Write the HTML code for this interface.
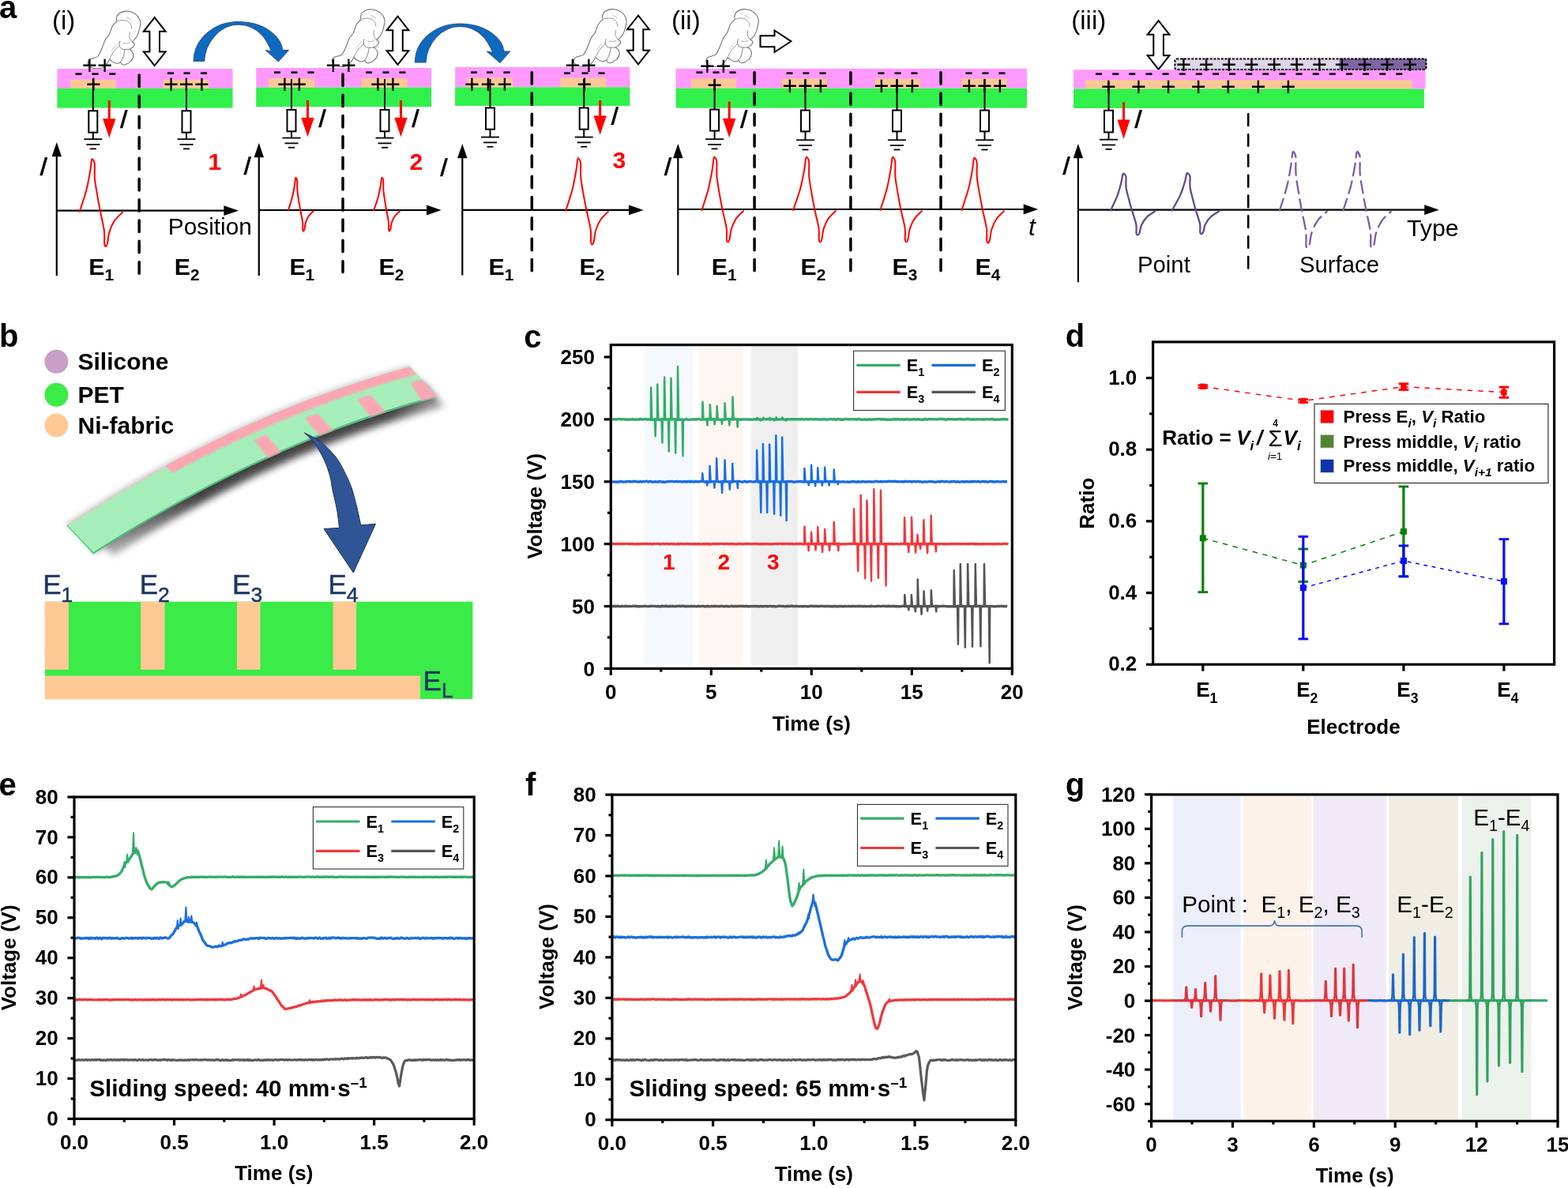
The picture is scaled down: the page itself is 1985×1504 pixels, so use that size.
<!DOCTYPE html>
<html lang="en"><head><meta charset="utf-8"><title>Figure</title>
<style>
html,body{margin:0;padding:0;background:#fff;}
body{width:1985px;height:1504px;overflow:hidden;}
svg{display:block;font-family:"Liberation Sans",sans-serif;}
</style></head><body>
<svg width="1985" height="1504" viewBox="0 0 1985 1504">
<rect width="1985" height="1504" fill="#fff"/>
<g id="pa">
<text x="-1" y="22.6" font-size="40" font-weight="bold" font-style="normal" fill="#000" text-anchor="start" >a</text>
<text x="66" y="36.8" font-size="33" font-weight="normal" font-style="normal" fill="#000" text-anchor="start" >(i)</text>
<g transform="translate(100 5) scale(1)" fill="#fefefe" stroke="#6e6e6e" stroke-width="1.05" stroke-linejoin="round" stroke-linecap="round">
<path d="M47.9,22.1 C46.5,17.5 48,14.2 51,12 C54,9.6 58,8.8 62,9.3 C68,10 73.5,13.5 76.3,18.5 C78.3,22.5 78.2,27 76.6,31 C76,35 74.8,38.5 73,41.5 C71.3,44.3 69.3,46.3 67.2,47.9 C70,48.8 71.2,50.5 69.8,52.8 C68.5,55 66.5,56.5 64,57.5 C66.8,59 68.6,61.5 68.9,64.6 C69,68 67.6,70.5 65.5,72.5 C63,75 60,76.8 57,77.3 C55,77.3 53.5,75.6 52.7,73.6 C51,75 49.3,75.5 47.5,75.3 C44,74.6 41,72.6 38.9,70 L35.9,74.8 C34,77.5 32,79.5 29.9,80.8 C25,82.3 19.5,82 15,80.2 C12.5,78.8 11.3,76.8 11.3,74.8 C11.2,73.5 11.5,72.6 12,71.8 C12.8,70.5 13.8,69.8 15,69.4 C18,68.5 21.5,68.2 23.9,66.4 C26.5,62.5 28.2,58 29.9,53.9 C31,50.8 32,47.8 33.5,44.9 C35,42.8 36.8,41 38.3,38.9 C39.6,35.5 40.4,32 41.9,28.7 C43.5,26 45.5,23.8 47.9,22.1 Z"/>
<path d="M47.9,22.1 C51.5,20.2 56.5,20 60,21.2 C64.5,23 66.8,26.5 66.5,31" fill="none" stroke="#8f8f8f" stroke-width="0.9"/>
<path d="M60.5,17 C63,17.8 65,19.3 66.3,21" fill="none" stroke="#a5a5a5" stroke-width="0.8"/>
<path d="M64.5,36 C63,39.5 63.5,43.5 67.2,47.9" fill="none" stroke="#8a8a8a" stroke-width="0.9"/>
<path d="M52,47 C50.5,50 50.5,53 52.5,55.5 C54,57 56,57.6 57.5,57.5 C60,57.8 62.3,57.8 64,57.5" fill="none" stroke="#7a7a7a" stroke-width="0.95"/>
<path d="M56,49.5 C58.5,50.5 62,50.2 64.5,49" fill="none" stroke="#9a9a9a" stroke-width="0.8"/>
<path d="M38.9,70 C40.5,64.5 44.5,58.5 50.5,53.5" fill="none" stroke="#8a8a8a" stroke-width="0.9"/>
<path d="M52.7,73.6 C55.5,69.5 57.5,64 57.8,58" fill="none" stroke="#7f7f7f" stroke-width="0.95"/>
<path d="M41,60 C43,56.5 45.5,53.5 48,51" fill="none" stroke="#c2c2c2" stroke-width="0.8"/>
</g>
<polygon points="195.7,22.2 209.6,39.8 202,39.8 202,65.6 209.6,65.6 195.7,83.2 181.8,65.6 189.4,65.6 189.4,39.8 181.8,39.8" fill="#fff" stroke="#000" stroke-width="2" stroke-linejoin="miter"/>
<path d="M245.1,77.4 C245.1,49.4 271.52,27.7 301.55,27.7 C336.38,27.7 356.2,47.7 357.7,63.6 L365.2,63.6 L352.6,77.7 L336.5,63.6 L343.7,65.2 C339.2,53.7 329.17,31.3 301.55,31.1 C278.73,31.1 259.6,53.4 258.6,77.4 Z" fill="#0C6BBE" stroke="#2F5597" stroke-width="1.2" stroke-linejoin="round"/>
<rect x="72.4" y="87" width="222.2" height="25" fill="#FF99FF" />
<rect x="72.4" y="112" width="222.2" height="24.6" fill="#31F04B" />
<rect x="89" y="100.8" width="57.6" height="11.2" fill="#FDC896" />
<rect x="206.4" y="100.8" width="57.9" height="11.2" fill="#FDC896" />
<line x1="176.2" y1="94.95" x2="176.2" y2="346.5" stroke="#000" stroke-width="3.5" stroke-dasharray="14.5 11.8" stroke-linecap="round"/>
<line x1="117.8" y1="100" x2="117.8" y2="140.3" stroke="#000" stroke-width="2" />
<rect x="112.3" y="140.3" width="11" height="27.4" fill="#fff" stroke="#000" stroke-width="2" />
<line x1="117.8" y1="167.7" x2="117.8" y2="176.2" stroke="#000" stroke-width="2" />
<line x1="106.3" y1="176.2" x2="129.3" y2="176.2" stroke="#000" stroke-width="1.8" />
<line x1="109.3" y1="183" x2="126.3" y2="183" stroke="#000" stroke-width="1.8" />
<line x1="113.8" y1="188.4" x2="121.8" y2="188.4" stroke="#000" stroke-width="1.8" />
<line x1="138.3" y1="127" x2="138.3" y2="152.3" stroke="#FF0000" stroke-width="3" />
<polygon points="130.1,150.3 146.5,150.3 138.3,174.5" fill="#FF0000" stroke="none" stroke-width="0" />
<text transform="translate(150.8 162.1) skewX(-5)" font-size="33" font-style="italic" stroke="#000" stroke-width="0.35">I</text>
<line x1="236" y1="100" x2="236" y2="140.3" stroke="#000" stroke-width="2" />
<rect x="230.5" y="140.3" width="11" height="27.4" fill="#fff" stroke="#000" stroke-width="2" />
<line x1="236" y1="167.7" x2="236" y2="176.2" stroke="#000" stroke-width="2" />
<line x1="224.5" y1="176.2" x2="247.5" y2="176.2" stroke="#000" stroke-width="1.8" />
<line x1="227.5" y1="183" x2="244.5" y2="183" stroke="#000" stroke-width="1.8" />
<line x1="232" y1="188.4" x2="240" y2="188.4" stroke="#000" stroke-width="1.8" />
<text x="113.4" y="93.76" font-size="33" font-weight="normal" font-style="normal" fill="#000" text-anchor="middle" >+</text>
<text x="132.7" y="93.76" font-size="33" font-weight="normal" font-style="normal" fill="#000" text-anchor="middle" >+</text>
<text x="99.5" y="103.2" font-size="33" font-weight="normal" font-style="normal" fill="#000" text-anchor="middle" >-</text>
<text x="120.5" y="103.2" font-size="33" font-weight="normal" font-style="normal" fill="#000" text-anchor="middle" >-</text>
<text x="142.2" y="103.2" font-size="33" font-weight="normal" font-style="normal" fill="#000" text-anchor="middle" >-</text>
<text x="118.4" y="118.26" font-size="33" font-weight="normal" font-style="normal" fill="#000" text-anchor="middle" >+</text>
<text x="215.9" y="102.1" font-size="33" font-weight="normal" font-style="normal" fill="#000" text-anchor="middle" >-</text>
<text x="236.5" y="102.1" font-size="33" font-weight="normal" font-style="normal" fill="#000" text-anchor="middle" >-</text>
<text x="258" y="102.1" font-size="33" font-weight="normal" font-style="normal" fill="#000" text-anchor="middle" >-</text>
<text x="216.7" y="118.26" font-size="33" font-weight="normal" font-style="normal" fill="#000" text-anchor="middle" >+</text>
<text x="236" y="118.26" font-size="33" font-weight="normal" font-style="normal" fill="#000" text-anchor="middle" >+</text>
<text x="255.4" y="118.26" font-size="33" font-weight="normal" font-style="normal" fill="#000" text-anchor="middle" >+</text>
<line x1="71.8" y1="192" x2="71.8" y2="349" stroke="#000" stroke-width="2.2" />
<polygon points="71.8,180 65.6,198.3 78,198.3" fill="#000" stroke="none" stroke-width="0" />
<line x1="71.8" y1="266.7" x2="290" y2="266.7" stroke="#000" stroke-width="2.2" />
<polygon points="302,266.7 283.4,260.3 283.4,273.1" fill="#000" stroke="none" stroke-width="0" />
<text transform="translate(49.3 222.2) skewX(-5)" font-size="33" font-style="italic" stroke="#000" stroke-width="0.35">I</text>
<path d="M100.8,267.7C102.16,263.41 107.14,249.08 109.28,240.91C111.41,232.75 113.12,222.57 114.17,216.65C115.21,210.73 115.33,206.36 115.8,203.92C116.27,201.48 116.46,200.89 117.1,201.4C117.74,201.91 119.34,203.1 119.8,207.1C120.26,211.1 119.33,219.44 119.97,226.4C120.61,233.35 122.67,243.99 123.79,250.59C124.92,257.2 125.71,261 127,267.7C128.3,274.4 131.07,285.95 131.9,292.5C132.73,299.04 131.86,305.48 132.19,308.58C132.53,311.69 133.36,312.15 134,311.9C134.64,311.65 135.52,309.84 136.2,306.99C136.89,304.14 136.93,298.46 138.31,294.09C139.68,289.71 142.18,283.64 144.82,279.63C147.46,275.62 153.2,270.72 154.8,269.03" fill="none" stroke="#FF0000" stroke-width="2" stroke-linecap="round" stroke-linejoin="round"/>
<text x="263.5" y="215.1" font-size="30" font-weight="bold" font-style="normal" fill="#FF0000" text-anchor="start" >1</text>
<text x="212.8" y="297.4" font-size="29.8" font-weight="normal" font-style="normal" fill="#000" text-anchor="start" >Position</text>
<text x="112.2" y="348.1" font-size="30.3" font-weight="bold" font-style="normal" fill="#000" text-anchor="start" >E<tspan font-size="20.91" dy="6.5">1</tspan></text>
<text x="220.7" y="348.1" font-size="30.3" font-weight="bold" font-style="normal" fill="#000" text-anchor="start" >E<tspan font-size="20.91" dy="6.5">2</tspan></text>
<g transform="translate(409.2 2.6) scale(1)" fill="#fefefe" stroke="#6e6e6e" stroke-width="1.05" stroke-linejoin="round" stroke-linecap="round">
<path d="M47.9,22.1 C46.5,17.5 48,14.2 51,12 C54,9.6 58,8.8 62,9.3 C68,10 73.5,13.5 76.3,18.5 C78.3,22.5 78.2,27 76.6,31 C76,35 74.8,38.5 73,41.5 C71.3,44.3 69.3,46.3 67.2,47.9 C70,48.8 71.2,50.5 69.8,52.8 C68.5,55 66.5,56.5 64,57.5 C66.8,59 68.6,61.5 68.9,64.6 C69,68 67.6,70.5 65.5,72.5 C63,75 60,76.8 57,77.3 C55,77.3 53.5,75.6 52.7,73.6 C51,75 49.3,75.5 47.5,75.3 C44,74.6 41,72.6 38.9,70 L35.9,74.8 C34,77.5 32,79.5 29.9,80.8 C25,82.3 19.5,82 15,80.2 C12.5,78.8 11.3,76.8 11.3,74.8 C11.2,73.5 11.5,72.6 12,71.8 C12.8,70.5 13.8,69.8 15,69.4 C18,68.5 21.5,68.2 23.9,66.4 C26.5,62.5 28.2,58 29.9,53.9 C31,50.8 32,47.8 33.5,44.9 C35,42.8 36.8,41 38.3,38.9 C39.6,35.5 40.4,32 41.9,28.7 C43.5,26 45.5,23.8 47.9,22.1 Z"/>
<path d="M47.9,22.1 C51.5,20.2 56.5,20 60,21.2 C64.5,23 66.8,26.5 66.5,31" fill="none" stroke="#8f8f8f" stroke-width="0.9"/>
<path d="M60.5,17 C63,17.8 65,19.3 66.3,21" fill="none" stroke="#a5a5a5" stroke-width="0.8"/>
<path d="M64.5,36 C63,39.5 63.5,43.5 67.2,47.9" fill="none" stroke="#8a8a8a" stroke-width="0.9"/>
<path d="M52,47 C50.5,50 50.5,53 52.5,55.5 C54,57 56,57.6 57.5,57.5 C60,57.8 62.3,57.8 64,57.5" fill="none" stroke="#7a7a7a" stroke-width="0.95"/>
<path d="M56,49.5 C58.5,50.5 62,50.2 64.5,49" fill="none" stroke="#9a9a9a" stroke-width="0.8"/>
<path d="M38.9,70 C40.5,64.5 44.5,58.5 50.5,53.5" fill="none" stroke="#8a8a8a" stroke-width="0.9"/>
<path d="M52.7,73.6 C55.5,69.5 57.5,64 57.8,58" fill="none" stroke="#7f7f7f" stroke-width="0.95"/>
<path d="M41,60 C43,56.5 45.5,53.5 48,51" fill="none" stroke="#c2c2c2" stroke-width="0.8"/>
</g>
<polygon points="503.5,20.7 517.4,38.3 509.8,38.3 509.8,64.2 517.4,64.2 503.5,81.8 489.6,64.2 497.2,64.2 497.2,38.3 489.6,38.3" fill="#fff" stroke="#000" stroke-width="2" stroke-linejoin="miter"/>
<path d="M525.5,79 C525.5,51 551.9,30 581.9,30 C616.7,30 636.5,50 638,65.2 L645.5,65.2 L632.9,79.3 L616.8,65.2 L624,66.8 C619.5,56 609.5,33.6 581.9,33.4 C559.1,33.4 540,55 539,79 Z" fill="#0C6BBE" stroke="#2F5597" stroke-width="1.2" stroke-linejoin="round"/>
<rect x="324.2" y="86" width="221.8" height="24.7" fill="#FF99FF" />
<rect x="324.2" y="110.7" width="221.8" height="24.6" fill="#31F04B" />
<rect x="339.8" y="99.2" width="58.2" height="11.5" fill="#FDC896" />
<rect x="457.8" y="99.2" width="57.6" height="11.5" fill="#FDC896" />
<line x1="434" y1="93.95" x2="434" y2="344.5" stroke="#000" stroke-width="3.5" stroke-dasharray="14.5 11.8" stroke-linecap="round"/>
<line x1="369" y1="100" x2="369" y2="139" stroke="#000" stroke-width="2" />
<rect x="363.5" y="139" width="11" height="27.3" fill="#fff" stroke="#000" stroke-width="2" />
<line x1="369" y1="166.3" x2="369" y2="174.6" stroke="#000" stroke-width="2" />
<line x1="357.5" y1="174.6" x2="380.5" y2="174.6" stroke="#000" stroke-width="1.8" />
<line x1="360.5" y1="181.4" x2="377.5" y2="181.4" stroke="#000" stroke-width="1.8" />
<line x1="365" y1="186.8" x2="373" y2="186.8" stroke="#000" stroke-width="1.8" />
<line x1="389.5" y1="127" x2="389.5" y2="151" stroke="#FF0000" stroke-width="3" />
<polygon points="381.3,149 397.7,149 389.5,173.2" fill="#FF0000" stroke="none" stroke-width="0" />
<text transform="translate(402 160.8) skewX(-5)" font-size="33" font-style="italic" stroke="#000" stroke-width="0.35">I</text>
<line x1="487" y1="100" x2="487" y2="139" stroke="#000" stroke-width="2" />
<rect x="481.5" y="139" width="11" height="27.3" fill="#fff" stroke="#000" stroke-width="2" />
<line x1="487" y1="166.3" x2="487" y2="174.6" stroke="#000" stroke-width="2" />
<line x1="475.5" y1="174.6" x2="498.5" y2="174.6" stroke="#000" stroke-width="1.8" />
<line x1="478.5" y1="181.4" x2="495.5" y2="181.4" stroke="#000" stroke-width="1.8" />
<line x1="483" y1="186.8" x2="491" y2="186.8" stroke="#000" stroke-width="1.8" />
<line x1="507.5" y1="127" x2="507.5" y2="151" stroke="#FF0000" stroke-width="3" />
<polygon points="499.3,149 515.7,149 507.5,173.2" fill="#FF0000" stroke="none" stroke-width="0" />
<text transform="translate(520 160.8) skewX(-5)" font-size="33" font-style="italic" stroke="#000" stroke-width="0.35">I</text>
<text x="422" y="94.26" font-size="33" font-weight="normal" font-style="normal" fill="#000" text-anchor="middle" >+</text>
<text x="441.5" y="94.26" font-size="33" font-weight="normal" font-style="normal" fill="#000" text-anchor="middle" >+</text>
<text x="351" y="101.2" font-size="33" font-weight="normal" font-style="normal" fill="#000" text-anchor="middle" >-</text>
<text x="372.5" y="101.2" font-size="33" font-weight="normal" font-style="normal" fill="#000" text-anchor="middle" >-</text>
<text x="393.5" y="101.2" font-size="33" font-weight="normal" font-style="normal" fill="#000" text-anchor="middle" >-</text>
<text x="360.5" y="117.56" font-size="33" font-weight="normal" font-style="normal" fill="#000" text-anchor="middle" >+</text>
<text x="379" y="117.56" font-size="33" font-weight="normal" font-style="normal" fill="#000" text-anchor="middle" >+</text>
<text x="467" y="101.2" font-size="33" font-weight="normal" font-style="normal" fill="#000" text-anchor="middle" >-</text>
<text x="488.5" y="101.2" font-size="33" font-weight="normal" font-style="normal" fill="#000" text-anchor="middle" >-</text>
<text x="509.5" y="101.2" font-size="33" font-weight="normal" font-style="normal" fill="#000" text-anchor="middle" >-</text>
<text x="478.5" y="117.56" font-size="33" font-weight="normal" font-style="normal" fill="#000" text-anchor="middle" >+</text>
<text x="497.5" y="117.56" font-size="33" font-weight="normal" font-style="normal" fill="#000" text-anchor="middle" >+</text>
<line x1="327.8" y1="193" x2="327.8" y2="349" stroke="#000" stroke-width="2.2" />
<polygon points="327.8,181 321.6,199.3 334,199.3" fill="#000" stroke="none" stroke-width="0" />
<line x1="327.8" y1="266" x2="546.6" y2="266" stroke="#000" stroke-width="2.2" />
<polygon points="558.6,266 540,259.6 540,272.4" fill="#000" stroke="none" stroke-width="0" />
<text transform="translate(307.2 221) skewX(-5)" font-size="33" font-style="italic" stroke="#000" stroke-width="0.35">I</text>
<path d="M364.8,266.5C365.62,263.82 368.65,254.87 369.95,249.77C371.25,244.67 372.28,238.32 372.92,234.62C373.55,230.93 373.62,228.2 373.91,226.67C374.19,225.15 374.33,224.78 374.7,225.1C375.07,225.42 375.97,226.16 376.24,228.66C376.5,231.16 375.97,236.36 376.33,240.71C376.69,245.05 377.86,251.69 378.5,255.82C379.14,259.95 379.59,262.45 380.33,266.5C381.06,270.55 382.64,277.28 383.11,281.14C383.58,285 383.08,288.81 383.27,290.64C383.46,292.48 383.93,292.75 384.3,292.6C384.67,292.45 385.2,291.39 385.61,289.7C386.03,288.02 386.05,284.67 386.87,282.08C387.69,279.5 389.17,275.91 390.75,273.55C392.32,271.18 395.75,268.29 396.7,267.28" fill="none" stroke="#FF0000" stroke-width="2" stroke-linecap="round" stroke-linejoin="round"/>
<path d="M473.1,266.5C473.99,263.82 477.26,254.87 478.66,249.77C480.07,244.67 481.19,238.32 481.87,234.62C482.56,230.93 482.64,228.2 482.94,226.67C483.25,225.15 483.42,224.78 483.8,225.1C484.18,225.42 485.04,226.16 485.29,228.66C485.54,231.16 485.03,236.36 485.38,240.71C485.73,245.05 486.86,251.69 487.48,255.82C488.1,259.95 488.54,262.45 489.25,266.5C489.96,270.55 491.49,277.28 491.95,281.14C492.4,285 491.92,288.81 492.1,290.64C492.29,292.48 492.72,292.75 493.1,292.6C493.48,292.45 494.05,291.39 494.48,289.7C494.91,288.02 494.93,284.67 495.79,282.08C496.65,279.5 498.21,275.91 499.86,273.55C501.51,271.18 505.1,268.29 506.1,267.28" fill="none" stroke="#FF0000" stroke-width="2" stroke-linecap="round" stroke-linejoin="round"/>
<text x="518.5" y="215" font-size="30" font-weight="bold" font-style="normal" fill="#FF0000" text-anchor="start" >2</text>
<text x="366.4" y="348.1" font-size="30.3" font-weight="bold" font-style="normal" fill="#000" text-anchor="start" >E<tspan font-size="20.91" dy="6.5">1</tspan></text>
<text x="479.5" y="348.1" font-size="30.3" font-weight="bold" font-style="normal" fill="#000" text-anchor="start" >E<tspan font-size="20.91" dy="6.5">2</tspan></text>
<g transform="translate(715.2 2.5) scale(1)" fill="#fefefe" stroke="#6e6e6e" stroke-width="1.05" stroke-linejoin="round" stroke-linecap="round">
<path d="M47.9,22.1 C46.5,17.5 48,14.2 51,12 C54,9.6 58,8.8 62,9.3 C68,10 73.5,13.5 76.3,18.5 C78.3,22.5 78.2,27 76.6,31 C76,35 74.8,38.5 73,41.5 C71.3,44.3 69.3,46.3 67.2,47.9 C70,48.8 71.2,50.5 69.8,52.8 C68.5,55 66.5,56.5 64,57.5 C66.8,59 68.6,61.5 68.9,64.6 C69,68 67.6,70.5 65.5,72.5 C63,75 60,76.8 57,77.3 C55,77.3 53.5,75.6 52.7,73.6 C51,75 49.3,75.5 47.5,75.3 C44,74.6 41,72.6 38.9,70 L35.9,74.8 C34,77.5 32,79.5 29.9,80.8 C25,82.3 19.5,82 15,80.2 C12.5,78.8 11.3,76.8 11.3,74.8 C11.2,73.5 11.5,72.6 12,71.8 C12.8,70.5 13.8,69.8 15,69.4 C18,68.5 21.5,68.2 23.9,66.4 C26.5,62.5 28.2,58 29.9,53.9 C31,50.8 32,47.8 33.5,44.9 C35,42.8 36.8,41 38.3,38.9 C39.6,35.5 40.4,32 41.9,28.7 C43.5,26 45.5,23.8 47.9,22.1 Z"/>
<path d="M47.9,22.1 C51.5,20.2 56.5,20 60,21.2 C64.5,23 66.8,26.5 66.5,31" fill="none" stroke="#8f8f8f" stroke-width="0.9"/>
<path d="M60.5,17 C63,17.8 65,19.3 66.3,21" fill="none" stroke="#a5a5a5" stroke-width="0.8"/>
<path d="M64.5,36 C63,39.5 63.5,43.5 67.2,47.9" fill="none" stroke="#8a8a8a" stroke-width="0.9"/>
<path d="M52,47 C50.5,50 50.5,53 52.5,55.5 C54,57 56,57.6 57.5,57.5 C60,57.8 62.3,57.8 64,57.5" fill="none" stroke="#7a7a7a" stroke-width="0.95"/>
<path d="M56,49.5 C58.5,50.5 62,50.2 64.5,49" fill="none" stroke="#9a9a9a" stroke-width="0.8"/>
<path d="M38.9,70 C40.5,64.5 44.5,58.5 50.5,53.5" fill="none" stroke="#8a8a8a" stroke-width="0.9"/>
<path d="M52.7,73.6 C55.5,69.5 57.5,64 57.8,58" fill="none" stroke="#7f7f7f" stroke-width="0.95"/>
<path d="M41,60 C43,56.5 45.5,53.5 48,51" fill="none" stroke="#c2c2c2" stroke-width="0.8"/>
</g>
<polygon points="808,19.6 821.9,37.2 814.3,37.2 814.3,63.7 821.9,63.7 808,81.3 794.1,63.7 801.7,63.7 801.7,37.2 794.1,37.2" fill="#fff" stroke="#000" stroke-width="2" stroke-linejoin="miter"/>
<rect x="576.1" y="85" width="221.3" height="25.3" fill="#FF99FF" />
<rect x="576.1" y="110.3" width="221.3" height="23.7" fill="#31F04B" />
<rect x="591.4" y="98.4" width="57.8" height="11.9" fill="#FDC896" />
<rect x="709.3" y="98.4" width="57.8" height="11.9" fill="#FDC896" />
<line x1="673.3" y1="91.75" x2="673.3" y2="342.7" stroke="#000" stroke-width="3.5" stroke-dasharray="14.5 11.8" stroke-linecap="round"/>
<line x1="620.5" y1="100" x2="620.5" y2="136.5" stroke="#000" stroke-width="2" />
<rect x="615" y="136.5" width="11" height="27.2" fill="#fff" stroke="#000" stroke-width="2" />
<line x1="620.5" y1="163.7" x2="620.5" y2="173.6" stroke="#000" stroke-width="2" />
<line x1="609" y1="173.6" x2="632" y2="173.6" stroke="#000" stroke-width="1.8" />
<line x1="612" y1="180.4" x2="629" y2="180.4" stroke="#000" stroke-width="1.8" />
<line x1="616.5" y1="185.8" x2="624.5" y2="185.8" stroke="#000" stroke-width="1.8" />
<line x1="739.2" y1="100" x2="739.2" y2="136.5" stroke="#000" stroke-width="2" />
<rect x="733.7" y="136.5" width="11" height="27.2" fill="#fff" stroke="#000" stroke-width="2" />
<line x1="739.2" y1="163.7" x2="739.2" y2="173.6" stroke="#000" stroke-width="2" />
<line x1="727.7" y1="173.6" x2="750.7" y2="173.6" stroke="#000" stroke-width="1.8" />
<line x1="730.7" y1="180.4" x2="747.7" y2="180.4" stroke="#000" stroke-width="1.8" />
<line x1="735.2" y1="185.8" x2="743.2" y2="185.8" stroke="#000" stroke-width="1.8" />
<line x1="759.7" y1="127" x2="759.7" y2="148.5" stroke="#FF0000" stroke-width="3" />
<polygon points="751.5,146.5 767.9,146.5 759.7,170.7" fill="#FF0000" stroke="none" stroke-width="0" />
<text transform="translate(772.2 158.3) skewX(-5)" font-size="33" font-style="italic" stroke="#000" stroke-width="0.35">I</text>
<text x="600" y="100.6" font-size="33" font-weight="normal" font-style="normal" fill="#000" text-anchor="middle" >-</text>
<text x="620" y="100.6" font-size="33" font-weight="normal" font-style="normal" fill="#000" text-anchor="middle" >-</text>
<text x="641.5" y="100.6" font-size="33" font-weight="normal" font-style="normal" fill="#000" text-anchor="middle" >-</text>
<text x="597.5" y="117.56" font-size="33" font-weight="normal" font-style="normal" fill="#000" text-anchor="middle" >+</text>
<text x="618" y="117.56" font-size="33" font-weight="normal" font-style="normal" fill="#000" text-anchor="middle" >+</text>
<text x="639" y="117.56" font-size="33" font-weight="normal" font-style="normal" fill="#000" text-anchor="middle" >+</text>
<text x="725" y="94.06" font-size="33" font-weight="normal" font-style="normal" fill="#000" text-anchor="middle" >+</text>
<text x="745.5" y="94.06" font-size="33" font-weight="normal" font-style="normal" fill="#000" text-anchor="middle" >+</text>
<text x="718" y="101.8" font-size="33" font-weight="normal" font-style="normal" fill="#000" text-anchor="middle" >-</text>
<text x="740.5" y="101.8" font-size="33" font-weight="normal" font-style="normal" fill="#000" text-anchor="middle" >-</text>
<text x="761.5" y="101.8" font-size="33" font-weight="normal" font-style="normal" fill="#000" text-anchor="middle" >-</text>
<text x="739.8" y="118.06" font-size="33" font-weight="normal" font-style="normal" fill="#000" text-anchor="middle" >+</text>
<line x1="585.3" y1="194" x2="585.3" y2="348.4" stroke="#000" stroke-width="2.2" />
<polygon points="585.3,182 579.1,200.3 591.5,200.3" fill="#000" stroke="none" stroke-width="0" />
<line x1="585.3" y1="265.9" x2="802.6" y2="265.9" stroke="#000" stroke-width="2.2" />
<polygon points="814.6,265.9 796,259.5 796,272.3" fill="#000" stroke="none" stroke-width="0" />
<text transform="translate(556 223) skewX(-5)" font-size="33" font-style="italic" stroke="#000" stroke-width="0.35">I</text>
<path d="M716.2,266.8C717.54,262.51 722.46,248.15 724.57,239.97C726.68,231.79 728.37,221.6 729.4,215.67C730.43,209.74 730.55,205.37 731.01,202.92C731.48,200.48 731.64,199.89 732.3,200.4C732.96,200.91 734.64,202.11 735.12,206.11C735.59,210.12 734.63,218.46 735.29,225.43C735.96,232.4 738.1,243.05 739.27,249.67C740.44,256.29 741.26,260.24 742.61,266.8C743.97,273.36 746.85,284.39 747.72,290.7C748.58,297 747.67,303.21 748.02,306.2C748.37,309.2 749.26,309.65 749.9,309.4C750.54,309.15 751.35,307.42 752.01,304.67C752.67,301.92 752.7,296.45 754.02,292.23C755.34,288.01 757.72,282.17 760.25,278.3C762.77,274.44 768.27,269.71 769.8,268.08" fill="none" stroke="#FF0000" stroke-width="2" stroke-linecap="round" stroke-linejoin="round"/>
<text x="775.5" y="212.8" font-size="30" font-weight="bold" font-style="normal" fill="#FF0000" text-anchor="start" >3</text>
<text x="618.5" y="348.1" font-size="30.3" font-weight="bold" font-style="normal" fill="#000" text-anchor="start" >E<tspan font-size="20.91" dy="6.5">1</tspan></text>
<text x="733.5" y="348.1" font-size="30.3" font-weight="bold" font-style="normal" fill="#000" text-anchor="start" >E<tspan font-size="20.91" dy="6.5">2</tspan></text>
<text x="850" y="37.2" font-size="33" font-weight="normal" font-style="normal" fill="#000" text-anchor="start" >(ii)</text>
<g transform="translate(882.5 2.5) scale(1)" fill="#fefefe" stroke="#6e6e6e" stroke-width="1.05" stroke-linejoin="round" stroke-linecap="round">
<path d="M47.9,22.1 C46.5,17.5 48,14.2 51,12 C54,9.6 58,8.8 62,9.3 C68,10 73.5,13.5 76.3,18.5 C78.3,22.5 78.2,27 76.6,31 C76,35 74.8,38.5 73,41.5 C71.3,44.3 69.3,46.3 67.2,47.9 C70,48.8 71.2,50.5 69.8,52.8 C68.5,55 66.5,56.5 64,57.5 C66.8,59 68.6,61.5 68.9,64.6 C69,68 67.6,70.5 65.5,72.5 C63,75 60,76.8 57,77.3 C55,77.3 53.5,75.6 52.7,73.6 C51,75 49.3,75.5 47.5,75.3 C44,74.6 41,72.6 38.9,70 L35.9,74.8 C34,77.5 32,79.5 29.9,80.8 C25,82.3 19.5,82 15,80.2 C12.5,78.8 11.3,76.8 11.3,74.8 C11.2,73.5 11.5,72.6 12,71.8 C12.8,70.5 13.8,69.8 15,69.4 C18,68.5 21.5,68.2 23.9,66.4 C26.5,62.5 28.2,58 29.9,53.9 C31,50.8 32,47.8 33.5,44.9 C35,42.8 36.8,41 38.3,38.9 C39.6,35.5 40.4,32 41.9,28.7 C43.5,26 45.5,23.8 47.9,22.1 Z"/>
<path d="M47.9,22.1 C51.5,20.2 56.5,20 60,21.2 C64.5,23 66.8,26.5 66.5,31" fill="none" stroke="#8f8f8f" stroke-width="0.9"/>
<path d="M60.5,17 C63,17.8 65,19.3 66.3,21" fill="none" stroke="#a5a5a5" stroke-width="0.8"/>
<path d="M64.5,36 C63,39.5 63.5,43.5 67.2,47.9" fill="none" stroke="#8a8a8a" stroke-width="0.9"/>
<path d="M52,47 C50.5,50 50.5,53 52.5,55.5 C54,57 56,57.6 57.5,57.5 C60,57.8 62.3,57.8 64,57.5" fill="none" stroke="#7a7a7a" stroke-width="0.95"/>
<path d="M56,49.5 C58.5,50.5 62,50.2 64.5,49" fill="none" stroke="#9a9a9a" stroke-width="0.8"/>
<path d="M38.9,70 C40.5,64.5 44.5,58.5 50.5,53.5" fill="none" stroke="#8a8a8a" stroke-width="0.9"/>
<path d="M52.7,73.6 C55.5,69.5 57.5,64 57.8,58" fill="none" stroke="#7f7f7f" stroke-width="0.95"/>
<path d="M41,60 C43,56.5 45.5,53.5 48,51" fill="none" stroke="#c2c2c2" stroke-width="0.8"/>
</g>
<polygon points="962.5,45.2 980.5,45.2 980.5,38.5 1001.5,52.3 980.5,66 980.5,59.3 962.5,59.3" fill="#fff" stroke="#000" stroke-width="2" />
<rect x="855.6" y="86.9" width="444.5" height="24.9" fill="#FF99FF" />
<rect x="855.6" y="111.8" width="444.5" height="24.9" fill="#31F04B" />
<rect x="874.7" y="99.5" width="57.5" height="12.3" fill="#FDC896" />
<rect x="989.6" y="99.5" width="57.4" height="12.3" fill="#FDC896" />
<rect x="1107.5" y="99.5" width="57.5" height="12.3" fill="#FDC896" />
<rect x="1217.4" y="99.5" width="57.4" height="12.3" fill="#FDC896" />
<line x1="955.1" y1="91.75" x2="955.1" y2="342.7" stroke="#000" stroke-width="3.5" stroke-dasharray="14.5 11.8" stroke-linecap="round"/>
<line x1="1076.9" y1="91.75" x2="1076.9" y2="342.7" stroke="#000" stroke-width="3.5" stroke-dasharray="14.5 11.8" stroke-linecap="round"/>
<line x1="1191" y1="91.75" x2="1191" y2="342.7" stroke="#000" stroke-width="3.5" stroke-dasharray="14.5 11.8" stroke-linecap="round"/>
<line x1="904.6" y1="100" x2="904.6" y2="138.6" stroke="#000" stroke-width="2" />
<rect x="899.1" y="138.6" width="11" height="27" fill="#fff" stroke="#000" stroke-width="2" />
<line x1="904.6" y1="165.6" x2="904.6" y2="176.2" stroke="#000" stroke-width="2" />
<line x1="893.1" y1="176.2" x2="916.1" y2="176.2" stroke="#000" stroke-width="1.8" />
<line x1="896.1" y1="183" x2="913.1" y2="183" stroke="#000" stroke-width="1.8" />
<line x1="900.6" y1="188.4" x2="908.6" y2="188.4" stroke="#000" stroke-width="1.8" />
<line x1="923.2" y1="128.5" x2="923.2" y2="152.1" stroke="#FF0000" stroke-width="3" />
<polygon points="915,150.1 931.4,150.1 923.2,174.3" fill="#FF0000" stroke="none" stroke-width="0" />
<text transform="translate(935.7 161.9) skewX(-5)" font-size="33" font-style="italic" stroke="#000" stroke-width="0.35">I</text>
<line x1="1019.5" y1="100" x2="1019.5" y2="139.6" stroke="#000" stroke-width="2" />
<rect x="1014" y="139.6" width="11" height="26.8" fill="#fff" stroke="#000" stroke-width="2" />
<line x1="1019.5" y1="166.4" x2="1019.5" y2="177.3" stroke="#000" stroke-width="2" />
<line x1="1008" y1="177.3" x2="1031" y2="177.3" stroke="#000" stroke-width="1.8" />
<line x1="1011" y1="184.1" x2="1028" y2="184.1" stroke="#000" stroke-width="1.8" />
<line x1="1015.5" y1="189.5" x2="1023.5" y2="189.5" stroke="#000" stroke-width="1.8" />
<line x1="1135.5" y1="100" x2="1135.5" y2="139.6" stroke="#000" stroke-width="2" />
<rect x="1130" y="139.6" width="11" height="26.8" fill="#fff" stroke="#000" stroke-width="2" />
<line x1="1135.5" y1="166.4" x2="1135.5" y2="177.3" stroke="#000" stroke-width="2" />
<line x1="1124" y1="177.3" x2="1147" y2="177.3" stroke="#000" stroke-width="1.8" />
<line x1="1127" y1="184.1" x2="1144" y2="184.1" stroke="#000" stroke-width="1.8" />
<line x1="1131.5" y1="189.5" x2="1139.5" y2="189.5" stroke="#000" stroke-width="1.8" />
<line x1="1246.5" y1="100" x2="1246.5" y2="139.6" stroke="#000" stroke-width="2" />
<rect x="1241" y="139.6" width="11" height="26.8" fill="#fff" stroke="#000" stroke-width="2" />
<line x1="1246.5" y1="166.4" x2="1246.5" y2="177.3" stroke="#000" stroke-width="2" />
<line x1="1235" y1="177.3" x2="1258" y2="177.3" stroke="#000" stroke-width="1.8" />
<line x1="1238" y1="184.1" x2="1255" y2="184.1" stroke="#000" stroke-width="1.8" />
<line x1="1242.5" y1="189.5" x2="1250.5" y2="189.5" stroke="#000" stroke-width="1.8" />
<text x="895.5" y="94.56" font-size="33" font-weight="normal" font-style="normal" fill="#000" text-anchor="middle" >+</text>
<text x="916" y="94.56" font-size="33" font-weight="normal" font-style="normal" fill="#000" text-anchor="middle" >+</text>
<text x="885.5" y="101.1" font-size="33" font-weight="normal" font-style="normal" fill="#000" text-anchor="middle" >-</text>
<text x="906.5" y="101.1" font-size="33" font-weight="normal" font-style="normal" fill="#000" text-anchor="middle" >-</text>
<text x="927.5" y="101.1" font-size="33" font-weight="normal" font-style="normal" fill="#000" text-anchor="middle" >-</text>
<text x="904.6" y="118.56" font-size="33" font-weight="normal" font-style="normal" fill="#000" text-anchor="middle" >+</text>
<text x="999.5" y="101.9" font-size="33" font-weight="normal" font-style="normal" fill="#000" text-anchor="middle" >-</text>
<text x="1020.5" y="101.9" font-size="33" font-weight="normal" font-style="normal" fill="#000" text-anchor="middle" >-</text>
<text x="1041.5" y="101.9" font-size="33" font-weight="normal" font-style="normal" fill="#000" text-anchor="middle" >-</text>
<text x="1000" y="119.66" font-size="33" font-weight="normal" font-style="normal" fill="#000" text-anchor="middle" >+</text>
<text x="1019.5" y="119.66" font-size="33" font-weight="normal" font-style="normal" fill="#000" text-anchor="middle" >+</text>
<text x="1039" y="119.66" font-size="33" font-weight="normal" font-style="normal" fill="#000" text-anchor="middle" >+</text>
<text x="1115.5" y="101.9" font-size="33" font-weight="normal" font-style="normal" fill="#000" text-anchor="middle" >-</text>
<text x="1136.5" y="101.9" font-size="33" font-weight="normal" font-style="normal" fill="#000" text-anchor="middle" >-</text>
<text x="1157.5" y="101.9" font-size="33" font-weight="normal" font-style="normal" fill="#000" text-anchor="middle" >-</text>
<text x="1116" y="119.66" font-size="33" font-weight="normal" font-style="normal" fill="#000" text-anchor="middle" >+</text>
<text x="1135.5" y="119.66" font-size="33" font-weight="normal" font-style="normal" fill="#000" text-anchor="middle" >+</text>
<text x="1155" y="119.66" font-size="33" font-weight="normal" font-style="normal" fill="#000" text-anchor="middle" >+</text>
<text x="1226.5" y="101.9" font-size="33" font-weight="normal" font-style="normal" fill="#000" text-anchor="middle" >-</text>
<text x="1247.5" y="101.9" font-size="33" font-weight="normal" font-style="normal" fill="#000" text-anchor="middle" >-</text>
<text x="1268.5" y="101.9" font-size="33" font-weight="normal" font-style="normal" fill="#000" text-anchor="middle" >-</text>
<text x="1227" y="119.66" font-size="33" font-weight="normal" font-style="normal" fill="#000" text-anchor="middle" >+</text>
<text x="1246.5" y="119.66" font-size="33" font-weight="normal" font-style="normal" fill="#000" text-anchor="middle" >+</text>
<text x="1266" y="119.66" font-size="33" font-weight="normal" font-style="normal" fill="#000" text-anchor="middle" >+</text>
<line x1="858.3" y1="194" x2="858.3" y2="348.4" stroke="#000" stroke-width="2.2" />
<polygon points="858.3,182 852.1,200.3 864.5,200.3" fill="#000" stroke="none" stroke-width="0" />
<line x1="858.3" y1="265" x2="1302.3" y2="265" stroke="#000" stroke-width="2.2" />
<polygon points="1314.3,265 1295.7,258.6 1295.7,271.4" fill="#000" stroke="none" stroke-width="0" />
<text transform="translate(839.4 222) skewX(-5)" font-size="33" font-style="italic" stroke="#000" stroke-width="0.35">I</text>
<path d="M888.5,266C889.84,261.67 894.76,247.19 896.87,238.93C898.98,230.68 900.67,220.39 901.7,214.41C902.73,208.43 902.85,204.01 903.31,201.55C903.78,199.08 903.95,198.49 904.6,199C905.25,199.51 906.88,200.72 907.35,204.76C907.82,208.8 906.87,217.23 907.52,224.26C908.17,231.29 910.27,242.04 911.41,248.71C912.56,255.39 913.36,259.62 914.68,266C916,272.38 918.82,282.64 919.67,288.61C920.51,294.57 919.62,300.45 919.96,303.28C920.3,306.11 921.18,306.53 921.8,306.3C922.42,306.07 923.2,304.43 923.84,301.83C924.47,299.23 924.5,294.05 925.77,290.06C927.05,286.07 929.35,280.54 931.78,276.88C934.22,273.22 939.53,268.76 941,267.21" fill="none" stroke="#FF0000" stroke-width="2" stroke-linecap="round" stroke-linejoin="round"/>
<path d="M1004.1,266C1005.54,261.67 1010.83,247.19 1013.1,238.93C1015.37,230.68 1017.18,220.39 1018.29,214.41C1019.39,208.43 1019.52,204.01 1020.02,201.55C1020.51,199.08 1020.74,198.49 1021.4,199C1022.06,199.51 1023.68,200.72 1024.15,204.76C1024.62,208.8 1023.67,217.23 1024.32,224.26C1024.97,231.29 1027.07,242.04 1028.21,248.71C1029.36,255.39 1030.16,259.62 1031.48,266C1032.8,272.38 1035.62,282.64 1036.47,288.61C1037.31,294.57 1036.42,300.45 1036.76,303.28C1037.1,306.11 1037.98,306.53 1038.6,306.3C1039.22,306.07 1039.99,304.43 1040.62,301.83C1041.26,299.23 1041.29,294.05 1042.55,290.06C1043.82,286.07 1046.11,280.54 1048.53,276.88C1050.96,273.22 1056.23,268.76 1057.7,267.21" fill="none" stroke="#FF0000" stroke-width="2" stroke-linecap="round" stroke-linejoin="round"/>
<path d="M1114.4,266C1115.74,261.67 1120.66,247.19 1122.77,238.93C1124.88,230.68 1126.57,220.39 1127.6,214.41C1128.63,208.43 1128.75,204.01 1129.21,201.55C1129.68,199.08 1129.85,198.49 1130.5,199C1131.15,199.51 1132.78,200.72 1133.25,204.76C1133.72,208.8 1132.77,217.23 1133.42,224.26C1134.07,231.29 1136.17,242.04 1137.31,248.71C1138.46,255.39 1139.26,259.62 1140.58,266C1141.9,272.38 1144.72,282.64 1145.57,288.61C1146.41,294.57 1145.52,300.45 1145.86,303.28C1146.2,306.11 1147.08,306.53 1147.7,306.3C1148.32,306.07 1149.1,304.43 1149.74,301.83C1150.37,299.23 1150.4,294.05 1151.67,290.06C1152.95,286.07 1155.25,280.54 1157.68,276.88C1160.12,273.22 1165.43,268.76 1166.9,267.21" fill="none" stroke="#FF0000" stroke-width="2" stroke-linecap="round" stroke-linejoin="round"/>
<path d="M1217.4,266C1218.77,261.73 1223.82,247.47 1225.98,239.34C1228.14,231.2 1229.87,221.07 1230.93,215.18C1231.99,209.29 1232.1,204.94 1232.58,202.51C1233.06,200.08 1233.25,199.49 1233.9,200C1234.55,200.51 1236.18,201.69 1236.65,205.68C1237.12,209.66 1236.17,217.95 1236.82,224.88C1237.47,231.81 1239.57,242.39 1240.71,248.97C1241.86,255.55 1242.66,259.55 1243.98,266C1245.3,272.45 1248.12,283.14 1248.97,289.28C1249.81,295.42 1248.92,301.47 1249.26,304.39C1249.6,307.3 1250.47,307.74 1251.1,307.5C1251.73,307.26 1252.55,305.57 1253.21,302.89C1253.87,300.22 1253.9,294.89 1255.22,290.78C1256.54,286.67 1258.92,280.97 1261.45,277.2C1263.97,273.44 1269.47,268.84 1271,267.25" fill="none" stroke="#FF0000" stroke-width="2" stroke-linecap="round" stroke-linejoin="round"/>
<text x="1302" y="297.9" font-size="32" font-weight="normal" font-style="italic" fill="#000" text-anchor="start" >t</text>
<text x="900.7" y="348.1" font-size="30.3" font-weight="bold" font-style="normal" fill="#000" text-anchor="start" >E<tspan font-size="20.91" dy="6.5">1</tspan></text>
<text x="1013.5" y="348.1" font-size="30.3" font-weight="bold" font-style="normal" fill="#000" text-anchor="start" >E<tspan font-size="20.91" dy="6.5">2</tspan></text>
<text x="1129.5" y="348.1" font-size="30.3" font-weight="bold" font-style="normal" fill="#000" text-anchor="start" >E<tspan font-size="20.91" dy="6.5">3</tspan></text>
<text x="1234.5" y="348.1" font-size="30.3" font-weight="bold" font-style="normal" fill="#000" text-anchor="start" >E<tspan font-size="20.91" dy="6.5">4</tspan></text>
<text x="1356.3" y="36.8" font-size="33" font-weight="normal" font-style="normal" fill="#000" text-anchor="start" >(iii)</text>
<polygon points="1466.6,26.2 1480.5,43.8 1472.9,43.8 1472.9,70.2 1480.5,70.2 1466.6,87.8 1452.7,70.2 1460.3,70.2 1460.3,43.8 1452.7,43.8" fill="#fff" stroke="#000" stroke-width="2" stroke-linejoin="miter"/>
<rect x="1359" y="88.2" width="445.6" height="24.3" fill="#FF99FF" />
<rect x="1374.2" y="101.2" width="413.4" height="11.3" fill="#FDC896" />
<rect x="1359" y="112.5" width="443.9" height="24.5" fill="#31F04B" />
<rect x="1487.4" y="74.4" width="318" height="13.6" fill="#DDD6E6" />
<rect x="1695.4" y="74.4" width="110" height="13.6" fill="#7F65A3" />
<rect x="1487.4" y="74.4" width="318" height="13.6" fill="none" stroke="#000" stroke-width="2" stroke-dasharray="3 1.7" rx="2"/>
<text x="1498.5" y="93.26" font-size="33" font-weight="normal" font-style="normal" fill="#000" text-anchor="middle" >+</text>
<text x="1527.14" y="93.26" font-size="33" font-weight="normal" font-style="normal" fill="#000" text-anchor="middle" >+</text>
<text x="1555.78" y="93.26" font-size="33" font-weight="normal" font-style="normal" fill="#000" text-anchor="middle" >+</text>
<text x="1584.42" y="93.26" font-size="33" font-weight="normal" font-style="normal" fill="#000" text-anchor="middle" >+</text>
<text x="1613.06" y="93.26" font-size="33" font-weight="normal" font-style="normal" fill="#000" text-anchor="middle" >+</text>
<text x="1641.7" y="93.26" font-size="33" font-weight="normal" font-style="normal" fill="#000" text-anchor="middle" >+</text>
<text x="1670.34" y="93.26" font-size="33" font-weight="normal" font-style="normal" fill="#000" text-anchor="middle" >+</text>
<text x="1698.98" y="93.26" font-size="33" font-weight="normal" font-style="normal" fill="#000" text-anchor="middle" >+</text>
<text x="1727.62" y="93.26" font-size="33" font-weight="normal" font-style="normal" fill="#000" text-anchor="middle" >+</text>
<text x="1756.26" y="93.26" font-size="33" font-weight="normal" font-style="normal" fill="#000" text-anchor="middle" >+</text>
<text x="1784.9" y="93.26" font-size="33" font-weight="normal" font-style="normal" fill="#000" text-anchor="middle" >+</text>
<text x="1391.1" y="103.2" font-size="33" font-weight="normal" font-style="normal" fill="#000" text-anchor="middle" >-</text>
<text x="1412.22" y="103.2" font-size="33" font-weight="normal" font-style="normal" fill="#000" text-anchor="middle" >-</text>
<text x="1433.34" y="103.2" font-size="33" font-weight="normal" font-style="normal" fill="#000" text-anchor="middle" >-</text>
<text x="1454.46" y="103.2" font-size="33" font-weight="normal" font-style="normal" fill="#000" text-anchor="middle" >-</text>
<text x="1475.58" y="103.2" font-size="33" font-weight="normal" font-style="normal" fill="#000" text-anchor="middle" >-</text>
<text x="1496.7" y="103.2" font-size="33" font-weight="normal" font-style="normal" fill="#000" text-anchor="middle" >-</text>
<text x="1517.82" y="103.2" font-size="33" font-weight="normal" font-style="normal" fill="#000" text-anchor="middle" >-</text>
<text x="1538.94" y="103.2" font-size="33" font-weight="normal" font-style="normal" fill="#000" text-anchor="middle" >-</text>
<text x="1560.06" y="103.2" font-size="33" font-weight="normal" font-style="normal" fill="#000" text-anchor="middle" >-</text>
<text x="1581.18" y="103.2" font-size="33" font-weight="normal" font-style="normal" fill="#000" text-anchor="middle" >-</text>
<text x="1602.3" y="103.2" font-size="33" font-weight="normal" font-style="normal" fill="#000" text-anchor="middle" >-</text>
<text x="1623.42" y="103.2" font-size="33" font-weight="normal" font-style="normal" fill="#000" text-anchor="middle" >-</text>
<text x="1644.54" y="103.2" font-size="33" font-weight="normal" font-style="normal" fill="#000" text-anchor="middle" >-</text>
<text x="1665.66" y="103.2" font-size="33" font-weight="normal" font-style="normal" fill="#000" text-anchor="middle" >-</text>
<text x="1686.78" y="103.2" font-size="33" font-weight="normal" font-style="normal" fill="#000" text-anchor="middle" >-</text>
<text x="1707.9" y="103.2" font-size="33" font-weight="normal" font-style="normal" fill="#000" text-anchor="middle" >-</text>
<text x="1729.02" y="103.2" font-size="33" font-weight="normal" font-style="normal" fill="#000" text-anchor="middle" >-</text>
<text x="1750.14" y="103.2" font-size="33" font-weight="normal" font-style="normal" fill="#000" text-anchor="middle" >-</text>
<text x="1771.26" y="103.2" font-size="33" font-weight="normal" font-style="normal" fill="#000" text-anchor="middle" >-</text>
<text x="1403.4" y="121.06" font-size="33" font-weight="normal" font-style="normal" fill="#000" text-anchor="middle" >+</text>
<text x="1441.3" y="121.06" font-size="33" font-weight="normal" font-style="normal" fill="#000" text-anchor="middle" >+</text>
<text x="1479.2" y="121.06" font-size="33" font-weight="normal" font-style="normal" fill="#000" text-anchor="middle" >+</text>
<text x="1517.1" y="121.06" font-size="33" font-weight="normal" font-style="normal" fill="#000" text-anchor="middle" >+</text>
<text x="1555" y="121.06" font-size="33" font-weight="normal" font-style="normal" fill="#000" text-anchor="middle" >+</text>
<text x="1592.9" y="121.06" font-size="33" font-weight="normal" font-style="normal" fill="#000" text-anchor="middle" >+</text>
<text x="1630.8" y="121.06" font-size="33" font-weight="normal" font-style="normal" fill="#000" text-anchor="middle" >+</text>
<line x1="1403.5" y1="104" x2="1403.5" y2="139.8" stroke="#000" stroke-width="2" />
<rect x="1398" y="139.8" width="11" height="27.6" fill="#fff" stroke="#000" stroke-width="2" />
<line x1="1403.5" y1="167.4" x2="1403.5" y2="176.7" stroke="#000" stroke-width="2" />
<line x1="1392" y1="176.7" x2="1415" y2="176.7" stroke="#000" stroke-width="1.8" />
<line x1="1395" y1="183.5" x2="1412" y2="183.5" stroke="#000" stroke-width="1.8" />
<line x1="1399.5" y1="188.9" x2="1407.5" y2="188.9" stroke="#000" stroke-width="1.8" />
<line x1="1422.5" y1="129.4" x2="1422.5" y2="154" stroke="#FF0000" stroke-width="3" />
<polygon points="1414.5,151.5 1430.5,151.5 1422.5,176" fill="#FF0000" stroke="none" stroke-width="0" />
<text transform="translate(1435 161.7) skewX(-5)" font-size="33" font-style="italic" stroke="#000" stroke-width="0.35">I</text>
<line x1="1364.9" y1="193.9" x2="1364.9" y2="357.2" stroke="#000" stroke-width="2.2" />
<polygon points="1364.9,181.9 1358.7,200.2 1371.1,200.2" fill="#000" stroke="none" stroke-width="0" />
<line x1="1364.9" y1="265.7" x2="1809.8" y2="265.7" stroke="#000" stroke-width="2.2" />
<polygon points="1821.8,265.7 1803.2,259.3 1803.2,272.1" fill="#000" stroke="none" stroke-width="0" />
<text transform="translate(1343.9 221) skewX(-5)" font-size="33" font-style="italic" stroke="#000" stroke-width="0.35">I</text>
<line x1="1580.2" y1="144.4" x2="1580.2" y2="342.7" stroke="#000" stroke-width="2.6" stroke-dasharray="14.6 11.2" stroke-linecap="round"/>
<path d="M1405.9,266.5C1407.28,263.48 1412.35,253.39 1414.53,247.63C1416.71,241.88 1418.45,234.71 1419.51,230.54C1420.57,226.37 1420.69,223.29 1421.17,221.57C1421.65,219.86 1421.83,219.44 1422.5,219.8C1423.17,220.16 1424.89,221 1425.38,223.82C1425.87,226.63 1424.88,232.5 1425.56,237.41C1426.24,242.31 1428.43,249.8 1429.63,254.45C1430.83,259.11 1431.67,261.79 1433.05,266.5C1434.43,271.21 1437.38,279.3 1438.27,283.89C1439.15,288.48 1438.22,293 1438.57,295.18C1438.93,297.35 1439.82,297.68 1440.5,297.5C1441.18,297.32 1442.08,296.06 1442.8,294.06C1443.52,292.06 1443.55,288.08 1444.99,285.01C1446.43,281.94 1449.03,277.68 1451.78,274.87C1454.54,272.06 1460.53,268.62 1462.2,267.43" fill="none" stroke="#5F4B8B" stroke-width="2.3" stroke-linecap="round" stroke-linejoin="round"/>
<path d="M1483.6,266.5C1485.26,263.44 1491.38,253.22 1494,247.39C1496.62,241.56 1498.72,234.3 1500,230.08C1501.28,225.86 1501.42,222.74 1502,221C1502.58,219.26 1502.89,218.84 1503.6,219.2C1504.31,219.56 1505.94,220.41 1506.42,223.27C1506.89,226.12 1505.93,232.07 1506.59,237.03C1507.26,242 1509.4,249.58 1510.57,254.3C1511.74,259.01 1512.56,261.88 1513.91,266.5C1515.27,271.12 1518.15,278.77 1519.02,283.16C1519.88,287.56 1518.97,291.89 1519.32,293.97C1519.67,296.06 1520.52,296.37 1521.2,296.2C1521.88,296.03 1522.81,294.82 1523.54,292.9C1524.27,290.99 1524.31,287.17 1525.77,284.23C1527.24,281.29 1529.89,277.21 1532.69,274.52C1535.5,271.82 1541.6,268.53 1543.3,267.39" fill="none" stroke="#5F4B8B" stroke-width="2.3" stroke-linecap="round" stroke-linejoin="round"/>
<path d="M1619.9,266.5C1621.36,261.7 1626.74,245.64 1629.05,236.48C1631.36,227.33 1633.21,215.92 1634.33,209.29C1635.46,202.66 1635.59,197.76 1636.09,195.02C1636.6,192.29 1636.82,191.63 1637.5,192.2C1638.18,192.77 1639.88,194.11 1640.36,198.59C1640.85,203.07 1639.87,212.41 1640.54,220.21C1641.22,228.01 1643.4,239.92 1644.59,247.33C1645.78,254.74 1646.61,259.17 1647.99,266.5C1649.36,273.83 1652.3,286.12 1653.18,293.15C1654.06,300.18 1653.13,307.1 1653.48,310.44C1653.84,313.77 1654.68,314.27 1655.4,314C1656.12,313.73 1657.16,311.79 1657.97,308.73C1658.77,305.66 1658.81,299.56 1660.41,294.86C1662.01,290.15 1664.91,283.63 1667.98,279.32C1671.05,275.02 1677.74,269.75 1679.6,267.93" fill="none" stroke="#7B5EA7" stroke-width="2.3" stroke-linecap="round" stroke-linejoin="round" stroke-dasharray="15.5 7.5"/>
<path d="M1700.3,266.5C1701.82,261.7 1707.42,245.64 1709.82,236.48C1712.22,227.33 1714.13,215.92 1715.31,209.29C1716.48,202.66 1716.61,197.76 1717.14,195.02C1717.66,192.29 1717.89,191.63 1718.6,192.2C1719.31,192.77 1721.07,194.11 1721.58,198.59C1722.08,203.07 1721.06,212.41 1721.76,220.21C1722.46,228.01 1724.73,239.92 1725.97,247.33C1727.2,254.74 1728.07,259.17 1729.5,266.5C1730.93,273.83 1733.98,286.12 1734.89,293.15C1735.81,300.18 1734.84,307.1 1735.21,310.44C1735.58,313.77 1736.48,314.27 1737.2,314C1737.92,313.73 1738.91,311.79 1739.69,308.73C1740.47,305.66 1740.51,299.56 1742.06,294.86C1743.62,290.15 1746.44,283.63 1749.42,279.32C1752.4,275.02 1758.9,269.75 1760.7,267.93" fill="none" stroke="#7B5EA7" stroke-width="2.3" stroke-linecap="round" stroke-linejoin="round" stroke-dasharray="15.5 7.5"/>
<text x="1781" y="298.5" font-size="30.3" font-weight="normal" font-style="normal" fill="#000" text-anchor="start" >Type</text>
<text x="1440" y="345" font-size="29.3" font-weight="normal" font-style="normal" fill="#000" text-anchor="start" >Point</text>
<text x="1645" y="345" font-size="29.3" font-weight="normal" font-style="normal" fill="#000" text-anchor="start" >Surface</text>
</g>
<g id="pb">
<text x="-1" y="439" font-size="40" font-weight="bold" font-style="normal" fill="#000" text-anchor="start" >b</text>
<circle cx="71.4" cy="457.8" r="15" fill="#C79FC7" />
<circle cx="71.4" cy="499.8" r="15" fill="#3BEB47" />
<circle cx="71.4" cy="538.5" r="15" fill="#FFC996" />
<text x="98.5" y="467.8" font-size="30" font-weight="bold" font-style="normal" fill="#000" text-anchor="start" >Silicone</text>
<text x="98.5" y="509.8" font-size="30" font-weight="bold" font-style="normal" fill="#000" text-anchor="start" >PET</text>
<text x="98.5" y="548.5" font-size="30" font-weight="bold" font-style="normal" fill="#000" text-anchor="start" >Ni-fabric</text>
<defs><filter id="blur1" x="-20%" y="-60%" width="140%" height="220%"><feGaussianBlur stdDeviation="4.6"/></filter><filter id="blur3" x="-20%" y="-60%" width="140%" height="220%"><feGaussianBlur stdDeviation="3.2"/></filter><filter id="blur2" x="-10%" y="-20%" width="120%" height="140%"><feGaussianBlur stdDeviation="0.9"/></filter><filter id="blur4" x="-10%" y="-20%" width="120%" height="140%"><feGaussianBlur stdDeviation="0.5"/></filter><linearGradient id="shg" x1="0" y1="0" x2="1" y2="0"><stop offset="0" stop-color="#000" stop-opacity="0.25"/><stop offset="0.3" stop-color="#000" stop-opacity="0.72"/><stop offset="0.85" stop-color="#000" stop-opacity="0.7"/><stop offset="1" stop-color="#000" stop-opacity="0.35"/></linearGradient><clipPath id="stripclip"><path d="M84.9,664.3 L102.67,652.78 L120.47,641.53 L138.3,630.56 L156.16,619.87 L174.04,609.45 L191.95,599.31 L209.89,589.45 L227.86,579.87 L245.85,570.56 L263.87,561.53 L281.92,552.78 L300,544.3 L318.11,536.1 L336.24,528.18 L354.4,520.53 L372.59,513.17 L390.81,506.08 L409.05,499.26 L427.32,492.73 L445.62,486.47 L463.95,480.48 L482.31,474.78 L500.69,469.35 L519.1,464.2 L553.55,503.42 L536,508.16 L518.41,513.2 L500.78,518.54 L483.1,524.19 L465.38,530.14 L447.61,536.4 L429.8,542.96 L411.94,549.83 L394.04,557 L376.09,564.48 L358.1,572.26 L340.07,580.34 L321.99,588.73 L303.87,597.42 L285.7,606.42 L267.49,615.72 L249.23,625.32 L230.93,635.23 L212.59,645.45 L194.2,655.97 L175.76,666.79 L157.29,677.92 L138.76,689.35 L120.2,701.08Z"/></clipPath></defs>
<path d="M83.23,662.56 L100.97,651.05 L118.74,639.81 L136.53,628.85 L154.36,618.16 L172.22,607.75 L190.11,597.62 L208.03,587.76 L225.99,578.18 L243.97,568.87 L261.99,559.84 L280.03,551.08 L298.11,542.6 L316.22,534.4 L334.36,526.47 L352.53,518.81 L370.73,511.44 L388.97,504.34 L407.23,497.51 L425.53,490.96 L443.85,484.69 L462.21,478.69 L480.6,472.97 L499.02,467.52 L517.48,462.35 L554.85,504.9 L537.34,509.62 L519.78,514.65 L502.17,519.98 L484.51,525.61 L466.81,531.56 L449.06,537.8 L431.27,544.36 L413.42,551.21 L395.53,558.38 L377.6,565.85 L359.61,573.62 L341.58,581.7 L323.5,590.08 L305.38,598.77 L287.2,607.77 L268.98,617.07 L250.72,626.68 L232.4,636.59 L214.04,646.81 L195.63,657.33 L177.18,668.16 L158.68,679.29 L140.13,690.73 L121.53,702.47Z" fill="#8a8a90" stroke="none" stroke-width="0" filter="url(#blur3)" opacity="0.42"/>
<path d="M115.62,675.25 L133.21,664.17 L150.81,653.37 L168.39,642.84 L185.97,632.58 L203.55,622.6 L221.12,612.88 L238.68,603.44 L256.24,594.28 L273.79,585.38 L291.33,576.76 L308.87,568.41 L326.41,560.33 L343.93,552.53 L361.46,545 L378.97,537.74 L396.48,530.76 L413.99,524.05 L431.48,517.61 L448.98,511.44 L466.46,505.55 L483.94,499.93 L501.42,494.58 L518.89,489.5 L536.35,484.7 L562.35,514.3 L545.52,518.8 L528.63,523.59 L511.69,528.67 L494.69,534.05 L477.63,539.71 L460.52,545.67 L443.35,551.92 L426.12,558.47 L408.83,565.3 L391.49,572.43 L374.09,579.85 L356.63,587.56 L339.12,595.57 L321.55,603.86 L303.92,612.45 L286.23,621.33 L268.49,630.51 L250.69,639.97 L232.83,649.73 L214.92,659.78 L196.95,670.12 L178.92,680.75 L160.84,691.68 L142.69,702.89Z" fill="url(#shg)" stroke="none" stroke-width="0" filter="url(#blur1)"/>
<path d="M114.87,698.13 L133.32,686.43 L151.73,675.02 L170.11,663.92 L188.46,653.12 L206.77,642.61 L225.05,632.41 L243.29,622.51 L261.51,612.91 L279.68,603.6 L297.83,594.6 L315.94,585.9 L334.02,577.5 L352.06,569.4 L370.08,561.6 L388.05,554.1 L406,546.9 L423.91,540 L441.79,533.4 L459.63,527.1 L477.44,521.1 L495.22,515.4 L512.96,510 L530.67,504.9 L548.35,500.1 L551.6,503.8 L534,508.56 L516.37,513.62 L498.69,518.99 L480.98,524.66 L463.22,530.63 L445.43,536.9 L427.59,543.48 L409.71,550.36 L391.79,557.54 L373.84,565.02 L355.84,572.81 L337.8,580.9 L319.72,589.29 L301.6,597.99 L283.44,606.99 L265.24,616.29 L247,625.89 L228.72,635.8 L210.4,646.01 L192.04,656.52 L173.64,667.34 L155.2,678.46 L136.72,689.88 L118.2,701.6Z" fill="#57B881" stroke="none" stroke-width="0" filter="url(#blur4)"/>
<path d="M84.1,664.9 L118.2,701.6 L119.7,699 L85.9,664.3 Z" fill="#3DD67A" stroke="none" stroke-width="0" />
<path d="M84.9,664.3 L102.67,652.78 L120.47,641.53 L138.3,630.56 L156.16,619.87 L174.04,609.45 L191.95,599.31 L209.89,589.45 L227.86,579.87 L245.85,570.56 L263.87,561.53 L281.92,552.78 L300,544.3 L318.11,536.1 L336.24,528.18 L354.4,520.53 L372.59,513.17 L390.81,506.08 L409.05,499.26 L427.32,492.73 L445.62,486.47 L463.95,480.48 L482.31,474.78 L500.69,469.35 L519.1,464.2 L551.6,501.2 L534,505.96 L516.37,511.02 L498.69,516.39 L480.98,522.06 L463.22,528.03 L445.43,534.3 L427.59,540.88 L409.71,547.76 L391.79,554.94 L373.84,562.42 L355.84,570.21 L337.8,578.3 L319.72,586.69 L301.6,595.39 L283.44,604.39 L265.24,613.69 L247,623.29 L228.72,633.2 L210.4,643.41 L192.04,653.92 L173.64,664.74 L155.2,675.86 L136.72,687.28 L118.2,699Z" fill="#A5EEBA" stroke="none" stroke-width="0" filter="url(#blur4)"/>
<g clip-path="url(#stripclip)" filter="url(#blur2)">
<path d="M83.9,663.26 L89.22,659.77 L94.55,656.32 L99.87,652.88 L105.2,649.47 L110.54,646.09 L115.87,642.73 L121.21,639.39 L126.55,636.08 L131.89,632.79 L137.24,629.53 L142.59,626.3 L147.94,623.09 L153.29,619.9 L158.65,616.74 L164.01,613.6 L169.37,610.49 L174.74,607.41 L180.1,604.34 L185.47,601.31 L190.85,598.3 L196.22,595.31 L201.6,592.35 L206.98,589.41 L212.36,586.5 L214.78,588.7 L209.39,591.61 L204,594.55 L198.62,597.51 L193.24,600.5 L187.86,603.51 L182.48,606.55 L177.1,609.61 L171.73,612.7 L166.36,615.81 L160.99,618.95 L155.62,622.12 L150.26,625.3 L144.9,628.52 L139.54,631.76 L134.18,635.02 L128.82,638.31 L123.47,641.62 L118.12,644.96 L112.77,648.32 L107.43,651.71 L102.08,655.12 L96.74,658.56 L91.4,662.03 L86.07,665.51Z" fill="#EFC3CB" stroke="none" stroke-width="0" />
<path d="M208.06,588.82 L220.8,581.98 L233.57,575.28 L246.34,568.72 L259.13,562.3 L271.94,556.01 L284.76,549.87 L297.6,543.86 L310.45,538 L323.32,532.27 L336.2,526.69 L349.1,521.24 L362.01,515.93 L374.94,510.76 L387.88,505.73 L400.84,500.84 L413.81,496.09 L426.79,491.47 L439.8,487 L452.81,482.67 L465.85,478.47 L478.89,474.42 L491.96,470.5 L505.03,466.73 L518.12,463.09 L527.55,473.82 L514.63,477.38 L501.71,481.07 L488.8,484.92 L475.89,488.9 L462.99,493.03 L450.09,497.3 L437.2,501.71 L424.31,506.27 L411.43,510.97 L398.56,515.81 L385.68,520.8 L372.82,525.93 L359.96,531.2 L347.1,536.62 L334.25,542.18 L321.4,547.88 L308.56,553.72 L295.73,559.71 L282.9,565.84 L270.07,572.11 L257.25,578.53 L244.43,585.09 L231.62,591.79 L218.82,598.64Z" fill="#FAA7B3" stroke="none" stroke-width="0" />
<polygon points="321.84,556.88 336.59,550.28 355.38,571.93 338.93,579.32" fill="#FAA7B3" stroke="none" stroke-width="0" />
<polygon points="386.03,529.53 401.64,523.43 421.69,544.58 404.53,551.28" fill="#FAA7B3" stroke="none" stroke-width="0" />
<polygon points="451.93,505.23 468.4,499.75 488.27,521.1 468.7,527.58" fill="#FAA7B3" stroke="none" stroke-width="0" />
<polygon points="519.54,484.28 542.06,478.19 556.79,501.22 533.6,507.45" fill="#FAA7B3" stroke="none" stroke-width="0" />
</g>
<path d="M385.4,548C387.02,548.8 392.24,551.18 395.5,553C398.76,554.82 402.52,556.92 405.8,559.4C409.08,561.88 412.86,565.36 416,568.5C419.14,571.64 423,575.94 425.4,579C427.8,582.06 429.3,584.69 431,587.6C432.7,590.51 434.37,593.94 436,597.2C437.63,600.46 439.63,604.38 441.2,608C442.77,611.62 444.15,614.52 445.8,619.8C447.45,625.08 449.74,633.8 451.5,641C453.26,648.2 455.95,660.99 456.8,664.8 L475.5,663.3 L447.3,725 L410,669.4 L429.6,668.4 L429.6,668.4C429.1,664.66 427.89,652.78 426.5,645C425.11,637.22 422.28,626.49 420.9,619.8C419.52,613.11 419.6,609.23 417.9,603.2C416.2,597.17 413.45,588.87 410.3,582.1C407.15,575.33 402.18,566.36 398.2,560.9C394.22,555.44 387.45,550.06 385.4,548 Z" fill="#2F5597" stroke="#1F2F56" stroke-width="1" stroke-linejoin="round"/>
<rect x="56.9" y="761.7" width="541.5" height="123.3" fill="#3BEB47" />
<rect x="56.9" y="761.7" width="30" height="86.1" fill="#FFC996" />
<rect x="178.2" y="761.7" width="30.3" height="86.1" fill="#FFC996" />
<rect x="300" y="761.7" width="29.5" height="86.1" fill="#FFC996" />
<rect x="421.6" y="761.7" width="29.5" height="86.1" fill="#FFC996" />
<rect x="56.9" y="855.6" width="475.1" height="29.8" fill="#FFC996" />
<text x="54.2" y="752.4" font-size="35" fill="#1F3864" stroke="#1F3864" stroke-width="0.5">E<tspan font-size="26.5" dy="9.8">1</tspan></text>
<text x="176.7" y="752.4" font-size="35" fill="#1F3864" stroke="#1F3864" stroke-width="0.5">E<tspan font-size="26.5" dy="9.8">2</tspan></text>
<text x="294.1" y="752.4" font-size="35" fill="#1F3864" stroke="#1F3864" stroke-width="0.5">E<tspan font-size="26.5" dy="9.8">3</tspan></text>
<text x="415.5" y="752.4" font-size="35" fill="#1F3864" stroke="#1F3864" stroke-width="0.5">E<tspan font-size="26.5" dy="9.8">4</tspan></text>
<text x="535.6" y="873.6" font-size="35" fill="#1F3864" stroke="#1F3864" stroke-width="0.5">E<tspan font-size="26.5" dy="9.8">L</tspan></text>
</g>
<g id="pc">
<text x="663.2" y="439.7" font-size="40" font-weight="bold" font-style="normal" fill="#000" text-anchor="start" >c</text>
<rect x="815.9" y="438" width="60.9" height="403.8" fill="#F5F8FD" />
<rect x="884.4" y="438" width="56.4" height="403.8" fill="#FEF6F3" />
<rect x="951" y="438" width="59.2" height="403.8" fill="#EFEFEF" />
<polyline points="773.3,530.88 775,530.62 776.7,530.92 778.4,530.75 780.1,530.98 781.8,531.01 783.5,530.45 785.2,530.39 786.9,531.22 788.6,530.64 790.3,530.61 792,531.38 793.7,530.85 795.4,531.22 797.1,530.86 798.8,531.02 800.5,530.53 802.2,531.01 803.9,531.25 805.6,530.9 807.3,531.12 809,531.05 810.7,530.44 812.4,531.14 814.1,530.97 815.8,530.68 817.5,530.41 819.2,531.25 820.9,530.85 822.6,531.1 824.3,531.26 826,531.09 827.7,531.3 829.4,530.77 831.1,531.18 832.8,530.82 834.5,531.32 836.2,531.26 837.9,530.48 839.6,530.52 841.3,530.6 843,531.35 844.7,530.82 846.4,531.01 848.1,530.68 849.8,530.89 851.5,530.77 853.2,530.73 854.9,530.97 856.6,530.96 858.3,531.28 860,531.06 861.7,531.31 863.4,531.24 865.1,531.37 866.8,531.05 868.5,530.54 870.2,531.24 871.9,531.34 873.6,531.28 875.3,530.95 877,531.09 878.7,530.59 880.4,531.21 882.1,530.95 883.8,530.66 885.5,530.44 887.2,531.23 888.9,531.37 890.6,530.47 892.3,531.18 894,530.79 895.7,530.53 897.4,530.67 899.1,531.15 900.8,531.25 902.5,530.42 904.2,530.99 905.9,530.42 907.6,531.1 909.3,530.71 911,531.26 912.7,531.36 914.4,530.89 916.1,531.38 917.8,530.69 919.5,530.46 921.2,530.98 922.9,530.41 924.6,530.58 926.3,530.79 928,530.99 929.7,530.54 931.4,530.42 933.1,531.25 934.8,530.69 936.5,531.34 938.2,531.28 939.9,530.76 941.6,530.84 943.3,530.9 945,531.02 946.7,530.98 948.4,530.94 950.1,531 951.8,531.32 953.5,530.89 955.2,530.81 956.9,531.1 958.6,530.62 960.3,530.68 962,531.36 963.7,530.9 965.4,530.93 967.1,530.39 968.8,530.8 970.5,530.96 972.2,530.4 973.9,531 975.6,531.01 977.3,530.44 979,531.01 980.7,530.85 982.4,531.06 984.1,530.73 985.8,531.09 987.5,531.12 989.2,530.4 990.9,530.44 992.6,531.06 994.3,531.34 996,530.63 997.7,530.84 999.4,530.97 1001.1,530.7 1002.8,530.74 1004.5,530.69 1006.2,530.75 1007.9,530.98 1009.6,530.68 1011.3,530.76 1013,531.15 1014.7,530.41 1016.4,530.95 1018.1,531.12 1019.8,530.69 1021.5,530.6 1023.2,531.18 1024.9,530.62 1026.6,530.57 1028.3,530.82 1030,531.08 1031.7,530.48 1033.4,530.7 1035.1,530.71 1036.8,531.21 1038.5,530.82 1040.2,531.24 1041.9,530.55 1043.6,530.72 1045.3,531.03 1047,531.26 1048.7,530.83 1050.4,530.61 1052.1,530.5 1053.8,530.91 1055.5,530.57 1057.2,531.19 1058.9,531.22 1060.6,530.56 1062.3,530.66 1064,531.19 1065.7,531.02 1067.4,531.19 1069.1,530.73 1070.8,530.51 1072.5,530.67 1074.2,531.17 1075.9,530.65 1077.6,530.73 1079.3,530.8 1081,530.8 1082.7,530.79 1084.4,531.3 1086.1,530.54 1087.8,530.38 1089.5,531.32 1091.2,531.26 1092.9,531.37 1094.6,530.81 1096.3,531.33 1098,531.31 1099.7,530.6 1101.4,531.13 1103.1,531.22 1104.8,531.04 1106.5,530.9 1108.2,530.67 1109.9,530.72 1111.6,530.61 1113.3,530.45 1115,530.97 1116.7,530.67 1118.4,531.19 1120.1,530.43 1121.8,531.28 1123.5,531.07 1125.2,531.3 1126.9,531.28 1128.6,531.28 1130.3,530.96 1132,530.39 1133.7,531.13 1135.4,530.55 1137.1,530.68 1138.8,531.04 1140.5,530.9 1142.2,530.79 1143.9,531.32 1145.6,530.99 1147.3,530.72 1149,530.63 1150.7,531.24 1152.4,530.86 1154.1,531.16 1155.8,530.73 1157.5,530.58 1159.2,530.91 1160.9,531.2 1162.6,530.55 1164.3,531.17 1166,531.3 1167.7,531.19 1169.4,531.2 1171.1,530.39 1172.8,531.01 1174.5,531.24 1176.2,530.43 1177.9,530.65 1179.6,530.65 1181.3,530.91 1183,530.8 1184.7,530.85 1186.4,531.16 1188.1,530.38 1189.8,530.43 1191.5,530.51 1193.2,530.5 1194.9,530.45 1196.6,531.35 1198.3,531.23 1200,530.47 1201.7,530.88 1203.4,530.7 1205.1,530.69 1206.8,530.73 1208.5,531.03 1210.2,530.97 1211.9,530.74 1213.6,530.57 1215.3,530.71 1217,530.5 1218.7,530.94 1220.4,531.1 1222.1,530.76 1223.8,530.46 1225.5,530.56 1227.2,530.75 1228.9,530.98 1230.6,531.16 1232.3,530.76 1234,531.18 1235.7,531 1237.4,530.81 1239.1,530.75 1240.8,530.88 1242.5,531.08 1244.2,530.8 1245.9,531.07 1247.6,530.84 1249.3,530.63 1251,530.92 1252.7,531.08 1254.4,530.45 1256.1,530.8 1257.8,530.81 1259.5,531.26 1261.2,531.32 1262.9,530.75 1264.6,531.28 1266.3,531.17 1268,530.64 1269.7,530.84 1271.4,530.5 1273.1,531.19 1274.8,531.04 1276.5,530.88" fill="none" stroke="#32AD68" stroke-width="3.4" stroke-linejoin="round"/>
<path d="M823.85,530.88 L824.15,490.38 L825.25,530.88 M831.95,530.88 L832.25,486.38 L833.35,530.88 M840.85,530.88 L841.15,477.48 L842.25,530.88 M849.15,530.88 L849.45,478.78 L850.55,530.88 M857.75,530.88 L858.05,463.98 L859.15,530.88 M889.15,530.88 L889.45,508.68 L890.55,530.88 M898.55,530.88 L898.85,512.18 L899.95,530.88 M907.35,530.88 L907.65,513.98 L908.75,530.88 M917.35,530.88 L917.65,510.28 L918.75,530.88 M927.25,530.88 L927.55,502.48 L928.65,530.88 M828.85,530.88 L829.7,552.18 L830.15,530.88 M837.55,530.88 L838.4,560.58 L838.85,530.88 M845.95,530.88 L846.8,571.48 L847.25,530.88 M854.35,530.88 L855.2,573.48 L855.65,530.88 M863.65,530.88 L864.5,577.18 L864.95,530.88 M894.65,530.88 L895.5,538.48 L895.95,530.88 M903.85,530.88 L904.7,537.28 L905.15,530.88 M913.15,530.88 L914,536.88 L914.45,530.88 M922.55,530.88 L923.4,538.48 L923.85,530.88 M932.85,530.88 L933.7,540.58 L934.15,530.88 M957.7,530.88 L958.5,528.88 L959.3,530.88 M965.5,530.88 L966.3,528.68 L967.1,530.88 M973.7,530.88 L974.5,528.88 L975.3,530.88 M981.9,530.88 L982.7,528.28 L983.5,530.88 M989.7,530.88 L990.5,528.48 L991.3,530.88 M962.2,530.88 L963,532.38 L963.8,530.88 M979.2,530.88 L980,532.38 L980.8,530.88 M994.2,530.88 L995,532.68 L995.8,530.88 " fill="none" stroke="#32AD68" stroke-width="2.5" stroke-linejoin="round" stroke-linecap="round"/>
<polyline points="773.3,609.76 775,609.88 776.7,610 778.4,610.06 780.1,610.2 781.8,610 783.5,610.18 785.2,609.29 786.9,609.73 788.6,610.2 790.3,609.91 792,610.16 793.7,609.37 795.4,609.73 797.1,609.51 798.8,609.8 800.5,609.83 802.2,609.27 803.9,609.48 805.6,609.54 807.3,610.18 809,610.03 810.7,609.42 812.4,610.06 814.1,609.4 815.8,609.88 817.5,609.39 819.2,609.26 820.9,610.13 822.6,609.47 824.3,609.48 826,610.24 827.7,610.13 829.4,609.55 831.1,610.22 832.8,609.8 834.5,609.94 836.2,609.46 837.9,610.2 839.6,609.95 841.3,610.23 843,610.15 844.7,609.56 846.4,609.62 848.1,609.43 849.8,609.41 851.5,609.33 853.2,609.56 854.9,609.86 856.6,609.26 858.3,609.94 860,609.6 861.7,609.57 863.4,610.08 865.1,609.74 866.8,609.58 868.5,609.74 870.2,609.96 871.9,609.32 873.6,610.24 875.3,609.28 877,610.01 878.7,610.1 880.4,609.28 882.1,610.05 883.8,609.63 885.5,609.84 887.2,609.27 888.9,609.31 890.6,609.44 892.3,610.22 894,609.46 895.7,610.02 897.4,610.19 899.1,610.2 900.8,609.6 902.5,609.61 904.2,609.78 905.9,610.04 907.6,609.37 909.3,610.01 911,610.06 912.7,610.12 914.4,609.3 916.1,610.21 917.8,609.35 919.5,609.6 921.2,609.87 922.9,610.18 924.6,609.6 926.3,610.18 928,609.81 929.7,609.57 931.4,609.58 933.1,609.44 934.8,609.34 936.5,609.41 938.2,609.95 939.9,610.26 941.6,609.42 943.3,609.31 945,610.25 946.7,609.79 948.4,609.67 950.1,609.5 951.8,609.85 953.5,610.09 955.2,609.72 956.9,609.68 958.6,609.32 960.3,610.18 962,609.29 963.7,609.75 965.4,610.1 967.1,609.39 968.8,609.99 970.5,610.21 972.2,609.89 973.9,610.05 975.6,609.37 977.3,609.69 979,609.41 980.7,610.1 982.4,609.55 984.1,609.71 985.8,610.26 987.5,610.11 989.2,610.24 990.9,609.71 992.6,609.75 994.3,609.99 996,609.74 997.7,609.55 999.4,609.66 1001.1,609.41 1002.8,609.64 1004.5,610.25 1006.2,610.22 1007.9,609.89 1009.6,609.76 1011.3,609.6 1013,609.35 1014.7,609.53 1016.4,610.04 1018.1,610.13 1019.8,609.62 1021.5,610.05 1023.2,610.03 1024.9,609.95 1026.6,609.92 1028.3,610.02 1030,609.62 1031.7,609.96 1033.4,609.54 1035.1,609.75 1036.8,610.03 1038.5,609.95 1040.2,609.55 1041.9,610.21 1043.6,609.91 1045.3,609.84 1047,609.27 1048.7,609.81 1050.4,609.51 1052.1,609.93 1053.8,609.72 1055.5,610.08 1057.2,609.91 1058.9,610.06 1060.6,609.61 1062.3,609.9 1064,610 1065.7,610.09 1067.4,609.61 1069.1,610.1 1070.8,610.13 1072.5,609.95 1074.2,610.24 1075.9,610.22 1077.6,609.78 1079.3,609.79 1081,609.43 1082.7,610.1 1084.4,610.2 1086.1,609.74 1087.8,609.95 1089.5,609.98 1091.2,609.99 1092.9,609.43 1094.6,610.04 1096.3,609.84 1098,609.93 1099.7,609.68 1101.4,609.88 1103.1,610.03 1104.8,609.9 1106.5,609.98 1108.2,609.29 1109.9,609.42 1111.6,609.7 1113.3,609.91 1115,609.48 1116.7,609.95 1118.4,609.89 1120.1,609.3 1121.8,609.73 1123.5,609.49 1125.2,609.31 1126.9,609.39 1128.6,609.58 1130.3,609.44 1132,609.45 1133.7,609.3 1135.4,609.73 1137.1,609.64 1138.8,609.87 1140.5,609.85 1142.2,609.5 1143.9,610.16 1145.6,609.26 1147.3,609.67 1149,609.54 1150.7,609.67 1152.4,609.38 1154.1,610.09 1155.8,609.63 1157.5,609.3 1159.2,609.87 1160.9,609.35 1162.6,609.81 1164.3,609.6 1166,609.84 1167.7,610.22 1169.4,610.08 1171.1,609.68 1172.8,610.07 1174.5,609.9 1176.2,609.63 1177.9,609.4 1179.6,609.86 1181.3,609.82 1183,610.22 1184.7,610.23 1186.4,609.87 1188.1,609.61 1189.8,610.15 1191.5,609.26 1193.2,609.37 1194.9,609.83 1196.6,609.88 1198.3,609.4 1200,609.89 1201.7,610.15 1203.4,609.64 1205.1,609.69 1206.8,609.49 1208.5,609.55 1210.2,610.23 1211.9,609.64 1213.6,610.22 1215.3,610.17 1217,609.86 1218.7,609.52 1220.4,610.24 1222.1,609.76 1223.8,609.68 1225.5,609.58 1227.2,610.24 1228.9,609.75 1230.6,609.55 1232.3,609.74 1234,609.38 1235.7,609.88 1237.4,609.7 1239.1,609.55 1240.8,610.04 1242.5,610.09 1244.2,609.27 1245.9,609.79 1247.6,609.53 1249.3,610.2 1251,610.04 1252.7,609.51 1254.4,609.53 1256.1,609.41 1257.8,610.25 1259.5,609.55 1261.2,609.87 1262.9,609.73 1264.6,609.9 1266.3,609.86 1268,610 1269.7,609.38 1271.4,610.02 1273.1,609.56 1274.8,609.79 1275,609.76" fill="none" stroke="#1B6EE0" stroke-width="3.4" stroke-linejoin="round"/>
<path d="M888.95,609.76 L889.25,599.36 L890.35,609.76 M898.25,609.76 L898.55,590.06 L899.65,609.76 M906.85,609.76 L907.15,580.36 L908.25,609.76 M917.25,609.76 L917.55,582.56 L918.65,609.76 M926.95,609.76 L927.25,587.06 L928.35,609.76 M957.85,609.76 L958.15,569.96 L959.25,609.76 M965.65,609.76 L965.95,562.06 L967.05,609.76 M973.85,609.76 L974.15,562.46 L975.25,609.76 M982.05,609.76 L982.35,551.26 L983.45,609.76 M989.85,609.76 L990.15,553.56 L991.25,609.76 M1018.15,609.76 L1018.45,592.96 L1019.55,609.76 M1026.75,609.76 L1027.05,588.86 L1028.15,609.76 M1034.95,609.76 L1035.25,592.26 L1036.35,609.76 M1043.85,609.76 L1044.15,591.86 L1045.25,609.76 M1055.45,609.76 L1055.75,594.46 L1056.85,609.76 M894.35,609.76 L895.2,614.56 L895.65,609.76 M903.65,609.76 L904.5,617.56 L904.95,609.76 M913.35,609.76 L914.2,623.96 L914.65,609.76 M923.05,609.76 L923.9,619.76 L924.35,609.76 M933.05,609.76 L933.9,617.96 L934.35,609.76 M962.45,609.76 L963.3,648.86 L963.75,609.76 M970.35,609.76 L971.2,648.86 L971.65,609.76 M979.25,609.76 L980.1,650.76 L980.55,609.76 M987.45,609.76 L988.3,652.56 L988.75,609.76 M994.85,609.76 L995.7,658.96 L996.15,609.76 M1022.85,609.76 L1023.7,614.26 L1024.15,609.76 M1031.35,609.76 L1032.2,615.36 L1032.65,609.76 M1039.95,609.76 L1040.8,614.56 L1041.25,609.76 M1048.85,609.76 L1049.7,614.56 L1050.15,609.76 M1060,609.76 L1060.8,613.16 L1061.6,609.76 " fill="none" stroke="#1B6EE0" stroke-width="2.5" stroke-linejoin="round" stroke-linecap="round"/>
<polyline points="773.3,688.64 775,688.53 776.7,688.43 778.4,688.73 780.1,688.38 781.8,688.66 783.5,688.56 785.2,688.37 786.9,688.64 788.6,688.36 790.3,688.6 792,688.38 793.7,688.39 795.4,688.59 797.1,688.84 798.8,688.41 800.5,688.47 802.2,688.72 803.9,688.91 805.6,688.69 807.3,688.58 809,688.93 810.7,688.37 812.4,688.86 814.1,688.51 815.8,688.43 817.5,688.41 819.2,688.53 820.9,688.83 822.6,688.45 824.3,688.69 826,688.72 827.7,688.56 829.4,688.67 831.1,688.38 832.8,688.38 834.5,688.46 836.2,688.75 837.9,688.6 839.6,688.53 841.3,688.69 843,688.61 844.7,688.52 846.4,688.82 848.1,688.76 849.8,688.49 851.5,688.68 853.2,688.66 854.9,688.87 856.6,688.78 858.3,688.51 860,688.93 861.7,688.41 863.4,688.59 865.1,688.79 866.8,688.43 868.5,688.63 870.2,688.36 871.9,688.74 873.6,688.8 875.3,688.68 877,688.87 878.7,688.53 880.4,688.76 882.1,688.7 883.8,688.69 885.5,688.61 887.2,688.84 888.9,688.91 890.6,688.62 892.3,688.74 894,688.38 895.7,688.76 897.4,688.73 899.1,688.94 900.8,688.83 902.5,688.51 904.2,688.57 905.9,688.74 907.6,688.35 909.3,688.62 911,688.44 912.7,688.41 914.4,688.38 916.1,688.8 917.8,688.42 919.5,688.49 921.2,688.57 922.9,688.86 924.6,688.39 926.3,688.61 928,688.67 929.7,688.87 931.4,688.83 933.1,688.86 934.8,688.51 936.5,688.59 938.2,688.56 939.9,688.87 941.6,688.91 943.3,688.43 945,688.45 946.7,688.48 948.4,688.48 950.1,688.63 951.8,688.69 953.5,688.5 955.2,688.34 956.9,688.59 958.6,688.56 960.3,688.68 962,688.91 963.7,688.75 965.4,688.65 967.1,688.71 968.8,688.75 970.5,688.37 972.2,688.88 973.9,688.81 975.6,688.86 977.3,688.82 979,688.58 980.7,688.58 982.4,688.4 984.1,688.72 985.8,688.38 987.5,688.38 989.2,688.47 990.9,688.44 992.6,688.54 994.3,688.37 996,688.34 997.7,688.43 999.4,688.4 1001.1,688.56 1002.8,688.36 1004.5,688.86 1006.2,688.71 1007.9,688.43 1009.6,688.49 1011.3,688.55 1013,688.56 1014.7,688.41 1016.4,688.85 1018.1,688.94 1019.8,688.62 1021.5,688.63 1023.2,688.39 1024.9,688.4 1026.6,688.55 1028.3,688.5 1030,688.84 1031.7,688.44 1033.4,688.35 1035.1,688.91 1036.8,688.66 1038.5,688.43 1040.2,688.67 1041.9,688.36 1043.6,688.66 1045.3,688.93 1047,688.86 1048.7,688.76 1050.4,688.5 1052.1,688.56 1053.8,688.44 1055.5,688.8 1057.2,688.66 1058.9,688.81 1060.6,688.54 1062.3,688.47 1064,688.83 1065.7,688.93 1067.4,688.85 1069.1,688.82 1070.8,688.83 1072.5,688.78 1074.2,688.48 1075.9,688.65 1077.6,688.55 1079.3,688.36 1081,688.36 1082.7,688.51 1084.4,688.5 1086.1,688.76 1087.8,688.91 1089.5,688.61 1091.2,688.9 1092.9,688.93 1094.6,688.91 1096.3,688.56 1098,688.47 1099.7,688.48 1101.4,688.46 1103.1,688.46 1104.8,688.71 1106.5,688.88 1108.2,688.84 1109.9,688.63 1111.6,688.73 1113.3,688.82 1115,688.39 1116.7,688.74 1118.4,688.89 1120.1,688.81 1121.8,688.79 1123.5,688.63 1125.2,688.45 1126.9,688.81 1128.6,688.54 1130.3,688.82 1132,688.92 1133.7,688.58 1135.4,688.58 1137.1,688.91 1138.8,688.77 1140.5,688.44 1142.2,688.42 1143.9,688.43 1145.6,688.88 1147.3,688.82 1149,688.43 1150.7,688.84 1152.4,688.93 1154.1,688.73 1155.8,688.55 1157.5,688.67 1159.2,688.42 1160.9,688.35 1162.6,688.92 1164.3,688.73 1166,688.66 1167.7,688.9 1169.4,688.6 1171.1,688.86 1172.8,688.84 1174.5,688.47 1176.2,688.49 1177.9,688.52 1179.6,688.48 1181.3,688.69 1183,688.5 1184.7,688.59 1186.4,688.42 1188.1,688.89 1189.8,688.55 1191.5,688.61 1193.2,688.69 1194.9,688.88 1196.6,688.59 1198.3,688.89 1200,688.64 1201.7,688.66 1203.4,688.65 1205.1,688.35 1206.8,688.6 1208.5,688.45 1210.2,688.34 1211.9,688.82 1213.6,688.44 1215.3,688.62 1217,688.78 1218.7,688.67 1220.4,688.54 1222.1,688.65 1223.8,688.67 1225.5,688.81 1227.2,688.4 1228.9,688.68 1230.6,688.49 1232.3,688.51 1234,688.8 1235.7,688.64 1237.4,688.68 1239.1,688.8 1240.8,688.89 1242.5,688.61 1244.2,688.71 1245.9,688.64 1247.6,688.65 1249.3,688.76 1251,688.61 1252.7,688.66 1254.4,688.63 1256.1,688.9 1257.8,688.76 1259.5,688.87 1261.2,688.91 1262.9,688.5 1264.6,688.68 1266.3,688.91 1268,688.84 1269.7,688.42 1271.4,688.41 1273.1,688.61 1274.8,688.38 1276.5,688.64" fill="none" stroke="#F0383E" stroke-width="3.4" stroke-linejoin="round"/>
<path d="M1018.15,688.64 L1018.45,666.64 L1019.55,688.64 M1026.75,688.64 L1027.05,673.74 L1028.15,688.64 M1034.95,688.64 L1035.25,667.04 L1036.35,688.64 M1043.85,688.64 L1044.15,670.04 L1045.25,688.64 M1055.45,688.64 L1055.75,661.04 L1056.85,688.64 M1080.75,688.64 L1081.05,644.34 L1082.15,688.64 M1089.35,688.64 L1089.65,626.84 L1090.75,688.64 M1097.15,688.64 L1097.45,633.54 L1098.55,688.64 M1106.05,688.64 L1106.35,619.34 L1107.45,688.64 M1114.65,688.64 L1114.95,620.84 L1116.05,688.64 M1144.75,688.64 L1145.05,655.14 L1146.15,688.64 M1153.75,688.64 L1154.05,654.74 L1155.15,688.64 M1161.15,688.64 L1161.45,676.74 L1162.55,688.64 M1169.05,688.64 L1169.35,658.14 L1170.45,688.64 M1178.35,688.64 L1178.65,652.84 L1179.75,688.64 M1022.85,688.64 L1023.7,697.24 L1024.15,688.64 M1031.75,688.64 L1032.6,696.44 L1033.05,688.64 M1040.35,688.64 L1041.2,699.04 L1041.65,688.64 M1049.25,688.64 L1050.1,696.84 L1050.55,688.64 M1060.45,688.64 L1061.3,697.24 L1061.75,688.64 M1085.35,688.64 L1086.2,722.94 L1086.65,688.64 M1094.35,688.64 L1095.2,732.24 L1095.65,688.64 M1102.15,688.64 L1103,735.54 L1103.45,688.64 M1111.05,688.64 L1111.9,731.84 L1112.35,688.64 M1120.75,688.64 L1121.6,741.54 L1122.05,688.64 M1149.45,688.64 L1150.3,699.04 L1150.75,688.64 M1158.35,688.64 L1159.2,699.44 L1159.65,688.64 M1164.35,688.64 L1165.2,694.64 L1165.65,688.64 M1173.25,688.64 L1174.1,700.14 L1174.55,688.64 M1184.05,688.64 L1184.9,698.34 L1185.35,688.64 " fill="none" stroke="#F0383E" stroke-width="2.5" stroke-linejoin="round" stroke-linecap="round"/>
<polyline points="773.3,767.52 775,767.5 776.7,767.44 778.4,767.3 780.1,767.74 781.8,767.22 783.5,767.52 785.2,767.76 786.9,767.27 788.6,767.55 790.3,767.59 792,767.24 793.7,767.45 795.4,767.64 797.1,767.49 798.8,767.66 800.5,767.31 802.2,767.36 803.9,767.29 805.6,767.52 807.3,767.77 809,767.57 810.7,767.68 812.4,767.45 814.1,767.67 815.8,767.28 817.5,767.39 819.2,767.62 820.9,767.66 822.6,767.47 824.3,767.27 826,767.38 827.7,767.35 829.4,767.39 831.1,767.71 832.8,767.34 834.5,767.75 836.2,767.75 837.9,767.25 839.6,767.45 841.3,767.52 843,767.23 844.7,767.47 846.4,767.76 848.1,767.29 849.8,767.58 851.5,767.29 853.2,767.57 854.9,767.76 856.6,767.34 858.3,767.22 860,767.27 861.7,767.54 863.4,767.23 865.1,767.27 866.8,767.52 868.5,767.77 870.2,767.47 871.9,767.46 873.6,767.6 875.3,767.28 877,767.57 878.7,767.32 880.4,767.59 882.1,767.79 883.8,767.25 885.5,767.55 887.2,767.58 888.9,767.31 890.6,767.38 892.3,767.82 894,767.82 895.7,767.29 897.4,767.64 899.1,767.79 900.8,767.36 902.5,767.59 904.2,767.25 905.9,767.44 907.6,767.62 909.3,767.57 911,767.68 912.7,767.27 914.4,767.43 916.1,767.74 917.8,767.57 919.5,767.49 921.2,767.46 922.9,767.81 924.6,767.56 926.3,767.23 928,767.7 929.7,767.42 931.4,767.48 933.1,767.35 934.8,767.49 936.5,767.41 938.2,767.27 939.9,767.6 941.6,767.28 943.3,767.69 945,767.24 946.7,767.69 948.4,767.7 950.1,767.52 951.8,767.65 953.5,767.37 955.2,767.66 956.9,767.48 958.6,767.36 960.3,767.8 962,767.46 963.7,767.44 965.4,767.74 967.1,767.44 968.8,767.62 970.5,767.32 972.2,767.73 973.9,767.38 975.6,767.25 977.3,767.81 979,767.32 980.7,767.79 982.4,767.81 984.1,767.58 985.8,767.23 987.5,767.26 989.2,767.35 990.9,767.45 992.6,767.59 994.3,767.8 996,767.43 997.7,767.3 999.4,767.56 1001.1,767.3 1002.8,767.27 1004.5,767.55 1006.2,767.64 1007.9,767.26 1009.6,767.49 1011.3,767.64 1013,767.68 1014.7,767.45 1016.4,767.75 1018.1,767.32 1019.8,767.65 1021.5,767.68 1023.2,767.75 1024.9,767.52 1026.6,767.28 1028.3,767.25 1030,767.54 1031.7,767.32 1033.4,767.6 1035.1,767.27 1036.8,767.69 1038.5,767.35 1040.2,767.23 1041.9,767.33 1043.6,767.49 1045.3,767.56 1047,767.45 1048.7,767.32 1050.4,767.51 1052.1,767.79 1053.8,767.54 1055.5,767.78 1057.2,767.24 1058.9,767.82 1060.6,767.75 1062.3,767.55 1064,767.53 1065.7,767.54 1067.4,767.77 1069.1,767.26 1070.8,767.61 1072.5,767.55 1074.2,767.4 1075.9,767.65 1077.6,767.65 1079.3,767.28 1081,767.64 1082.7,767.49 1084.4,767.51 1086.1,767.6 1087.8,767.25 1089.5,767.58 1091.2,767.44 1092.9,767.75 1094.6,767.36 1096.3,767.71 1098,767.66 1099.7,767.59 1101.4,767.75 1103.1,767.24 1104.8,767.58 1106.5,767.59 1108.2,767.63 1109.9,767.46 1111.6,767.26 1113.3,767.33 1115,767.58 1116.7,767.33 1118.4,767.26 1120.1,767.43 1121.8,767.5 1123.5,767.54 1125.2,767.24 1126.9,767.69 1128.6,767.42 1130.3,767.69 1132,767.23 1133.7,767.79 1135.4,767.57 1137.1,767.81 1138.8,767.81 1140.5,767.72 1142.2,767.28 1143.9,767.43 1145.6,767.36 1147.3,767.69 1149,767.34 1150.7,767.35 1152.4,767.29 1154.1,767.29 1155.8,767.78 1157.5,767.81 1159.2,767.44 1160.9,767.66 1162.6,767.5 1164.3,767.53 1166,767.44 1167.7,767.6 1169.4,767.36 1171.1,767.37 1172.8,767.53 1174.5,767.34 1176.2,767.48 1177.9,767.79 1179.6,767.23 1181.3,767.28 1183,767.7 1184.7,767.25 1186.4,767.37 1188.1,767.73 1189.8,767.58 1191.5,767.35 1193.2,767.26 1194.9,767.39 1196.6,767.4 1198.3,767.7 1200,767.81 1201.7,767.69 1203.4,767.76 1205.1,767.78 1206.8,767.75 1208.5,767.77 1210.2,767.8 1211.9,767.28 1213.6,767.41 1215.3,767.37 1217,767.58 1218.7,767.52 1220.4,767.43 1222.1,767.72 1223.8,767.46 1225.5,767.35 1227.2,767.39 1228.9,767.5 1230.6,767.59 1232.3,767.56 1234,767.48 1235.7,767.33 1237.4,767.46 1239.1,767.42 1240.8,767.32 1242.5,767.55 1244.2,767.33 1245.9,767.65 1247.6,767.62 1249.3,767.3 1251,767.6 1252.7,767.42 1254.4,767.49 1256.1,767.58 1257.8,767.68 1259.5,767.75 1261.2,767.66 1262.9,767.35 1264.6,767.55 1266.3,767.42 1268,767.23 1269.7,767.55 1271.4,767.5 1273.1,767.74 1274.8,767.41 1275,767.52" fill="none" stroke="#555555" stroke-width="3.4" stroke-linejoin="round"/>
<path d="M1145.05,767.52 L1145.35,753.02 L1146.45,767.52 M1153.55,767.52 L1153.85,753.02 L1154.95,767.52 M1161.45,767.52 L1161.75,733.52 L1162.85,767.52 M1169.25,767.52 L1169.55,748.52 L1170.65,767.52 M1178.55,767.52 L1178.85,747.22 L1179.95,767.52 M1207.45,767.52 L1207.75,722.12 L1208.85,767.52 M1215.45,767.52 L1215.75,713.92 L1216.85,767.52 M1224.85,767.52 L1225.15,713.92 L1226.25,767.52 M1234.45,767.52 L1234.75,713.92 L1235.85,767.52 M1245.65,767.52 L1245.95,713.92 L1247.05,767.52 M1149.55,767.52 L1150.4,772.32 L1150.85,767.52 M1158.05,767.52 L1158.9,774.32 L1159.35,767.52 M1165.75,767.52 L1166.6,777.82 L1167.05,767.52 M1173.35,767.52 L1174.2,773.52 L1174.65,767.52 M1184.35,767.52 L1185.2,774.32 L1185.65,767.52 M1212.05,767.52 L1212.9,815.42 L1213.35,767.52 M1220.95,767.52 L1221.8,819.42 L1222.25,767.52 M1230.15,767.52 L1231,818.62 L1231.45,767.52 M1240.55,767.52 L1241.4,818.32 L1241.85,767.52 M1251.85,767.52 L1252.7,839.22 L1253.15,767.52 " fill="none" stroke="#555555" stroke-width="2.5" stroke-linejoin="round" stroke-linecap="round"/>
<text x="846.7" y="721" font-size="28" font-weight="bold" font-style="normal" fill="#FF0000" text-anchor="middle" >1</text>
<text x="916.3" y="721" font-size="28" font-weight="bold" font-style="normal" fill="#FF0000" text-anchor="middle" >2</text>
<text x="978.9" y="721" font-size="28" font-weight="bold" font-style="normal" fill="#FF0000" text-anchor="middle" >3</text>
<rect x="773.3" y="436.6" width="508" height="409.8" fill="none" stroke="#000" stroke-width="3.2" />
<line x1="764.7" y1="452" x2="773.3" y2="452" stroke="#000" stroke-width="3.2" />
<line x1="764.7" y1="530.88" x2="773.3" y2="530.88" stroke="#000" stroke-width="3.2" />
<line x1="764.7" y1="609.76" x2="773.3" y2="609.76" stroke="#000" stroke-width="3.2" />
<line x1="764.7" y1="688.64" x2="773.3" y2="688.64" stroke="#000" stroke-width="3.2" />
<line x1="764.7" y1="767.52" x2="773.3" y2="767.52" stroke="#000" stroke-width="3.2" />
<line x1="764.7" y1="846.4" x2="773.3" y2="846.4" stroke="#000" stroke-width="3.2" />
<line x1="768.9" y1="491.44" x2="773.3" y2="491.44" stroke="#000" stroke-width="3.2" />
<line x1="768.9" y1="570.32" x2="773.3" y2="570.32" stroke="#000" stroke-width="3.2" />
<line x1="768.9" y1="649.2" x2="773.3" y2="649.2" stroke="#000" stroke-width="3.2" />
<line x1="768.9" y1="728.08" x2="773.3" y2="728.08" stroke="#000" stroke-width="3.2" />
<line x1="768.9" y1="806.96" x2="773.3" y2="806.96" stroke="#000" stroke-width="3.2" />
<text x="753" y="461.1" font-size="26" font-weight="bold" font-style="normal" fill="#000" text-anchor="end" >250</text>
<text x="753" y="539.98" font-size="26" font-weight="bold" font-style="normal" fill="#000" text-anchor="end" >200</text>
<text x="753" y="618.86" font-size="26" font-weight="bold" font-style="normal" fill="#000" text-anchor="end" >150</text>
<text x="753" y="697.74" font-size="26" font-weight="bold" font-style="normal" fill="#000" text-anchor="end" >100</text>
<text x="753" y="776.62" font-size="26" font-weight="bold" font-style="normal" fill="#000" text-anchor="end" >50</text>
<text x="753" y="855.5" font-size="26" font-weight="bold" font-style="normal" fill="#000" text-anchor="end" >0</text>
<line x1="773.3" y1="846.4" x2="773.3" y2="854.8" stroke="#000" stroke-width="3.2" />
<line x1="900.3" y1="846.4" x2="900.3" y2="854.8" stroke="#000" stroke-width="3.2" />
<line x1="1027.3" y1="846.4" x2="1027.3" y2="854.8" stroke="#000" stroke-width="3.2" />
<line x1="1154.3" y1="846.4" x2="1154.3" y2="854.8" stroke="#000" stroke-width="3.2" />
<line x1="1281.3" y1="846.4" x2="1281.3" y2="854.8" stroke="#000" stroke-width="3.2" />
<line x1="836.8" y1="846.4" x2="836.8" y2="850.6" stroke="#000" stroke-width="3.2" />
<line x1="963.8" y1="846.4" x2="963.8" y2="850.6" stroke="#000" stroke-width="3.2" />
<line x1="1090.8" y1="846.4" x2="1090.8" y2="850.6" stroke="#000" stroke-width="3.2" />
<line x1="1217.8" y1="846.4" x2="1217.8" y2="850.6" stroke="#000" stroke-width="3.2" />
<text x="773.3" y="884.6" font-size="26" font-weight="bold" font-style="normal" fill="#000" text-anchor="middle" >0</text>
<text x="900.3" y="884.6" font-size="26" font-weight="bold" font-style="normal" fill="#000" text-anchor="middle" >5</text>
<text x="1027.3" y="884.6" font-size="26" font-weight="bold" font-style="normal" fill="#000" text-anchor="middle" >10</text>
<text x="1154.3" y="884.6" font-size="26" font-weight="bold" font-style="normal" fill="#000" text-anchor="middle" >15</text>
<text x="1281.3" y="884.6" font-size="26" font-weight="bold" font-style="normal" fill="#000" text-anchor="middle" >20</text>
<rect x="1080.6" y="444.2" width="191.8" height="75.3" fill="#fff" stroke="#333" stroke-width="1.1" />
<line x1="1084.3" y1="462.4" x2="1139.7" y2="462.4" stroke="#32AD68" stroke-width="3.2" />
<text x="1147.7" y="470.1" font-size="21.8" font-weight="bold" font-style="normal" fill="#000" text-anchor="start" >E<tspan font-size="14.39" dy="6.21">1</tspan></text>
<line x1="1179.5" y1="462.4" x2="1234.9" y2="462.4" stroke="#1B6EE0" stroke-width="3.2" />
<text x="1242.9" y="470.1" font-size="21.8" font-weight="bold" font-style="normal" fill="#000" text-anchor="start" >E<tspan font-size="14.39" dy="6.21">2</tspan></text>
<line x1="1084.3" y1="496.4" x2="1139.7" y2="496.4" stroke="#F0383E" stroke-width="3.2" />
<text x="1147.7" y="504.1" font-size="21.8" font-weight="bold" font-style="normal" fill="#000" text-anchor="start" >E<tspan font-size="14.39" dy="6.21">3</tspan></text>
<line x1="1179.5" y1="496.4" x2="1234.9" y2="496.4" stroke="#555555" stroke-width="3.2" />
<text x="1242.9" y="504.1" font-size="21.8" font-weight="bold" font-style="normal" fill="#000" text-anchor="start" >E<tspan font-size="14.39" dy="6.21">4</tspan></text>
<text transform="translate(686.3 640.9) rotate(-90)" font-size="26" font-weight="bold" fill="#000" text-anchor="middle">Voltage (V)</text>
<text x="1027.3" y="925.1" font-size="26" font-weight="bold" font-style="normal" fill="#000" text-anchor="middle" >Time (s)</text>
</g>
<g id="pd">
<text x="1348.8" y="439.3" font-size="40" font-weight="bold" font-style="normal" fill="#000" text-anchor="start" >d</text>
<polyline points="1522.8,681.3 1649.8,715.6 1776.9,672.9" fill="none" stroke="#058205" stroke-width="1.5" stroke-dasharray="6.5 6.5"/>
<line x1="1522.8" y1="612" x2="1522.8" y2="749.6" stroke="#058205" stroke-width="3.2" />
<line x1="1516.5" y1="612" x2="1529.1" y2="612" stroke="#058205" stroke-width="2.9" />
<line x1="1516.5" y1="749.6" x2="1529.1" y2="749.6" stroke="#058205" stroke-width="2.9" />
<rect x="1518.8" y="677.3" width="8" height="8" fill="#058205" />
<line x1="1649.8" y1="695" x2="1649.8" y2="736.4" stroke="#058205" stroke-width="3.2" />
<line x1="1643.5" y1="695" x2="1656.1" y2="695" stroke="#058205" stroke-width="2.9" />
<line x1="1643.5" y1="736.4" x2="1656.1" y2="736.4" stroke="#058205" stroke-width="2.9" />
<rect x="1645.8" y="711.6" width="8" height="8" fill="#058205" />
<line x1="1776.9" y1="616" x2="1776.9" y2="729.8" stroke="#058205" stroke-width="3.2" />
<line x1="1770.6" y1="616" x2="1783.2" y2="616" stroke="#058205" stroke-width="2.9" />
<line x1="1770.6" y1="729.8" x2="1783.2" y2="729.8" stroke="#058205" stroke-width="2.9" />
<rect x="1772.9" y="668.9" width="8" height="8" fill="#058205" />
<polyline points="1649.8,744.1 1776.9,710 1903.9,736.1" fill="none" stroke="#0A0AFF" stroke-width="1.5" stroke-dasharray="5 5.5"/>
<line x1="1649.8" y1="679.3" x2="1649.8" y2="808.9" stroke="#0A0AFF" stroke-width="3.2" />
<line x1="1643.5" y1="679.3" x2="1656.1" y2="679.3" stroke="#0A0AFF" stroke-width="2.9" />
<line x1="1643.5" y1="808.9" x2="1656.1" y2="808.9" stroke="#0A0AFF" stroke-width="2.9" />
<rect x="1645.8" y="740.1" width="8" height="8" fill="#0A0AFF" />
<line x1="1776.9" y1="690.9" x2="1776.9" y2="729.8" stroke="#0A0AFF" stroke-width="3.2" />
<line x1="1770.6" y1="690.9" x2="1783.2" y2="690.9" stroke="#0A0AFF" stroke-width="2.9" />
<line x1="1770.6" y1="729.8" x2="1783.2" y2="729.8" stroke="#0A0AFF" stroke-width="2.9" />
<rect x="1772.9" y="706" width="8" height="8" fill="#0A0AFF" />
<line x1="1903.9" y1="682.6" x2="1903.9" y2="789.8" stroke="#0A0AFF" stroke-width="3.2" />
<line x1="1897.6" y1="682.6" x2="1910.2" y2="682.6" stroke="#0A0AFF" stroke-width="2.9" />
<line x1="1897.6" y1="789.8" x2="1910.2" y2="789.8" stroke="#0A0AFF" stroke-width="2.9" />
<rect x="1899.9" y="732.1" width="8" height="8" fill="#0A0AFF" />
<polyline points="1522.8,489.3 1649.8,507.5 1776.9,489.6 1903.9,496.6" fill="none" stroke="#FF0000" stroke-width="1.5" stroke-dasharray="6.5 7"/>
<line x1="1522.8" y1="487.6" x2="1522.8" y2="491" stroke="#FF0000" stroke-width="3.2" />
<line x1="1516.5" y1="487.6" x2="1529.1" y2="487.6" stroke="#FF0000" stroke-width="2.6" />
<line x1="1516.5" y1="491" x2="1529.1" y2="491" stroke="#FF0000" stroke-width="2.6" />
<rect x="1519.1" y="485.6" width="7.4" height="7.4" fill="#FF0000" />
<line x1="1649.8" y1="505.6" x2="1649.8" y2="509.4" stroke="#FF0000" stroke-width="3.2" />
<line x1="1643.5" y1="505.6" x2="1656.1" y2="505.6" stroke="#FF0000" stroke-width="2.6" />
<line x1="1643.5" y1="509.4" x2="1656.1" y2="509.4" stroke="#FF0000" stroke-width="2.6" />
<rect x="1646.1" y="503.8" width="7.4" height="7.4" fill="#FF0000" />
<line x1="1776.9" y1="485.8" x2="1776.9" y2="493.4" stroke="#FF0000" stroke-width="3.2" />
<line x1="1770.6" y1="485.8" x2="1783.2" y2="485.8" stroke="#FF0000" stroke-width="2.9" />
<line x1="1770.6" y1="493.4" x2="1783.2" y2="493.4" stroke="#FF0000" stroke-width="2.9" />
<rect x="1773.2" y="485.9" width="7.4" height="7.4" fill="#FF0000" />
<line x1="1903.9" y1="490.1" x2="1903.9" y2="503.3" stroke="#FF0000" stroke-width="3.2" />
<line x1="1897.6" y1="490.1" x2="1910.2" y2="490.1" stroke="#FF0000" stroke-width="2.9" />
<line x1="1897.6" y1="503.3" x2="1910.2" y2="503.3" stroke="#FF0000" stroke-width="2.9" />
<rect x="1900.2" y="492.9" width="7.4" height="7.4" fill="#FF0000" />
<rect x="1664" y="511.4" width="295.9" height="100.1" fill="#fff" stroke="#222" stroke-width="1.1" />
<rect x="1671.6" y="519.1" width="17.1" height="16.8" fill="#FF0000" stroke="#d8d8d8" stroke-width="0.8" />
<rect x="1671.6" y="550.3" width="17.1" height="16.8" fill="#548235" stroke="#d8d8d8" stroke-width="0.8" />
<rect x="1671.6" y="581.5" width="17.1" height="16.8" fill="#0E33A8" stroke="#d8d8d8" stroke-width="0.8" />
<text x="1700.6" y="535.3" font-size="22.3" font-weight="bold" font-style="normal" fill="#000" text-anchor="start" >Press E<tspan font-style="italic" font-size="15.5" dy="5.2">i</tspan><tspan dy="-5.2">, </tspan><tspan font-style="italic">V</tspan><tspan font-style="italic" font-size="15.5" dy="5.2">i</tspan><tspan dy="-5.2"> Ratio</tspan></text>
<text x="1700.6" y="566.7" font-size="22.3" font-weight="bold" font-style="normal" fill="#000" text-anchor="start" >Press middle, <tspan font-style="italic">V</tspan><tspan font-style="italic" font-size="15.5" dy="5.2">i</tspan><tspan dy="-5.2"> ratio</tspan></text>
<text x="1700.6" y="597.3" font-size="22.3" font-weight="bold" font-style="normal" fill="#000" text-anchor="start" >Press middle, <tspan font-style="italic">V</tspan><tspan font-style="italic" font-size="15.5" dy="5.2">i+1</tspan><tspan dy="-5.2"> ratio</tspan></text>
<text x="1471.2" y="562.7" font-size="26" font-weight="bold" font-style="normal" fill="#000" text-anchor="start" >Ratio =</text>
<text x="1565.2" y="562.7" font-size="26" font-weight="bold" font-style="italic" fill="#000" text-anchor="start" >V<tspan font-size="17" dy="7.6">i</tspan></text>
<text x="1591" y="562.7" font-size="26" font-weight="bold" font-style="italic" fill="#000" text-anchor="start" >/</text>
<text x="1614.4" y="565.1" font-size="29" font-weight="normal" font-style="normal" fill="#000" text-anchor="middle" >&#931;</text>
<text x="1614.5" y="540.1" font-size="12" font-weight="bold" font-style="normal" fill="#000" text-anchor="middle" >4</text>
<text x="1614.2" y="582" font-size="13.5" font-weight="normal" font-style="normal" fill="#000" text-anchor="middle" ><tspan font-style="italic">i</tspan>=1</text>
<text x="1624.6" y="562.7" font-size="26" font-weight="bold" font-style="italic" fill="#000" text-anchor="start" >V<tspan font-size="17" dy="7.6">i</tspan></text>
<rect x="1459.6" y="432.9" width="508" height="408.3" fill="none" stroke="#000" stroke-width="3.2" />
<line x1="1451" y1="478.5" x2="1459.6" y2="478.5" stroke="#000" stroke-width="3.2" />
<line x1="1451" y1="569.18" x2="1459.6" y2="569.18" stroke="#000" stroke-width="3.2" />
<line x1="1451" y1="659.86" x2="1459.6" y2="659.86" stroke="#000" stroke-width="3.2" />
<line x1="1451" y1="750.54" x2="1459.6" y2="750.54" stroke="#000" stroke-width="3.2" />
<line x1="1451" y1="841.22" x2="1459.6" y2="841.22" stroke="#000" stroke-width="3.2" />
<line x1="1455.2" y1="523.84" x2="1459.6" y2="523.84" stroke="#000" stroke-width="3.2" />
<line x1="1455.2" y1="614.52" x2="1459.6" y2="614.52" stroke="#000" stroke-width="3.2" />
<line x1="1455.2" y1="705.2" x2="1459.6" y2="705.2" stroke="#000" stroke-width="3.2" />
<line x1="1455.2" y1="795.88" x2="1459.6" y2="795.88" stroke="#000" stroke-width="3.2" />
<text x="1439.3" y="486.5" font-size="26" font-weight="bold" font-style="normal" fill="#000" text-anchor="end" >1.0</text>
<text x="1439.3" y="577.18" font-size="26" font-weight="bold" font-style="normal" fill="#000" text-anchor="end" >0.8</text>
<text x="1439.3" y="667.86" font-size="26" font-weight="bold" font-style="normal" fill="#000" text-anchor="end" >0.6</text>
<text x="1439.3" y="758.54" font-size="26" font-weight="bold" font-style="normal" fill="#000" text-anchor="end" >0.4</text>
<text x="1439.3" y="849.22" font-size="26" font-weight="bold" font-style="normal" fill="#000" text-anchor="end" >0.2</text>
<line x1="1522.8" y1="841.2" x2="1522.8" y2="849.6" stroke="#000" stroke-width="3.2" />
<text x="1514.2" y="881.9" font-size="26" font-weight="bold" font-style="normal" fill="#000" text-anchor="start" >E<tspan font-size="17.5" dy="7.6">1</tspan></text>
<line x1="1649.8" y1="841.2" x2="1649.8" y2="849.6" stroke="#000" stroke-width="3.2" />
<text x="1641.2" y="881.9" font-size="26" font-weight="bold" font-style="normal" fill="#000" text-anchor="start" >E<tspan font-size="17.5" dy="7.6">2</tspan></text>
<line x1="1776.9" y1="841.2" x2="1776.9" y2="849.6" stroke="#000" stroke-width="3.2" />
<text x="1768.3" y="881.9" font-size="26" font-weight="bold" font-style="normal" fill="#000" text-anchor="start" >E<tspan font-size="17.5" dy="7.6">3</tspan></text>
<line x1="1903.9" y1="841.2" x2="1903.9" y2="849.6" stroke="#000" stroke-width="3.2" />
<text x="1895.3" y="881.9" font-size="26" font-weight="bold" font-style="normal" fill="#000" text-anchor="start" >E<tspan font-size="17.5" dy="7.6">4</tspan></text>
<text transform="translate(1385.3 637.2) rotate(-90)" font-size="26" font-weight="bold" fill="#000" text-anchor="middle">Ratio</text>
<text x="1713.4" y="929.3" font-size="26" font-weight="bold" font-style="normal" fill="#000" text-anchor="middle" >Electrode</text>
</g>
<g id="pe">
<text x="-1.5" y="1007.4" font-size="40" font-weight="bold" font-style="normal" fill="#000" text-anchor="start" >e</text>
<polyline points="94,1110.58 95.21,1110.63 96.42,1110.81 97.63,1110.59 98.84,1110.61 100.05,1110.65 101.26,1110.45 102.47,1110.62 103.68,1110.68 104.89,1110.77 106.11,1110.42 107.32,1110.53 108.53,1110.42 109.74,1110.78 110.95,1110.73 112.16,1110.4 113.37,1110.87 114.58,1110.86 115.79,1110.7 117,1110.68 118.21,1110.45 119.42,1110.37 120.63,1110.62 121.84,1110.38 123.05,1110.43 124.26,1110.44 125.47,1110.32 126.68,1110.52 127.89,1110.49 129.11,1110.67 130.32,1110.49 131.53,1110.53 132.74,1110.43 133.95,1110.48 135.16,1110.34 136.37,1110.22 137.58,1110.54 138.79,1110.49 140,1110.37 141.33,1110.23 142.67,1109.89 144,1109.64 145.33,1109.36 146.67,1108.83 148,1108.63 149.3,1107.77 150.6,1107.11 151.9,1105.67 153.2,1104.33 154.6,1101.81 156,1098.37 157.4,1095.43 158.8,1093.21 160.2,1091.37 161.6,1090.57 163,1088.95 164.75,1086.18 166.5,1083.56 168.25,1080.68 170,1077.88 171.65,1076.06 173.3,1075.92 174.65,1078.39 176,1082.13 177.5,1087.54 179,1093.87 180.2,1098.57 181.4,1103.37 182.6,1108.31 183.8,1112.04 185.2,1115.99 186.6,1118.91 188,1121.35 189.75,1124.57 191.5,1125.72 192.83,1125.29 194.17,1123.41 195.5,1121.96 196.97,1120.33 198.43,1118.84 199.9,1118.04 201.27,1117.4 202.63,1116.96 204,1117.19 205.4,1116.75 206.8,1116.73 208.2,1116.92 209.6,1116.92 211,1117 212.5,1118.91 214,1120.36 215.8,1121.83 217.6,1122.84 219.3,1122.02 221,1120.7 222.32,1119.46 223.63,1118.22 224.95,1117.17 226.27,1115.75 227.58,1114.79 228.9,1113.74 230.25,1113.01 231.6,1112.63 232.95,1111.88 234.3,1111.52 235.65,1111.34 237,1110.74 238.3,1110.54 239.6,1110.77 240.9,1110.61 242.2,1110.26 243.5,1110.18 244.8,1110.43 246.1,1110.52 247.4,1110.14 248.7,1110.52 250,1110.49 251.2,1110.35 252.41,1110.26 253.61,1110.1 254.81,1110.06 256.02,1110.52 257.22,1110.16 258.42,1110.39 259.63,1110.16 260.83,1110.45 262.03,1110.33 263.24,1110.18 264.44,1110.12 265.64,1110.39 266.85,1110.06 268.05,1110.14 269.25,1110.3 270.46,1110.45 271.66,1110.33 272.87,1110.16 274.07,1110.47 275.27,1110.12 276.48,1110.02 277.68,1110.15 278.88,1110.23 280.09,1110.04 281.29,1110.1 282.49,1110.19 283.7,1110.29 284.9,1110.07 286.1,1110.18 287.31,1110.45 288.51,1110.49 289.71,1110.33 290.92,1110.34 292.12,1110.29 293.32,1110.07 294.53,1110.01 295.73,1110 296.93,1110.45 298.14,1110.34 299.34,1110.47 300.54,1110 301.75,1110.31 302.95,1110.23 304.15,1110.35 305.36,1110.14 306.56,1110.48 307.76,1110.02 308.97,1110.26 310.17,1110.35 311.38,1110.43 312.58,1110.35 313.78,1110.33 314.99,1110.38 316.19,1110.44 317.39,1110.15 318.6,1110.32 319.8,1110.43 321,1110.41 322.21,1110.18 323.41,1110.37 324.61,1110.41 325.82,1110.26 327.02,1110.29 328.22,1110.16 329.43,1110.26 330.63,1110.28 331.83,1110.01 333.04,1110.29 334.24,1110.47 335.44,1110.41 336.65,1110.33 337.85,1110.16 339.05,1110.34 340.26,1110.26 341.46,1110.19 342.66,1110.39 343.87,1110.01 345.07,1110.34 346.27,1109.98 347.48,1110.27 348.68,1110.21 349.89,1110.08 351.09,1110.31 352.29,1110.21 353.5,1110.27 354.7,1110.43 355.9,1110.09 357.11,1109.97 358.31,1110.12 359.51,1110.3 360.72,1110.07 361.92,1110.05 363.12,1110.42 364.33,1110.29 365.53,1110.19 366.73,1110.41 367.94,1110.13 369.14,1110.3 370.34,1110.06 371.55,1110.18 372.75,1110.37 373.95,1110.42 375.16,1110.4 376.36,1110.16 377.56,1110.26 378.77,1110.12 379.97,1110.03 381.17,1110.21 382.38,1110.38 383.58,1110.39 384.78,1110.32 385.99,1110.44 387.19,1110.1 388.4,1110.05 389.6,1110.19 390.8,1110.1 392.01,1110.07 393.21,1110.17 394.41,1110.28 395.62,1110.21 396.82,1110.13 398.02,1110.39 399.23,1110.46 400.43,1110.2 401.63,1110.01 402.84,1109.99 404.04,1110.41 405.24,1109.99 406.45,1110.33 407.65,1110.26 408.85,1110.13 410.06,1110.37 411.26,1109.98 412.46,1110.04 413.67,1110.2 414.87,1109.99 416.07,1110.39 417.28,1110.09 418.48,1110.05 419.68,1110 420.89,1110.29 422.09,1110.2 423.29,1110.29 424.5,1110.3 425.7,1110.38 426.91,1110.46 428.11,1110.32 429.31,1110.08 430.52,1110.22 431.72,1110.07 432.92,1109.99 434.13,1110.22 435.33,1110.34 436.53,1110.07 437.74,1110.12 438.94,1110.16 440.14,1110.33 441.35,1110.25 442.55,1110.29 443.75,1110.36 444.96,1110.18 446.16,1110.38 447.36,1110.44 448.57,1110.03 449.77,1110.46 450.97,1110.35 452.18,1110.06 453.38,1110.22 454.58,1110.3 455.79,1110.45 456.99,1110.18 458.19,1110.28 459.4,1110.43 460.6,1110.39 461.8,1110.47 463.01,1110.23 464.21,1110.32 465.42,1110.1 466.62,1110.36 467.82,1110.41 469.03,1110.32 470.23,1110.36 471.43,1110.11 472.64,1110.45 473.84,1110.49 475.04,1110.49 476.25,1110.27 477.45,1110.4 478.65,1110.16 479.86,1110.46 481.06,1110.43 482.26,1110.18 483.47,1110.05 484.67,1110.23 485.87,1110.28 487.08,1110.39 488.28,1110.25 489.48,1110.02 490.69,1110.42 491.89,1110.04 493.09,1110.41 494.3,1110.1 495.5,1110.18 496.7,1110.41 497.91,1110.09 499.11,1110.09 500.31,1110.27 501.52,1110.38 502.72,1110.44 503.93,1110.36 505.13,1110.49 506.33,1110.27 507.54,1110.49 508.74,1110.06 509.94,1110.13 511.15,1110.29 512.35,1110.17 513.55,1110.39 514.76,1110.34 515.96,1110.29 517.16,1110.45 518.37,1110.31 519.57,1110.18 520.77,1110.22 521.98,1110.45 523.18,1110.48 524.38,1110.13 525.59,1110.45 526.79,1110.51 527.99,1110.29 529.2,1110.32 530.4,1110.13 531.6,1110.3 532.81,1110.28 534.01,1110.34 535.21,1110.05 536.42,1110.52 537.62,1110.29 538.82,1110.24 540.03,1110.44 541.23,1110.32 542.44,1110.28 543.64,1110.38 544.84,1110.07 546.05,1110.31 547.25,1110.25 548.45,1110.52 549.66,1110.5 550.86,1110.17 552.06,1110.28 553.27,1110.1 554.47,1110.26 555.67,1110.45 556.88,1110.49 558.08,1110.28 559.28,1110.2 560.49,1110.14 561.69,1110.35 562.89,1110.51 564.1,1110.11 565.3,1110.43 566.5,1110.06 567.71,1110.14 568.91,1110.16 570.11,1110.39 571.32,1110.21 572.52,1110.22 573.72,1110.36 574.93,1110.1 576.13,1110.41 577.33,1110.11 578.54,1110.3 579.74,1110.17 580.95,1110.15 582.15,1110.31 583.35,1110.27 584.56,1110.24 585.76,1110.26 586.96,1110.31 588.17,1110.13 589.37,1110.15 590.57,1110.37 591.78,1110.37 592.98,1110.31 594.18,1110.48 595.39,1110.36 596.59,1110.48 597.79,1110.17 599,1110.42 600.2,1110.3" fill="none" stroke="#32AD68" stroke-width="3.3" stroke-linejoin="round" stroke-linecap="butt" />
<path d="M160.1,1092 L161.2,1081.6 L162.3,1092 M156.5,1098 L157.6,1091 L158.7,1098 M167.9,1080 L169,1054.2 L170.1,1080 M171.2,1080 L172.3,1073 L173.4,1080 M173.7,1082 L174.8,1076.5 L175.9,1082 M212.5,1119 L213.6,1116.5 L214.7,1119 " fill="none" stroke="#32AD68" stroke-width="2" stroke-linejoin="round" stroke-linecap="round"/>
<polyline points="94,1187.76 95.21,1188.04 96.42,1188.05 97.62,1187.26 98.83,1187.07 100.04,1187.61 101.25,1187.46 102.46,1188.27 103.67,1188.09 104.88,1187.96 106.08,1187.89 107.29,1188.05 108.5,1187.28 109.71,1187.72 110.92,1187.3 112.12,1188.42 113.33,1187.15 114.54,1188.29 115.75,1187.18 116.96,1188.1 118.17,1187.58 119.38,1187.68 120.58,1188.34 121.79,1187.1 123,1187.17 124.21,1188.45 125.42,1187.84 126.62,1187.22 127.83,1188.56 129.04,1188.51 130.25,1187.26 131.46,1187.72 132.67,1187.29 133.88,1187.56 135.08,1188.03 136.29,1187.34 137.5,1188.14 138.71,1187.17 139.92,1187.36 141.12,1188.32 142.33,1187.7 143.54,1187.73 144.75,1188 145.96,1187.82 147.17,1187.68 148.38,1187.15 149.58,1188.19 150.79,1188.56 152,1188.57 153.21,1188.1 154.42,1187.64 155.62,1187.65 156.83,1188.14 158.04,1188.12 159.25,1187.27 160.46,1187.46 161.67,1187.65 162.88,1187.87 164.08,1188.31 165.29,1187.85 166.5,1187.14 167.71,1188.33 168.92,1187.74 170.12,1187.87 171.33,1187.42 172.54,1187.72 173.75,1187.66 174.96,1188.23 176.17,1187.23 177.38,1187.89 178.58,1187.33 179.79,1188.1 181,1187.11 182.21,1187.47 183.42,1187.56 184.62,1188 185.83,1187.11 187.04,1187.72 188.25,1187.34 189.46,1187.44 190.67,1187.72 191.88,1188.44 193.08,1187.72 194.29,1188.42 195.5,1187.23 196.71,1188.36 197.92,1187.51 199.12,1187.23 200.33,1188.06 201.54,1188.3 202.75,1186.93 203.96,1187.31 205.17,1188.05 206.38,1187.4 207.58,1187.24 208.79,1186.88 210,1186.91 211.25,1187.75 212.5,1188.16 213.75,1187.85 215,1186.51 216.33,1184.67 217.67,1183.56 219,1182.43 220.7,1179.41 222.4,1176.21 223.8,1174.05 225.2,1173.22 226.6,1172.03 228,1171.19 229.23,1169.66 230.47,1169.68 231.7,1168.64 232.93,1166.67 234.17,1166.17 235.4,1166.56 236.78,1165.43 238.16,1166.44 239.54,1166.04 240.92,1166.73 242.3,1167.31 243.6,1167.19 244.9,1168.04 246.2,1168.93 247.5,1170.76 248.8,1172.29 250.2,1173.91 251.6,1178.28 253,1180.88 254.27,1183.61 255.53,1186.96 256.8,1190.32 258.15,1191.82 259.5,1193.78 260.85,1195.76 262.2,1196.99 263.64,1197.56 265.08,1197.64 266.52,1198.29 267.96,1199.01 269.4,1199.03 270.72,1198.8 272.04,1198.38 273.36,1198.25 274.68,1198.58 276,1198.09 277.22,1197.05 278.44,1197.81 279.66,1197.79 280.88,1197.29 282.1,1197.1 283.41,1196.74 284.72,1195.78 286.03,1195.75 287.34,1194.72 288.65,1193.88 289.95,1193.85 291.26,1193.38 292.57,1193.92 293.88,1193.17 295.19,1192.59 296.5,1192.38 297.71,1191.34 298.91,1191.67 300.12,1191.63 301.33,1190.89 302.53,1190.39 303.74,1190.36 304.95,1189.97 306.15,1190.26 307.36,1189.21 308.57,1188.9 309.77,1189.02 310.98,1189.39 312.19,1189.3 313.39,1188.99 314.6,1189.25 315.88,1188.26 317.15,1187.64 318.43,1188.22 319.7,1188.07 320.98,1187.59 322.25,1188.26 323.53,1187.72 324.8,1187.52 326.07,1187.62 327.35,1188.52 328.62,1187.1 329.9,1187.61 331.18,1187.48 332.45,1187.36 333.73,1187.7 335,1187.38 336.2,1188.42 337.4,1187.79 338.6,1188.09 339.8,1187.28 341,1187.73 342.2,1187.94 343.4,1188.29 344.6,1187.4 345.8,1187.71 347,1188.3 348.2,1188.26 349.4,1187.36 350.6,1187.82 351.8,1188.15 353,1187.6 354.2,1188.01 355.4,1188 356.6,1188.46 357.8,1187.83 359,1188.02 360.2,1187.52 361.4,1188.09 362.6,1187.47 363.8,1187.74 365,1187.53 366.2,1187.44 367.4,1187.18 368.6,1187.32 369.8,1187.79 371,1187.35 372.2,1187.04 373.4,1188.18 374.6,1187.4 375.8,1188.37 377,1187.86 378.2,1187.55 379.4,1188.27 380.6,1188.31 381.8,1187.44 383,1187.15 384.2,1187.92 385.4,1188.22 386.6,1187.87 387.8,1188.13 389,1187.57 390.2,1187.88 391.4,1187.35 392.6,1187.56 393.8,1187.52 395,1187.53 396.2,1187.55 397.4,1188.16 398.6,1187.2 399.8,1187.25 401,1187.33 402.2,1188.4 403.4,1187.73 404.6,1187.02 405.8,1188.2 407,1188.25 408.2,1188.17 409.4,1187.48 410.6,1188.04 411.8,1187.4 413,1187.15 414.2,1188.24 415.4,1188.19 416.6,1187.26 417.8,1188.26 419,1186.98 420.2,1187.4 421.4,1186.96 422.6,1187.2 423.8,1187.18 425,1188.01 426.2,1187.38 427.4,1187.23 428.6,1187.22 429.8,1187.41 431,1188.23 432.2,1187.85 433.4,1187.09 434.6,1187.97 435.8,1187.75 437,1187.61 438.2,1187.73 439.4,1187.92 440.6,1188.14 441.8,1187.7 443,1187.9 444.2,1187.65 445.4,1187.9 446.6,1187.53 447.8,1187.57 449,1187.72 450.2,1188.02 451.4,1187.37 452.6,1188.34 453.8,1187.69 455,1188.23 456.2,1187.99 457.4,1188.39 458.6,1187.97 459.8,1187.59 461,1187.56 462.2,1187.87 463.4,1188.09 464.6,1188.21 465.8,1187.15 467,1187.05 468.2,1187.12 469.4,1187.08 470.6,1187.04 471.8,1186.97 473,1187.34 474.2,1187.13 475.4,1187.99 476.6,1187.89 477.8,1188.41 479,1188.41 480.2,1188.09 481.4,1188.39 482.6,1187.01 483.8,1187.31 485,1188.36 486.2,1187.68 487.4,1187.28 488.6,1188.11 489.8,1187.61 491,1187.79 492.2,1187.45 493.4,1187.34 494.6,1187.11 495.8,1187.89 497,1188.41 498.2,1188.46 499.4,1188.13 500.6,1188.38 501.8,1187.53 503,1187.43 504.2,1188.37 505.4,1187.89 506.6,1187.99 507.8,1187.01 509,1187.34 510.2,1187.72 511.4,1188.09 512.6,1188.23 513.8,1188.13 515,1187.51 516.2,1187.57 517.4,1188.29 518.6,1188.49 519.8,1187.73 521,1187.3 522.2,1187.94 523.4,1187.81 524.6,1187.55 525.8,1187.35 527,1187.59 528.2,1187.93 529.4,1187.2 530.6,1187.82 531.8,1188.44 533,1188.13 534.2,1187.39 535.4,1187.64 536.6,1187.17 537.8,1188.12 539,1187.97 540.2,1187.28 541.4,1187.84 542.6,1187.92 543.8,1187.89 545,1187.59 546.2,1187.49 547.4,1187.56 548.6,1188.52 549.8,1187.52 551,1187.78 552.2,1187.72 553.4,1187.29 554.6,1187.63 555.8,1187.34 557,1187.52 558.2,1187.59 559.4,1187.56 560.6,1188.44 561.8,1187.48 563,1187.54 564.2,1188.02 565.4,1187.63 566.6,1187.81 567.8,1188.01 569,1187.15 570.2,1188.05 571.4,1187.19 572.6,1187.42 573.8,1188.26 575,1188.53 576.2,1188.06 577.4,1187.3 578.6,1187.7 579.8,1187.47 581,1188.31 582.2,1187.4 583.4,1187.34 584.6,1188 585.8,1188 587,1187.93 588.2,1187.77 589.4,1188.49 590.6,1187.74 591.8,1188.45 593,1187.64 594.2,1187.75 595.4,1187.59 596.6,1188.12 597.8,1188.18 599,1187.41 600.2,1187.8" fill="none" stroke="#1B6EE0" stroke-width="3.3" stroke-linejoin="round" stroke-linecap="butt" />
<path d="M223.7,1176 L224.8,1165 L225.9,1176 M227.5,1172 L228.6,1162.5 L229.7,1172 M234.3,1166 L235.4,1148.5 L236.5,1166 M237.9,1168 L239,1161 L240.1,1168 M241.2,1167 L242.3,1159.5 L243.4,1167 M247.7,1172 L248.8,1167.5 L249.9,1172 M280.6,1196.5 L281.7,1192.5 L282.8,1196.5 " fill="none" stroke="#1B6EE0" stroke-width="2" stroke-linejoin="round" stroke-linecap="round"/>
<polyline points="94,1265.41 95.2,1265.75 96.4,1265.75 97.6,1265.88 98.81,1265.35 100.01,1265.39 101.21,1265.32 102.41,1265.38 103.61,1265.79 104.81,1265.31 106.01,1265.63 107.21,1265.37 108.42,1265.44 109.62,1265.55 110.82,1265.88 112.02,1265.69 113.22,1265.22 114.42,1265.43 115.62,1265.33 116.82,1265.91 118.03,1265.86 119.23,1265.86 120.43,1265.87 121.63,1265.81 122.83,1265.97 124.03,1265.85 125.23,1265.42 126.43,1265.9 127.64,1265.61 128.84,1265.82 130.04,1265.67 131.24,1265.57 132.44,1265.51 133.64,1265.57 134.84,1265.48 136.04,1265.32 137.25,1265.88 138.45,1265.87 139.65,1266.02 140.85,1265.78 142.05,1265.68 143.25,1265.83 144.45,1265.34 145.65,1265.78 146.86,1265.59 148.06,1265.38 149.26,1265.4 150.46,1265.66 151.66,1265.45 152.86,1265.61 154.06,1265.73 155.26,1265.56 156.47,1265.35 157.67,1265.64 158.87,1265.44 160.07,1265.44 161.27,1265.41 162.47,1265.55 163.67,1265.32 164.87,1265.78 166.08,1266.02 167.28,1265.57 168.48,1265.84 169.68,1266.01 170.88,1265.3 172.08,1265.38 173.28,1265.91 174.48,1265.94 175.69,1265.78 176.89,1265.4 178.09,1265.6 179.29,1265.97 180.49,1265.98 181.69,1265.92 182.89,1265.44 184.09,1265.96 185.3,1265.58 186.5,1265.85 187.7,1265.39 188.9,1266.06 190.1,1265.76 191.3,1265.86 192.5,1265.45 193.7,1265.77 194.91,1265.75 196.11,1265.75 197.31,1265.57 198.51,1265.86 199.71,1265.56 200.91,1265.52 202.11,1265.41 203.31,1265.83 204.52,1265.37 205.72,1265.46 206.92,1265.34 208.12,1265.8 209.32,1265.73 210.52,1265.72 211.72,1265.31 212.92,1265.63 214.13,1265.56 215.33,1265.36 216.53,1265.28 217.73,1266.08 218.93,1265.38 220.13,1265.52 221.33,1265.49 222.53,1265.76 223.74,1265.34 224.94,1265.65 226.14,1265.57 227.34,1265.94 228.54,1265.28 229.74,1265.54 230.94,1265.67 232.14,1266.04 233.35,1265.68 234.55,1265.64 235.75,1265.8 236.95,1265.5 238.15,1265.28 239.35,1265.66 240.55,1265.98 241.75,1265.84 242.96,1265.46 244.16,1265.8 245.36,1265.92 246.56,1265.45 247.76,1265.71 248.96,1265.52 250.16,1265.43 251.36,1265.46 252.57,1265.39 253.77,1265.51 254.97,1265.25 256.17,1265.54 257.37,1265.28 258.57,1265.82 259.77,1265.69 260.97,1265.21 262.18,1265.82 263.38,1265.35 264.58,1265.58 265.78,1265.63 266.98,1265.45 268.18,1265.41 269.38,1265.52 270.58,1265.28 271.79,1265.85 272.99,1265.25 274.19,1265.81 275.39,1265.32 276.59,1265.38 277.79,1265.45 278.99,1265.16 280.19,1265.23 281.4,1265.41 282.6,1265.47 283.8,1265.81 285,1265.89 286.3,1265.12 287.6,1265.5 288.9,1265.14 290.2,1265.63 291.5,1265.18 292.8,1265.54 294.1,1265.13 295.4,1264.64 296.7,1264.34 298,1264.3 299.34,1264.47 300.69,1263.49 302.03,1263.28 303.37,1262.66 304.71,1262.06 306.06,1261.84 307.4,1260.77 308.67,1260.58 309.93,1259.9 311.2,1259.44 312.47,1258.41 313.73,1258.03 315,1256.95 316.38,1256.28 317.76,1255.49 319.14,1254.85 320.52,1254.15 321.9,1252.89 323.25,1252.39 324.6,1252.25 325.95,1252.06 327.3,1251.5 328.65,1251.04 330,1251.37 331.26,1250.74 332.52,1250.57 333.78,1250.65 335.04,1250.83 336.3,1251.68 337.52,1251.53 338.73,1252.4 339.95,1252.98 341.17,1253.63 342.38,1254.14 343.6,1254.64 345.07,1256.19 346.53,1258.21 348,1260.17 349.53,1262.2 351.07,1265.15 352.6,1267.09 354.07,1269.44 355.53,1272.07 357,1273.48 358.53,1275.04 360.07,1276.92 361.6,1277.46 362.88,1277.18 364.16,1276.96 365.44,1276.7 366.72,1276.27 368,1276.35 369.35,1275.46 370.7,1275.6 372.05,1275.26 373.4,1274.56 374.75,1274.66 376.1,1274.11 377.35,1273.53 378.61,1272.97 379.86,1272.73 381.12,1272.68 382.37,1271.99 383.62,1271.31 384.88,1271.05 386.13,1270.75 387.38,1270.15 388.64,1270.11 389.89,1269.36 391.15,1269.7 392.4,1268.94 393.64,1268.67 394.87,1268.85 396.11,1268.43 397.35,1268.71 398.58,1268.23 399.82,1268.09 401.06,1268.19 402.29,1267.56 403.53,1267.85 404.77,1267.65 406.01,1267.36 407.24,1267.67 408.48,1266.82 409.72,1267.4 410.95,1266.73 412.19,1267.21 413.43,1266.58 414.66,1266.42 415.9,1266.7 417.12,1266.97 418.34,1266.37 419.55,1266.49 420.77,1266.53 421.99,1266.18 423.21,1266.36 424.42,1265.89 425.64,1266.2 426.86,1266.4 428.08,1266.03 429.3,1265.9 430.51,1265.73 431.73,1266.21 432.95,1265.97 434.17,1266.33 435.39,1266.16 436.6,1265.63 437.82,1266.26 439.04,1266.25 440.26,1266.14 441.48,1266.14 442.69,1266.01 443.91,1266.02 445.13,1265.97 446.35,1265.9 447.56,1265.62 448.78,1265.51 450,1265.98 451.2,1265.87 452.4,1265.43 453.6,1265.89 454.81,1265.86 456.01,1265.78 457.21,1265.98 458.41,1266.05 459.61,1265.65 460.81,1265.99 462.02,1265.74 463.22,1265.79 464.42,1265.66 465.62,1266.07 466.82,1265.67 468.02,1266.07 469.23,1265.57 470.43,1265.84 471.63,1266.02 472.83,1265.84 474.03,1265.59 475.23,1265.34 476.44,1265.66 477.64,1265.6 478.84,1265.92 480.04,1265.89 481.24,1266.05 482.44,1265.62 483.64,1265.58 484.85,1265.7 486.05,1265.85 487.25,1265.31 488.45,1265.41 489.65,1265.35 490.85,1265.49 492.06,1265.47 493.26,1266 494.46,1265.39 495.66,1265.97 496.86,1265.46 498.06,1265.38 499.27,1266 500.47,1265.29 501.67,1265.3 502.87,1265.31 504.07,1265.26 505.27,1265.52 506.48,1265.38 507.68,1265.33 508.88,1265.21 510.08,1265.76 511.28,1265.24 512.48,1265.38 513.68,1265.65 514.89,1265.9 516.09,1265.72 517.29,1265.76 518.49,1265.75 519.69,1265.83 520.89,1265.87 522.1,1265.31 523.3,1265.23 524.5,1265.68 525.7,1265.6 526.9,1265.6 528.1,1265.81 529.31,1265.33 530.51,1265.75 531.71,1265.53 532.91,1265.52 534.11,1265.38 535.31,1265.41 536.52,1265.65 537.72,1265.63 538.92,1265.91 540.12,1265.41 541.32,1265.76 542.52,1265.26 543.72,1265.71 544.93,1265.31 546.13,1265.87 547.33,1265.96 548.53,1265.39 549.73,1265.83 550.93,1265.36 552.14,1265.43 553.34,1265.27 554.54,1265.54 555.74,1265.27 556.94,1265.75 558.14,1265.65 559.35,1265.52 560.55,1265.76 561.75,1265.38 562.95,1265.45 564.15,1265.48 565.35,1265.19 566.56,1265.9 567.76,1265.26 568.96,1265.27 570.16,1265.83 571.36,1265.85 572.56,1265.55 573.76,1265.53 574.97,1265.31 576.17,1265.2 577.37,1265.61 578.57,1265.39 579.77,1265.32 580.97,1265.92 582.18,1265.21 583.38,1265.49 584.58,1265.8 585.78,1265.8 586.98,1265.28 588.18,1265.79 589.39,1265.65 590.59,1265.7 591.79,1265.95 592.99,1265.84 594.19,1265.68 595.39,1265.82 596.6,1265.59 597.8,1265.64 599,1265.85 600.2,1265.6" fill="none" stroke="#F0383E" stroke-width="3.3" stroke-linejoin="round" stroke-linecap="butt" />
<path d="M329.8,1251 L330.9,1240.5 L332,1251 M320.4,1253 L321.5,1248.5 L322.6,1253 M332.4,1251 L333.5,1247 L334.6,1251 M303.9,1262 L305,1258.5 L306.1,1262 M390.9,1269.5 L392,1266 L393.1,1269.5 " fill="none" stroke="#F0383E" stroke-width="2" stroke-linejoin="round" stroke-linecap="round"/>
<polyline points="94,1341.47 95.2,1342.12 96.4,1342.07 97.6,1342.38 98.8,1341.65 100,1341.63 101.2,1342.16 102.4,1342.07 103.6,1341.68 104.8,1342.1 106,1341.79 107.2,1342.21 108.4,1341.48 109.6,1341.6 110.8,1342.34 112,1341.75 113.2,1341.64 114.4,1342.24 115.6,1342.05 116.8,1341.52 118,1341.96 119.2,1342.08 120.4,1341.54 121.6,1342.07 122.8,1341.49 124,1341.73 125.2,1341.45 126.4,1341.58 127.6,1342.43 128.8,1341.8 130,1342.45 131.2,1341.84 132.4,1342.03 133.6,1342.32 134.8,1342.11 136,1341.48 137.2,1342.01 138.4,1342.06 139.6,1341.56 140.8,1341.46 142,1342.32 143.2,1341.93 144.4,1341.58 145.6,1341.86 146.8,1341.6 148,1342.24 149.2,1341.91 150.4,1341.48 151.6,1342.27 152.8,1341.46 154,1341.68 155.2,1341.4 156.4,1342.18 157.6,1341.49 158.8,1341.95 160,1341.47 161.2,1341.9 162.4,1342.12 163.6,1341.96 164.8,1341.87 166,1341.91 167.2,1341.85 168.4,1342.03 169.6,1341.48 170.8,1341.9 172,1341.63 173.2,1342.33 174.4,1342.41 175.6,1341.45 176.8,1341.53 178,1342.15 179.2,1342.01 180.4,1341.4 181.6,1342.15 182.8,1342.42 184,1341.85 185.2,1341.76 186.4,1342.01 187.6,1342.42 188.8,1341.67 190,1341.72 191.2,1341.59 192.4,1342.08 193.6,1341.9 194.8,1341.67 196,1341.81 197.2,1341.42 198.4,1341.73 199.6,1342.47 200.8,1342.03 202,1341.7 203.2,1342.42 204.4,1341.78 205.6,1341.67 206.8,1341.43 208,1341.55 209.2,1341.61 210.4,1341.64 211.6,1342.35 212.8,1341.68 214,1341.67 215.2,1342.06 216.4,1342.4 217.6,1341.71 218.8,1342.23 220,1341.8 221.2,1342.01 222.4,1342.05 223.6,1342.43 224.8,1342.23 226,1341.95 227.2,1342.32 228.4,1341.8 229.6,1341.82 230.8,1342.45 232,1342 233.2,1342.25 234.4,1341.74 235.6,1342.4 236.8,1342.07 238,1341.67 239.2,1342.42 240.4,1341.91 241.6,1341.77 242.8,1341.69 244,1341.51 245.2,1341.62 246.4,1342.16 247.6,1341.55 248.8,1341.68 250,1341.89 251.2,1342 252.4,1341.82 253.6,1342.26 254.8,1341.68 256,1341.8 257.2,1341.86 258.4,1341.54 259.6,1341.64 260.8,1341.56 262,1342.19 263.2,1341.56 264.4,1342.13 265.6,1341.64 266.8,1342.11 268,1342.12 269.2,1341.78 270.4,1342.42 271.6,1342.12 272.8,1342.01 274,1341.44 275.2,1341.84 276.4,1341.68 277.6,1341.91 278.8,1342.42 280,1342.34 281.2,1341.46 282.4,1342.14 283.6,1342.42 284.8,1341.98 286,1341.49 287.2,1342.34 288.4,1341.85 289.6,1342.46 290.8,1342.34 292,1342.29 293.2,1342.41 294.4,1341.46 295.6,1342.25 296.8,1341.71 298,1341.53 299.2,1341.79 300.4,1342.02 301.6,1341.38 302.8,1341.87 304,1342.23 305.2,1341.92 306.4,1341.95 307.6,1341.69 308.8,1342.44 310,1341.64 311.2,1342.11 312.4,1342.07 313.6,1341.36 314.8,1342.46 316,1341.62 317.2,1342.44 318.4,1342.38 319.6,1342.34 320.8,1342.29 322,1341.79 323.2,1341.84 324.4,1341.73 325.6,1342.37 326.8,1341.37 328,1341.49 329.2,1342.39 330.4,1342.22 331.6,1342.11 332.8,1342.4 334,1341.91 335.2,1342.25 336.4,1341.81 337.6,1342.32 338.8,1341.4 340,1341.8 341.2,1341.95 342.4,1342.19 343.6,1341.78 344.8,1342.06 346,1342.37 347.2,1341.77 348.4,1341.52 349.6,1341.33 350.8,1342.25 352,1341.82 353.2,1341.72 354.4,1341.86 355.6,1341.42 356.8,1341.53 358,1341.54 359.2,1341.56 360.4,1342.22 361.6,1341.54 362.8,1341.37 364,1342.22 365.2,1341.88 366.4,1341.29 367.6,1342 368.8,1342.01 370,1341.96 371.2,1342.1 372.4,1341.71 373.6,1341.49 374.8,1342.05 376,1341.92 377.2,1342 378.4,1341.43 379.6,1341.63 380.8,1341.98 382,1341.64 383.2,1341.87 384.4,1341.73 385.6,1342.03 386.8,1341.58 388,1341.74 389.2,1342.1 390.4,1341.53 391.6,1341.37 392.8,1341.88 394,1341.32 395.2,1342.11 396.4,1341.47 397.6,1342.15 398.8,1341.74 400,1341.32 401.2,1341.72 402.4,1341.88 403.6,1341.65 404.8,1341.79 406,1341.47 407.2,1342.08 408.4,1341.18 409.6,1341.83 410.8,1340.94 412,1341.42 413.2,1340.89 414.4,1340.91 415.6,1341.36 416.8,1341.65 418,1340.94 419.2,1340.99 420.4,1341.02 421.6,1341.1 422.8,1340.76 424,1340.71 425.2,1341.2 426.4,1340.82 427.6,1340.54 428.8,1341 430,1341.15 431.22,1340.47 432.43,1339.96 433.65,1340.23 434.86,1340.82 436.08,1339.97 437.29,1339.94 438.51,1340.53 439.72,1339.72 440.94,1340.47 442.15,1339.72 443.37,1339.84 444.58,1340 445.8,1339.41 447.01,1340.07 448.23,1339.64 449.44,1339.94 450.66,1339.87 451.87,1339.06 453.09,1339.82 454.3,1339.75 455.52,1339.06 456.73,1339.39 457.95,1338.91 459.16,1339.22 460.38,1339.4 461.59,1338.94 462.81,1339.07 464.02,1338.58 465.24,1339.34 466.45,1339.04 467.67,1339.23 468.88,1338.37 470.1,1339.07 471.31,1338.32 472.51,1338.81 473.72,1338.43 474.93,1339.16 476.13,1338.28 477.34,1338.68 478.55,1338.69 479.75,1338.61 480.96,1338.29 482.17,1338.99 483.37,1339.38 484.58,1338.77 485.79,1339.44 486.99,1338.91 488.2,1338.95 489.4,1339.31 490.6,1340.17 491.8,1340.48 493,1341.15 494.5,1341.92 496,1344.3 497.5,1346.47 498.83,1349.7 500.17,1353.96 501.5,1358.22 502.87,1364.3 504.23,1371.48 505.6,1375.11 507.8,1360.47 509.9,1349.26 512,1343.92 513.65,1342.31 515.3,1342.71 516.51,1341.95 517.72,1341.76 518.94,1342.24 520.15,1341.92 521.36,1342.36 522.58,1342.1 523.79,1342.39 525,1341.52 526.21,1342.38 527.43,1341.94 528.64,1342.1 529.85,1341.67 531.06,1341.6 532.28,1341.66 533.49,1341.51 534.7,1342.38 535.92,1341.45 537.13,1341.59 538.34,1342.01 539.55,1341.54 540.77,1341.55 541.98,1341.59 543.19,1341.57 544.41,1341.32 545.62,1342.13 546.83,1342.04 548.05,1341.65 549.26,1342.3 550.47,1341.93 551.68,1341.55 552.9,1342.37 554.11,1341.56 555.32,1342.2 556.54,1342.21 557.75,1341.32 558.96,1342.25 560.17,1341.78 561.39,1341.87 562.6,1342.36 563.81,1341.81 565.03,1341.58 566.24,1341.37 567.45,1342.3 568.66,1341.82 569.88,1342.11 571.09,1342.03 572.3,1342.4 573.52,1342.36 574.73,1342.36 575.94,1341.89 577.15,1342.33 578.37,1341.67 579.58,1341.47 580.79,1342.04 582.01,1341.37 583.22,1342.41 584.43,1341.7 585.65,1341.81 586.86,1341.66 588.07,1341.7 589.28,1341.94 590.5,1342.23 591.71,1341.36 592.92,1341.73 594.14,1341.62 595.35,1342.4 596.56,1341.83 597.77,1341.84 598.99,1342.38 600.2,1341.9" fill="none" stroke="#5a5a5a" stroke-width="3.2" stroke-linejoin="round" stroke-linecap="butt" />
<text x="113.2" y="1387.8" font-size="29.6" font-weight="bold" font-style="normal" fill="#000" text-anchor="start" >Sliding speed: 40 mm&#183;s<tspan font-size="19" dy="-10.5">&#8211;1</tspan></text>
<rect x="94" y="1009" width="506.2" height="407.4" fill="none" stroke="#000" stroke-width="3.2" />
<line x1="85.4" y1="1009" x2="94" y2="1009" stroke="#000" stroke-width="3.2" />
<line x1="85.4" y1="1059.92" x2="94" y2="1059.92" stroke="#000" stroke-width="3.2" />
<line x1="85.4" y1="1110.85" x2="94" y2="1110.85" stroke="#000" stroke-width="3.2" />
<line x1="85.4" y1="1161.78" x2="94" y2="1161.78" stroke="#000" stroke-width="3.2" />
<line x1="85.4" y1="1212.7" x2="94" y2="1212.7" stroke="#000" stroke-width="3.2" />
<line x1="85.4" y1="1263.62" x2="94" y2="1263.62" stroke="#000" stroke-width="3.2" />
<line x1="85.4" y1="1314.55" x2="94" y2="1314.55" stroke="#000" stroke-width="3.2" />
<line x1="85.4" y1="1365.48" x2="94" y2="1365.48" stroke="#000" stroke-width="3.2" />
<line x1="85.4" y1="1416.4" x2="94" y2="1416.4" stroke="#000" stroke-width="3.2" />
<line x1="89.6" y1="1034.46" x2="94" y2="1034.46" stroke="#000" stroke-width="3.2" />
<line x1="89.6" y1="1085.39" x2="94" y2="1085.39" stroke="#000" stroke-width="3.2" />
<line x1="89.6" y1="1136.31" x2="94" y2="1136.31" stroke="#000" stroke-width="3.2" />
<line x1="89.6" y1="1187.24" x2="94" y2="1187.24" stroke="#000" stroke-width="3.2" />
<line x1="89.6" y1="1238.16" x2="94" y2="1238.16" stroke="#000" stroke-width="3.2" />
<line x1="89.6" y1="1289.09" x2="94" y2="1289.09" stroke="#000" stroke-width="3.2" />
<line x1="89.6" y1="1340.01" x2="94" y2="1340.01" stroke="#000" stroke-width="3.2" />
<line x1="89.6" y1="1390.94" x2="94" y2="1390.94" stroke="#000" stroke-width="3.2" />
<text x="73.7" y="1017.6" font-size="26" font-weight="bold" font-style="normal" fill="#000" text-anchor="end" >80</text>
<text x="73.7" y="1068.52" font-size="26" font-weight="bold" font-style="normal" fill="#000" text-anchor="end" >70</text>
<text x="73.7" y="1119.45" font-size="26" font-weight="bold" font-style="normal" fill="#000" text-anchor="end" >60</text>
<text x="73.7" y="1170.38" font-size="26" font-weight="bold" font-style="normal" fill="#000" text-anchor="end" >50</text>
<text x="73.7" y="1221.3" font-size="26" font-weight="bold" font-style="normal" fill="#000" text-anchor="end" >40</text>
<text x="73.7" y="1272.22" font-size="26" font-weight="bold" font-style="normal" fill="#000" text-anchor="end" >30</text>
<text x="73.7" y="1323.15" font-size="26" font-weight="bold" font-style="normal" fill="#000" text-anchor="end" >20</text>
<text x="73.7" y="1374.08" font-size="26" font-weight="bold" font-style="normal" fill="#000" text-anchor="end" >10</text>
<text x="73.7" y="1425" font-size="26" font-weight="bold" font-style="normal" fill="#000" text-anchor="end" >0</text>
<line x1="94" y1="1416.4" x2="94" y2="1424.8" stroke="#000" stroke-width="3.2" />
<line x1="220.55" y1="1416.4" x2="220.55" y2="1424.8" stroke="#000" stroke-width="3.2" />
<line x1="347.1" y1="1416.4" x2="347.1" y2="1424.8" stroke="#000" stroke-width="3.2" />
<line x1="473.65" y1="1416.4" x2="473.65" y2="1424.8" stroke="#000" stroke-width="3.2" />
<line x1="600.2" y1="1416.4" x2="600.2" y2="1424.8" stroke="#000" stroke-width="3.2" />
<line x1="157.28" y1="1416.4" x2="157.28" y2="1420.6" stroke="#000" stroke-width="3.2" />
<line x1="283.83" y1="1416.4" x2="283.83" y2="1420.6" stroke="#000" stroke-width="3.2" />
<line x1="410.38" y1="1416.4" x2="410.38" y2="1420.6" stroke="#000" stroke-width="3.2" />
<line x1="536.93" y1="1416.4" x2="536.93" y2="1420.6" stroke="#000" stroke-width="3.2" />
<text x="94" y="1454.9" font-size="26" font-weight="bold" font-style="normal" fill="#000" text-anchor="middle" >0.0</text>
<text x="220.55" y="1454.9" font-size="26" font-weight="bold" font-style="normal" fill="#000" text-anchor="middle" >0.5</text>
<text x="347.1" y="1454.9" font-size="26" font-weight="bold" font-style="normal" fill="#000" text-anchor="middle" >1.0</text>
<text x="473.65" y="1454.9" font-size="26" font-weight="bold" font-style="normal" fill="#000" text-anchor="middle" >1.5</text>
<text x="600.2" y="1454.9" font-size="26" font-weight="bold" font-style="normal" fill="#000" text-anchor="middle" >2.0</text>
<rect x="396.4" y="1021.6" width="190.4" height="78.5" fill="#fff" stroke="#333" stroke-width="1.1" />
<line x1="400.1" y1="1040" x2="455.5" y2="1040" stroke="#32AD68" stroke-width="3.2" />
<text x="463.5" y="1047.7" font-size="21.8" font-weight="bold" font-style="normal" fill="#000" text-anchor="start" >E<tspan font-size="14.39" dy="6.21">1</tspan></text>
<line x1="495.3" y1="1040" x2="550.7" y2="1040" stroke="#1B6EE0" stroke-width="3.2" />
<text x="558.7" y="1047.7" font-size="21.8" font-weight="bold" font-style="normal" fill="#000" text-anchor="start" >E<tspan font-size="14.39" dy="6.21">2</tspan></text>
<line x1="400.1" y1="1077.4" x2="455.5" y2="1077.4" stroke="#F0383E" stroke-width="3.2" />
<text x="463.5" y="1085.1" font-size="21.8" font-weight="bold" font-style="normal" fill="#000" text-anchor="start" >E<tspan font-size="14.39" dy="6.21">3</tspan></text>
<line x1="495.3" y1="1077.4" x2="550.7" y2="1077.4" stroke="#555555" stroke-width="3.2" />
<text x="558.7" y="1085.1" font-size="21.8" font-weight="bold" font-style="normal" fill="#000" text-anchor="start" >E<tspan font-size="14.39" dy="6.21">4</tspan></text>
<text transform="translate(19.6 1212.4) rotate(-90)" font-size="26" font-weight="bold" fill="#000" text-anchor="middle">Voltage (V)</text>
<text x="346.8" y="1494.2" font-size="26" font-weight="bold" font-style="normal" fill="#000" text-anchor="middle" >Time (s)</text>
</g>
<g id="pf">
<text x="665" y="1007.1" font-size="40" font-weight="bold" font-style="normal" fill="#000" text-anchor="start" >f</text>
<polyline points="774.9,1108.1 776.1,1108.37 777.31,1108.34 778.51,1108.26 779.71,1108.13 780.91,1108.42 782.12,1108.43 783.32,1108.28 784.52,1108.28 785.73,1108.15 786.93,1108.03 788.13,1108.22 789.33,1108.32 790.54,1108.07 791.74,1108.43 792.94,1108.15 794.15,1108.16 795.35,1108.06 796.55,1108.54 797.75,1108.42 798.96,1108.49 800.16,1108.36 801.36,1108.07 802.57,1108.22 803.77,1108.31 804.97,1108.12 806.17,1108.54 807.38,1108.25 808.58,1108.15 809.78,1108.48 810.98,1108.14 812.19,1108.55 813.39,1108.31 814.59,1108.37 815.8,1108.26 817,1108.34 818.2,1108.19 819.4,1108.12 820.61,1108.54 821.81,1108.23 823.01,1108.51 824.22,1108.22 825.42,1108.61 826.62,1108.57 827.82,1108.51 829.03,1108.52 830.23,1108.43 831.43,1108.51 832.64,1108.21 833.84,1108.39 835.04,1108.57 836.24,1108.26 837.45,1108.62 838.65,1108.61 839.85,1108.37 841.06,1108.36 842.26,1108.4 843.46,1108.37 844.66,1108.68 845.87,1108.38 847.07,1108.21 848.27,1108.24 849.48,1108.56 850.68,1108.7 851.88,1108.45 853.08,1108.46 854.29,1108.49 855.49,1108.59 856.69,1108.33 857.9,1108.53 859.1,1108.5 860.3,1108.54 861.5,1108.32 862.71,1108.32 863.91,1108.41 865.11,1108.7 866.31,1108.42 867.52,1108.55 868.72,1108.4 869.92,1108.3 871.13,1108.29 872.33,1108.66 873.53,1108.65 874.73,1108.45 875.94,1108.6 877.14,1108.6 878.34,1108.71 879.55,1108.75 880.75,1108.47 881.95,1108.76 883.15,1108.75 884.36,1108.57 885.56,1108.71 886.76,1108.52 887.97,1108.46 889.17,1108.4 890.37,1108.71 891.57,1108.35 892.78,1108.31 893.98,1108.68 895.18,1108.66 896.39,1108.51 897.59,1108.69 898.79,1108.3 899.99,1108.4 901.2,1108.41 902.4,1108.48 903.6,1108.35 904.81,1108.3 906.01,1108.43 907.21,1108.71 908.41,1108.75 909.62,1108.63 910.82,1108.49 912.02,1108.37 913.23,1108.72 914.43,1108.5 915.63,1108.6 916.83,1108.25 918.04,1108.33 919.24,1108.64 920.44,1108.62 921.64,1108.65 922.85,1108.51 924.05,1108.41 925.25,1108.49 926.46,1108.61 927.66,1108.34 928.86,1108.44 930.06,1108.31 931.27,1108.55 932.47,1108.16 933.67,1108.49 934.88,1108.62 936.08,1108.14 937.28,1108.42 938.48,1108.44 939.69,1108.53 940.89,1108.39 942.09,1108.21 943.3,1108.28 944.5,1108.55 945.7,1108.51 946.9,1108.11 948.11,1108.08 949.31,1108.07 950.52,1108.01 951.72,1108.15 952.93,1107.9 954.13,1108.12 955.34,1107.82 956.54,1107.32 957.75,1107.23 958.95,1106.78 960.16,1106.46 961.36,1105.82 962.57,1105.16 963.78,1104.42 964.98,1103.66 966.19,1102.89 967.39,1101.79 968.6,1100.38 969.8,1099.4 971.01,1098.08 972.21,1096.61 973.42,1095.23 974.62,1093.56 975.83,1092.59 977.04,1091.21 978.24,1090.42 979.45,1089.05 980.65,1088.31 981.86,1087.17 983.21,1086.45 984.57,1085.45 985.93,1084.75 987.28,1084.71 988.85,1084.75 990.42,1085.68 991.98,1087.19 993.43,1090.88 994.88,1097.45 996.5,1109.6 998.13,1122.54 999.4,1132.57 1000.66,1140.82 1002.83,1147.08 1004.28,1145.86 1005.73,1142.53 1006.93,1140.23 1008.14,1137.37 1009.34,1134.34 1010.97,1128.93 1012.6,1124.7 1013.8,1123.09 1015.01,1121.85 1016.21,1120.84 1017.57,1119.6 1018.93,1117.49 1020.28,1115.89 1021.64,1114.57 1022.84,1113.98 1024.05,1113.08 1025.25,1112.14 1026.46,1111.55 1027.66,1110.67 1028.87,1110.51 1030.08,1110.04 1031.28,1109.76 1032.49,1109.43 1033.69,1109.22 1034.9,1108.96 1036.1,1108.72 1037.31,1108.8 1038.51,1108.6 1039.72,1108.74 1040.92,1108.71 1042.13,1108.59 1043.34,1108.4 1044.54,1108.25 1045.75,1108.28 1046.95,1108.31 1048.16,1108.36 1049.36,1108.52 1050.57,1108.07 1051.77,1108.26 1052.98,1108.27 1054.18,1108.38 1055.39,1108.47 1056.6,1108.41 1057.8,1108.33 1059.01,1108.4 1060.21,1108.35 1061.42,1108.44 1062.63,1108.36 1063.83,1108.35 1065.04,1108.12 1066.25,1108.46 1067.45,1108.19 1068.66,1108.3 1069.86,1108.4 1071.07,1108.47 1072.28,1108.47 1073.48,1107.98 1074.69,1108.13 1075.9,1108.13 1077.1,1108.16 1078.31,1108.04 1079.52,1108.24 1080.72,1108 1081.93,1108.1 1083.13,1108.42 1084.34,1108.32 1085.55,1108.17 1086.75,1107.99 1087.96,1108.42 1089.17,1108.29 1090.37,1108.03 1091.58,1108.1 1092.79,1108.25 1093.99,1108.26 1095.2,1108.05 1096.4,1108.39 1097.61,1108.07 1098.82,1108.04 1100.02,1108.33 1101.23,1107.98 1102.44,1108.24 1103.64,1108 1104.85,1108.19 1106.05,1108.03 1107.26,1108.08 1108.47,1108.36 1109.67,1108.12 1110.88,1108.1 1112.09,1108.19 1113.29,1108.01 1114.5,1107.96 1115.71,1108.06 1116.91,1108 1118.12,1107.96 1119.32,1108.34 1120.53,1107.87 1121.74,1108.26 1122.94,1108.32 1124.15,1108.2 1125.36,1107.86 1126.56,1108.09 1127.77,1107.86 1128.98,1108.14 1130.18,1108.19 1131.39,1107.95 1132.59,1107.83 1133.8,1108.1 1135.01,1107.87 1136.21,1107.98 1137.42,1108.05 1138.63,1108.27 1139.83,1108 1141.04,1107.88 1142.25,1108.21 1143.45,1108.22 1144.66,1108.07 1145.86,1107.83 1147.07,1107.9 1148.28,1108 1149.48,1108.07 1150.69,1107.91 1151.9,1108.19 1153.1,1108.21 1154.31,1108.25 1155.51,1108.23 1156.72,1107.79 1157.93,1108.07 1159.13,1107.82 1160.34,1108.23 1161.55,1108.15 1162.75,1108.15 1163.96,1107.86 1165.17,1107.8 1166.37,1108.17 1167.58,1108.07 1168.78,1108.07 1169.99,1108 1171.2,1108.16 1172.4,1107.92 1173.61,1107.89 1174.82,1107.93 1176.02,1107.9 1177.23,1108.06 1178.44,1108.19 1179.64,1107.78 1180.85,1107.78 1182.05,1108 1183.26,1108.08 1184.47,1107.83 1185.67,1107.87 1186.88,1107.76 1188.09,1107.75 1189.29,1107.98 1190.5,1108.07 1191.71,1108.05 1192.91,1107.8 1194.12,1107.78 1195.32,1108.19 1196.53,1107.99 1197.74,1107.92 1198.94,1108.06 1200.15,1108.08 1201.36,1107.98 1202.56,1107.75 1203.77,1108.12 1204.98,1107.82 1206.18,1107.73 1207.39,1107.88 1208.59,1107.97 1209.8,1108.02 1211.01,1107.79 1212.21,1108.06 1213.42,1107.95 1214.63,1107.78 1215.83,1108.12 1217.04,1108.1 1218.24,1108.15 1219.45,1108.03 1220.66,1107.8 1221.86,1108.08 1223.07,1108.14 1224.28,1107.96 1225.48,1108.14 1226.69,1108.17 1227.9,1107.88 1229.1,1108.16 1230.31,1108.15 1231.51,1108.08 1232.72,1107.69 1233.93,1107.86 1235.13,1107.99 1236.34,1107.98 1237.55,1108.06 1238.75,1108 1239.96,1107.76 1241.17,1108.14 1242.37,1107.94 1243.58,1108.11 1244.78,1107.78 1245.99,1108.17 1247.2,1107.95 1248.4,1108.06 1249.61,1108.04 1250.82,1108.11 1252.02,1107.85 1253.23,1107.71 1254.44,1107.87 1255.64,1107.76 1256.85,1107.94 1258.05,1108.07 1259.26,1107.85 1260.47,1107.73 1261.67,1107.68 1262.88,1107.88 1264.09,1107.95 1265.29,1107.68 1266.5,1108 1267.7,1107.77 1268.91,1107.72 1270.12,1108.13 1271.32,1107.92 1272.53,1108.11 1273.74,1107.92 1274.94,1107.72 1276.15,1107.78 1277.36,1107.87 1278.56,1107.98 1279.77,1108.05 1280.97,1108.04 1282.18,1107.99 1283.39,1107.79 1284.59,1107.87 1285.8,1107.91" fill="none" stroke="#32AD68" stroke-width="3.3" stroke-linejoin="round" stroke-linecap="butt" />
<path d="M968.82,1099.23 L969.92,1088.74 L971.02,1099.23 M978.95,1088.74 L980.05,1073.19 L981.15,1088.74 M985.1,1085.13 L986.2,1064.51 L987.3,1085.13 M989.44,1085.85 L990.54,1071.38 L991.64,1085.85 M1010.41,1126.35 L1011.51,1117.67 L1012.61,1126.35 M1016.2,1119.12 L1017.3,1100.68 L1018.4,1119.12 " fill="none" stroke="#32AD68" stroke-width="2" stroke-linejoin="round" stroke-linecap="round"/>
<polyline points="774.9,1187.03 776.1,1185.88 777.31,1185.72 778.51,1187.08 779.71,1185.94 780.92,1185.85 782.12,1186.6 783.32,1186.17 784.53,1186.93 785.73,1186.01 786.93,1187.03 788.14,1186.14 789.34,1186.53 790.54,1187 791.75,1186.65 792.95,1186.99 794.15,1186.69 795.36,1185.76 796.56,1186.93 797.76,1186.52 798.97,1186.14 800.17,1185.97 801.37,1186.89 802.58,1186.52 803.78,1187.02 804.98,1186.79 806.19,1187.06 807.39,1186.51 808.59,1186.69 809.8,1186.57 811,1186.08 812.2,1187.06 813.4,1186.16 814.61,1186.82 815.81,1187.06 817.01,1186.64 818.22,1185.93 819.42,1186.89 820.62,1186.67 821.83,1186 823.03,1185.81 824.23,1186.49 825.44,1185.79 826.64,1187.04 827.84,1186.46 829.05,1186.48 830.25,1186.33 831.45,1186.68 832.66,1187.04 833.86,1186.19 835.06,1186.29 836.27,1186.58 837.47,1186.19 838.67,1186.61 839.88,1186.53 841.08,1186.38 842.28,1186.72 843.49,1186.52 844.69,1185.91 845.89,1187.18 847.1,1186.29 848.3,1186.4 849.5,1186.36 850.71,1187.1 851.91,1187.13 853.11,1186.52 854.32,1186.37 855.52,1185.94 856.72,1187.06 857.93,1186.05 859.13,1186.58 860.33,1186.31 861.54,1186.28 862.74,1186.32 863.94,1186.09 865.15,1185.88 866.35,1186.58 867.55,1186.95 868.76,1186.74 869.96,1186.12 871.16,1186.81 872.37,1185.91 873.57,1186.42 874.77,1187 875.98,1187.14 877.18,1186.49 878.38,1187.04 879.59,1186.55 880.79,1186.59 881.99,1186.68 883.2,1187.25 884.4,1186.9 885.6,1186.52 886.8,1186.88 888.01,1186.77 889.21,1186.36 890.41,1186.97 891.62,1187.02 892.82,1186.72 894.02,1187.19 895.23,1185.9 896.43,1186.58 897.63,1186.77 898.84,1186.35 900.04,1186.12 901.24,1186.85 902.45,1186.49 903.65,1186.26 904.85,1185.94 906.06,1187.24 907.26,1186.38 908.46,1186.05 909.67,1186.19 910.87,1186.24 912.07,1187.1 913.28,1186.14 914.48,1186.27 915.68,1186.02 916.89,1186.54 918.09,1186.18 919.29,1186.37 920.5,1186.91 921.7,1187.18 922.9,1187.05 924.11,1185.94 925.31,1186.41 926.51,1187.07 927.72,1185.93 928.92,1186.16 930.12,1186.56 931.33,1186.41 932.53,1186.93 933.73,1186.88 934.94,1186.52 936.14,1186.22 937.34,1186.19 938.55,1186.24 939.75,1185.96 940.95,1186.8 942.16,1186.08 943.36,1187.1 944.56,1186.76 945.77,1185.93 946.97,1186.55 948.17,1186.69 949.38,1185.9 950.58,1186.52 951.78,1185.88 952.99,1186.91 954.19,1185.84 955.39,1186.71 956.6,1187.2 957.8,1187 959,1186.14 960.2,1186.56 961.41,1186 962.61,1186.28 963.81,1187.01 965.02,1186.94 966.22,1185.8 967.42,1186.31 968.63,1186.67 969.83,1186.02 971.03,1186.89 972.24,1187.01 973.44,1186.53 974.64,1186.25 975.85,1186.93 977.05,1186.45 978.25,1185.99 979.46,1186.11 980.66,1185.94 981.86,1186.88 983.07,1186.41 984.27,1186.67 985.47,1186.83 986.68,1187.03 987.88,1185.89 989.09,1186.12 990.3,1186.68 991.5,1186.42 992.71,1185.77 993.91,1186.01 995.12,1185.21 996.32,1185 997.53,1184.67 998.73,1184.95 999.94,1184.57 1001.23,1184.77 1002.52,1185.22 1003.81,1183.87 1005.11,1184.18 1006.4,1184.27 1007.69,1183.47 1008.98,1182.81 1010.19,1182.53 1011.39,1180.78 1012.6,1181.25 1013.8,1179.89 1015.01,1178.86 1016.21,1177.44 1017.57,1174.38 1018.93,1171.82 1020.28,1169.02 1021.64,1166.14 1023.08,1162.35 1024.53,1157.2 1025.98,1151.54 1027.18,1147.46 1028.39,1143.38 1029.59,1140.58 1030.8,1142.21 1032,1144.91 1033.21,1148.37 1034.78,1154.55 1036.34,1161.36 1037.91,1168.15 1039.27,1173.66 1040.62,1179.7 1041.98,1185.57 1043.34,1190.83 1044.69,1197.19 1046.05,1201.21 1047.4,1205.21 1048.76,1209.27 1050.33,1211.92 1051.89,1214.17 1053.46,1215.08 1054.91,1215.02 1056.35,1214.9 1057.8,1214.47 1059.25,1215.2 1060.69,1216.12 1062.14,1214.06 1063.59,1212.35 1065.03,1210.06 1066.48,1206.14 1067.93,1200.57 1069.37,1196.23 1070.94,1194.92 1072.51,1192.62 1074.07,1191.05 1075.37,1190.18 1076.66,1189.71 1077.95,1189.29 1079.24,1188.62 1080.53,1188.14 1081.82,1189.16 1083.12,1188.64 1084.32,1187.43 1085.53,1187.74 1086.73,1188.02 1087.94,1187.46 1089.14,1186.72 1090.35,1186.98 1091.55,1186.94 1092.76,1187.61 1093.96,1187.07 1095.17,1186.82 1096.38,1187 1097.58,1186.11 1098.79,1186.94 1099.99,1187.06 1101.2,1186.82 1102.4,1186.35 1103.61,1186.21 1104.81,1185.8 1106.02,1185.87 1107.23,1185.96 1108.43,1186.36 1109.64,1186.8 1110.84,1186.01 1112.05,1186.36 1113.25,1186.58 1114.46,1186.57 1115.66,1185.71 1116.87,1186.97 1118.08,1186.5 1119.28,1186.1 1120.49,1186 1121.7,1186.63 1122.9,1186.96 1124.11,1186.13 1125.32,1186.21 1126.52,1186.42 1127.73,1185.88 1128.94,1186.2 1130.14,1186.92 1131.35,1186.41 1132.56,1186.77 1133.76,1185.98 1134.97,1186.83 1136.18,1186.71 1137.38,1185.92 1138.59,1186.34 1139.8,1186.55 1141,1186.39 1142.21,1186.43 1143.42,1185.92 1144.62,1186.36 1145.83,1186.07 1147.04,1186.69 1148.24,1186.09 1149.45,1186.94 1150.66,1186.37 1151.86,1185.88 1153.07,1186.13 1154.28,1185.73 1155.48,1186.58 1156.69,1185.61 1157.9,1186.38 1159.1,1185.97 1160.31,1186.62 1161.52,1185.7 1162.72,1186.48 1163.93,1186.52 1165.14,1185.84 1166.34,1185.69 1167.55,1186.03 1168.76,1186.41 1169.96,1185.87 1171.17,1185.51 1172.38,1186.11 1173.58,1186.62 1174.79,1185.71 1176,1186.8 1177.2,1186.19 1178.41,1185.7 1179.62,1185.61 1180.82,1185.99 1182.03,1186.14 1183.24,1185.71 1184.44,1185.58 1185.65,1186.16 1186.86,1185.81 1188.06,1186.07 1189.27,1186.08 1190.48,1186.42 1191.68,1186.25 1192.89,1185.76 1194.1,1185.69 1195.3,1186.64 1196.51,1185.5 1197.72,1185.6 1198.92,1185.52 1200.13,1186.58 1201.33,1186.18 1202.54,1186.71 1203.75,1186.29 1204.95,1185.88 1206.16,1186.01 1207.37,1186.43 1208.57,1185.73 1209.78,1186.53 1210.99,1185.97 1212.19,1185.46 1213.4,1185.88 1214.61,1186.18 1215.81,1185.6 1217.02,1186.66 1218.23,1186.68 1219.43,1186.1 1220.64,1186.65 1221.85,1186.35 1223.05,1186.13 1224.26,1185.6 1225.47,1186.71 1226.67,1186.66 1227.88,1186 1229.09,1185.91 1230.29,1185.47 1231.5,1186.23 1232.71,1186.56 1233.91,1185.91 1235.12,1185.76 1236.33,1186.22 1237.53,1186.47 1238.74,1185.59 1239.95,1185.75 1241.15,1186.25 1242.36,1185.41 1243.57,1186.49 1244.77,1185.79 1245.98,1186.51 1247.19,1185.98 1248.39,1185.58 1249.6,1185.37 1250.81,1185.5 1252.01,1185.7 1253.22,1186.4 1254.43,1186.45 1255.63,1186.22 1256.84,1185.77 1258.05,1186.26 1259.25,1186.36 1260.46,1185.85 1261.67,1185.45 1262.87,1185.99 1264.08,1185.64 1265.29,1185.59 1266.49,1185.88 1267.7,1185.43 1268.91,1186.58 1270.11,1185.72 1271.32,1186.58 1272.53,1186.36 1273.73,1185.34 1274.94,1186.58 1276.15,1186.46 1277.35,1186.06 1278.56,1186.56 1279.77,1185.99 1280.97,1185.36 1282.18,1185.53 1283.39,1185.76 1284.59,1186.52 1285.8,1186.02" fill="none" stroke="#1B6EE0" stroke-width="3.3" stroke-linejoin="round" stroke-linecap="butt" />
<path d="M1028.49,1140.82 L1029.59,1132.14 L1030.69,1140.82 M1022.35,1162.52 L1023.45,1157.09 L1024.55,1162.52 M1031.39,1147.33 L1032.49,1142.63 L1033.59,1147.33 M1068.27,1195.79 L1069.37,1190 L1070.47,1195.79 M1072.97,1191.45 L1074.07,1187.11 L1075.17,1191.45 " fill="none" stroke="#1B6EE0" stroke-width="2" stroke-linejoin="round" stroke-linecap="round"/>
<polyline points="774.9,1265.52 776.1,1265.54 777.31,1265.5 778.51,1264.93 779.71,1265.29 780.92,1265.17 782.12,1265.24 783.33,1264.96 784.53,1265.01 785.73,1265.18 786.94,1265.03 788.14,1265.19 789.34,1264.89 790.55,1264.93 791.75,1265.37 792.96,1265.17 794.16,1265.23 795.36,1265.39 796.57,1265.12 797.77,1264.91 798.97,1265.42 800.18,1265.29 801.38,1265.33 802.59,1265.31 803.79,1265.55 804.99,1265.13 806.2,1265.41 807.4,1265.13 808.6,1265.28 809.81,1265.34 811.01,1265.1 812.22,1264.94 813.42,1265.21 814.62,1265.38 815.83,1265.29 817.03,1265.19 818.23,1265.33 819.44,1265 820.64,1265 821.85,1265.1 823.05,1265.45 824.25,1265.01 825.46,1264.96 826.66,1264.95 827.86,1264.9 829.07,1265.07 830.27,1265.28 831.48,1265.45 832.68,1265.11 833.88,1265.14 835.09,1265.08 836.29,1265.09 837.49,1265.42 838.7,1265.26 839.9,1265.06 841.1,1264.95 842.31,1265.43 843.51,1265.37 844.72,1265.46 845.92,1265.04 847.12,1265.26 848.33,1265.52 849.53,1265.29 850.73,1265.54 851.94,1265 853.14,1265.56 854.35,1264.92 855.55,1265.17 856.75,1264.89 857.96,1265.44 859.16,1265.36 860.36,1265.56 861.57,1265.44 862.77,1265.54 863.98,1265.25 865.18,1265.57 866.38,1265.4 867.59,1265.12 868.79,1265.56 869.99,1265.14 871.2,1265.01 872.4,1264.93 873.61,1265.2 874.81,1265.01 876.01,1265.53 877.22,1265.54 878.42,1265.03 879.62,1264.95 880.83,1265.24 882.03,1264.99 883.24,1265.25 884.44,1265.44 885.64,1265.05 886.85,1265.17 888.05,1265.5 889.25,1265.18 890.46,1265.11 891.66,1265.49 892.86,1265.44 894.07,1265.49 895.27,1265.35 896.48,1265.15 897.68,1265.35 898.88,1265.45 900.09,1265.31 901.29,1265.03 902.49,1265.07 903.7,1265.15 904.9,1265.4 906.11,1265.25 907.31,1265.24 908.51,1265.44 909.72,1264.93 910.92,1265.3 912.12,1265.09 913.33,1265.24 914.53,1265.44 915.74,1265.02 916.94,1265.52 918.14,1264.9 919.35,1265.24 920.55,1265.23 921.75,1265.01 922.96,1265.24 924.16,1265.17 925.37,1265.16 926.57,1265.34 927.77,1264.84 928.98,1265.1 930.18,1265.38 931.38,1264.93 932.59,1265.44 933.79,1264.97 935,1265.31 936.2,1264.95 937.4,1265.14 938.61,1265.12 939.81,1264.88 941.01,1265.31 942.22,1265.15 943.42,1265.3 944.63,1265.19 945.83,1265.2 947.03,1265.18 948.24,1265.02 949.44,1265.43 950.64,1264.86 951.85,1265.42 953.05,1265.4 954.25,1265.15 955.46,1265.34 956.66,1265.26 957.87,1265.21 959.07,1264.99 960.27,1265.01 961.48,1265.03 962.68,1264.99 963.88,1265.45 965.09,1265.01 966.29,1265.04 967.5,1265.06 968.7,1265.34 969.9,1265.1 971.11,1265.15 972.31,1264.94 973.51,1264.95 974.72,1264.81 975.92,1264.9 977.13,1264.93 978.33,1265.34 979.53,1265.09 980.74,1264.81 981.94,1265.06 983.14,1264.81 984.35,1265.12 985.55,1265.03 986.76,1265.32 987.96,1264.9 989.16,1265.31 990.37,1264.88 991.57,1265.39 992.77,1265.14 993.98,1264.73 995.18,1265.26 996.39,1264.88 997.59,1264.94 998.79,1264.78 1000,1265.26 1001.2,1264.74 1002.4,1265.19 1003.61,1264.94 1004.81,1265.14 1006.02,1264.86 1007.22,1264.71 1008.42,1265.29 1009.63,1265.1 1010.83,1264.76 1012.03,1265.32 1013.24,1265.27 1014.44,1264.75 1015.64,1264.63 1016.85,1265.04 1018.05,1264.71 1019.26,1265.12 1020.46,1264.93 1021.66,1265.09 1022.87,1264.99 1024.07,1265.12 1025.27,1265.15 1026.48,1265 1027.68,1264.98 1028.89,1264.79 1030.09,1264.65 1031.29,1264.62 1032.5,1265.15 1033.7,1264.68 1034.9,1264.83 1036.11,1264.75 1037.31,1264.96 1038.52,1264.89 1039.72,1265.11 1040.92,1264.81 1042.13,1264.74 1043.34,1264.93 1044.54,1264.98 1045.75,1265.08 1046.95,1264.62 1048.16,1264.99 1049.36,1265.01 1050.57,1264.96 1051.77,1264.31 1052.98,1264.42 1054.18,1264.62 1055.39,1264.58 1056.6,1263.93 1057.8,1264.08 1059.01,1264.19 1060.21,1264.09 1061.42,1263.8 1062.71,1263.41 1064,1263.35 1065.29,1262.85 1066.58,1262.7 1067.88,1262.37 1069.17,1262.12 1070.46,1261.31 1071.66,1260.42 1072.87,1259.36 1074.07,1258.34 1075.28,1257.41 1076.49,1255.99 1077.69,1254.51 1079.05,1253.3 1080.4,1251.23 1081.76,1249.57 1083.12,1247.53 1084.47,1245.9 1085.83,1244.07 1087.18,1242.84 1088.54,1242.37 1090.11,1242.6 1091.67,1243.55 1093.24,1245.64 1094.69,1248.82 1096.13,1253.88 1097.58,1258.27 1099.03,1262.77 1100.47,1267.24 1101.92,1272.49 1103.25,1278.49 1104.57,1285.21 1105.9,1291.07 1107.35,1297.1 1108.79,1301.87 1110.6,1302.31 1112.77,1297.9 1113.98,1293.56 1115.18,1287.94 1116.39,1283.73 1117.95,1278.93 1119.52,1274.87 1121.09,1271.47 1122.44,1269.6 1123.8,1268.65 1125.16,1267.64 1126.51,1267.49 1127.72,1266.94 1128.92,1266.9 1130.13,1266.78 1131.33,1266.52 1132.54,1266.34 1133.75,1266.01 1134.95,1266.05 1136.16,1266.44 1137.36,1265.9 1138.57,1265.88 1139.77,1265.99 1140.98,1265.98 1142.18,1266.1 1143.39,1265.7 1144.59,1266.13 1145.8,1265.44 1147.01,1265.94 1148.21,1265.76 1149.42,1265.97 1150.62,1265.43 1151.83,1265.79 1153.03,1265.96 1154.24,1265.75 1155.44,1265.35 1156.65,1265.91 1157.85,1265.94 1159.06,1265.33 1160.27,1265.83 1161.47,1265.31 1162.68,1265.3 1163.88,1265.8 1165.09,1265.74 1166.29,1265.9 1167.5,1265.67 1168.71,1265.58 1169.91,1265.41 1171.12,1265.61 1172.33,1265.9 1173.54,1265.65 1174.74,1265.8 1175.95,1265.32 1177.16,1265.69 1178.36,1265.69 1179.57,1265.22 1180.78,1265.74 1181.99,1265.28 1183.19,1265.3 1184.4,1265.19 1185.61,1265.6 1186.81,1265.23 1188.02,1265.81 1189.23,1265.12 1190.44,1265.69 1191.64,1265.64 1192.85,1265.51 1194.06,1265.5 1195.26,1265.66 1196.47,1265.54 1197.68,1265.18 1198.89,1265.64 1200.09,1265.32 1201.3,1265.48 1202.51,1265.43 1203.71,1265.69 1204.92,1265.35 1206.13,1265.65 1207.34,1265.1 1208.54,1265.27 1209.75,1265.51 1210.96,1265.46 1212.16,1265.61 1213.37,1265.17 1214.58,1265.58 1215.79,1265.57 1216.99,1265.11 1218.2,1265.1 1219.41,1265.41 1220.61,1265.68 1221.82,1265.42 1223.03,1265.29 1224.24,1265.34 1225.44,1265.55 1226.65,1265.34 1227.86,1265.35 1229.06,1265.38 1230.27,1265.62 1231.48,1265.52 1232.69,1265.54 1233.89,1265.14 1235.1,1265.37 1236.31,1265.52 1237.51,1265.45 1238.72,1265.61 1239.93,1265.58 1241.14,1265.02 1242.34,1265.29 1243.55,1265.18 1244.76,1265.07 1245.96,1265.27 1247.17,1265.61 1248.38,1265.45 1249.59,1264.98 1250.79,1265.08 1252,1265.17 1253.21,1265.53 1254.41,1265.23 1255.62,1265.01 1256.83,1265.28 1258.04,1265.07 1259.24,1264.92 1260.45,1265.31 1261.66,1265.58 1262.86,1265.43 1264.07,1265.4 1265.28,1264.99 1266.49,1265.28 1267.69,1265.33 1268.9,1265.41 1270.11,1265.19 1271.31,1264.92 1272.52,1265.53 1273.73,1265.06 1274.94,1265.39 1276.14,1265.2 1277.35,1265.42 1278.56,1265.11 1279.76,1264.94 1280.97,1265.17 1282.18,1265.21 1283.39,1265.43 1284.59,1265.15 1285.8,1265.22" fill="none" stroke="#F0383E" stroke-width="3.3" stroke-linejoin="round" stroke-linecap="butt" />
<path d="M1087.44,1242.8 L1088.54,1233.4 L1089.64,1242.8 M1077.31,1254.73 L1078.41,1246.78 L1079.51,1254.73 M1082.02,1248.23 L1083.12,1240.27 L1084.22,1248.23 M1091.42,1245.69 L1092.52,1240.99 L1093.62,1245.69 M1124.69,1268.12 L1125.79,1264.5 L1126.89,1268.12 " fill="none" stroke="#F0383E" stroke-width="2" stroke-linejoin="round" stroke-linecap="round"/>
<polyline points="774.9,1342.12 776.1,1342.26 777.31,1341.54 778.51,1342.44 779.72,1341.55 780.92,1342.08 782.12,1341.44 783.33,1342.17 784.53,1341.51 785.74,1342.12 786.94,1342.14 788.14,1342.18 789.35,1341.83 790.55,1342.29 791.76,1342.43 792.96,1341.47 794.16,1341.91 795.37,1342.4 796.57,1342.15 797.78,1341.83 798.98,1341.68 800.18,1342.39 801.39,1341.44 802.59,1342.18 803.8,1342.27 805,1341.52 806.2,1341.7 807.41,1341.68 808.61,1341.94 809.82,1341.75 811.02,1342.33 812.22,1342.36 813.43,1341.69 814.63,1342.33 815.84,1341.42 817.04,1341.45 818.24,1342.08 819.45,1342.23 820.65,1342.25 821.86,1342.44 823.06,1342.3 824.26,1341.64 825.47,1342.17 826.67,1342.37 827.88,1341.45 829.08,1341.9 830.28,1341.52 831.49,1341.51 832.69,1341.88 833.9,1342.09 835.1,1342.43 836.3,1341.5 837.51,1341.91 838.71,1342.45 839.92,1342.2 841.12,1341.94 842.33,1341.62 843.53,1342.05 844.73,1341.65 845.94,1342.07 847.14,1342.07 848.35,1341.79 849.55,1342.24 850.75,1341.81 851.96,1341.88 853.16,1342.28 854.37,1341.64 855.57,1341.57 856.77,1342 857.98,1341.84 859.18,1342.33 860.39,1341.64 861.59,1341.77 862.79,1341.43 864,1341.86 865.2,1341.71 866.41,1341.86 867.61,1342.21 868.81,1341.41 870.02,1342.46 871.22,1342.15 872.43,1342.26 873.63,1341.96 874.83,1342 876.04,1341.82 877.24,1341.81 878.45,1341.61 879.65,1341.71 880.85,1341.7 882.06,1341.74 883.26,1342.37 884.47,1342.25 885.67,1342.08 886.87,1341.39 888.08,1341.66 889.28,1341.97 890.49,1342.14 891.69,1341.84 892.89,1342.07 894.1,1342.37 895.3,1341.67 896.51,1341.8 897.71,1342.21 898.91,1341.73 900.12,1342.17 901.32,1341.81 902.53,1341.4 903.73,1341.89 904.93,1341.45 906.14,1342.24 907.34,1342.31 908.55,1341.96 909.75,1342.37 910.95,1341.61 912.16,1341.87 913.36,1341.57 914.57,1341.43 915.77,1342.28 916.97,1341.43 918.18,1342.4 919.38,1341.99 920.59,1342.15 921.79,1341.43 922.99,1342.37 924.2,1342.25 925.4,1341.49 926.61,1341.58 927.81,1341.53 929.01,1341.93 930.22,1341.46 931.42,1342.25 932.63,1341.92 933.83,1342.15 935.03,1341.65 936.24,1342.09 937.44,1341.87 938.65,1342.08 939.85,1341.82 941.05,1342.46 942.26,1342.3 943.46,1342.28 944.67,1341.74 945.87,1341.58 947.07,1341.54 948.28,1341.51 949.48,1342.43 950.69,1341.67 951.89,1342.32 953.09,1341.62 954.3,1342.04 955.5,1341.63 956.71,1341.7 957.91,1342.18 959.11,1342.03 960.32,1342.4 961.52,1341.62 962.73,1341.65 963.93,1341.42 965.13,1341.59 966.34,1342.43 967.54,1341.97 968.75,1341.87 969.95,1341.72 971.16,1342.18 972.36,1342.1 973.56,1341.51 974.77,1341.39 975.97,1341.53 977.18,1342.24 978.38,1342.14 979.58,1341.59 980.79,1341.59 981.99,1341.67 983.2,1342.08 984.4,1342.15 985.6,1341.59 986.81,1341.69 988.01,1341.59 989.22,1342.36 990.42,1341.93 991.62,1342.35 992.83,1341.58 994.03,1342.01 995.24,1341.94 996.44,1342.34 997.64,1341.71 998.85,1341.56 1000.05,1342.2 1001.26,1342.35 1002.46,1341.86 1003.66,1341.66 1004.87,1341.39 1006.07,1341.78 1007.28,1342.31 1008.48,1341.68 1009.68,1341.78 1010.89,1341.9 1012.09,1341.54 1013.3,1341.4 1014.5,1341.84 1015.7,1342.34 1016.91,1342.23 1018.11,1341.6 1019.32,1342.13 1020.52,1342.17 1021.72,1341.9 1022.93,1341.65 1024.13,1341.47 1025.34,1342.02 1026.54,1342 1027.74,1341.48 1028.95,1341.39 1030.15,1341.36 1031.36,1342.14 1032.56,1342.2 1033.76,1341.79 1034.97,1341.89 1036.17,1341.99 1037.38,1341.39 1038.58,1341.78 1039.78,1341.7 1040.99,1342.16 1042.19,1341.38 1043.4,1342.13 1044.6,1341.35 1045.8,1341.86 1047.01,1342.16 1048.21,1341.26 1049.42,1341.71 1050.62,1341.17 1051.82,1341.73 1053.03,1341.69 1054.23,1342.21 1055.44,1341.69 1056.64,1342.15 1057.84,1341.94 1059.05,1342.06 1060.25,1341.52 1061.46,1341.23 1062.66,1341.83 1063.86,1341.24 1065.07,1341.8 1066.27,1341.31 1067.48,1341.77 1068.68,1341.94 1069.88,1342.15 1071.09,1341.31 1072.29,1341.28 1073.5,1341.54 1074.7,1342.14 1075.9,1341.35 1077.11,1341.58 1078.31,1341.48 1079.52,1341.12 1080.72,1341.64 1081.92,1341.38 1083.13,1341.55 1084.33,1341.84 1085.54,1341.76 1086.74,1341.28 1087.94,1341.72 1089.15,1341.59 1090.35,1341.84 1091.56,1340.99 1092.76,1341.29 1093.96,1341.72 1095.17,1341.58 1096.38,1341.49 1097.58,1341.47 1098.79,1341.51 1099.99,1341.57 1101.2,1341.59 1102.4,1341.43 1103.61,1341.47 1104.81,1340.99 1106.02,1340.42 1107.23,1340.51 1108.43,1340.92 1109.64,1340.68 1110.84,1340.36 1112.05,1339.67 1113.25,1339.52 1114.46,1339.82 1115.66,1339.27 1116.87,1338.71 1118.07,1339.26 1119.28,1338.16 1120.49,1338.67 1121.69,1338.15 1122.9,1338.41 1124.1,1338.21 1125.31,1337.67 1126.51,1337.86 1127.72,1338.76 1128.92,1338.5 1130.13,1338.78 1131.33,1339.2 1132.54,1339.12 1133.75,1339.24 1135.01,1338.91 1136.28,1338.49 1137.54,1338.77 1138.81,1337.88 1140.07,1338.27 1141.34,1338.06 1142.61,1337.03 1143.87,1336.55 1145.14,1337.24 1146.4,1336.12 1147.61,1336.2 1148.81,1335.62 1150.02,1335.12 1151.22,1334.91 1152.43,1334.35 1153.64,1334.83 1154.84,1334.35 1156.05,1333.95 1157.25,1332.82 1158.58,1332.01 1159.9,1330.6 1161.23,1331.42 1163.4,1338.43 1164.67,1349.38 1165.93,1361.8 1167.2,1372.68 1168.46,1383.11 1169.91,1392.82 1171.36,1378.99 1173.53,1354.32 1174.97,1347.7 1176.42,1344.59 1177.86,1342.47 1179.31,1342.27 1180.76,1342.67 1181.96,1341.92 1183.17,1342.34 1184.37,1342.13 1185.58,1341.89 1186.79,1341.8 1187.99,1341.52 1189.2,1341.48 1190.4,1341.64 1191.61,1342.39 1192.81,1342.2 1194.02,1341.31 1195.22,1342.14 1196.43,1341.47 1197.63,1341.96 1198.84,1342.35 1200.05,1342.33 1201.25,1342.32 1202.46,1342.43 1203.66,1342.03 1204.87,1341.37 1206.08,1341.61 1207.29,1342.06 1208.5,1341.98 1209.7,1342.32 1210.91,1341.5 1212.12,1342.29 1213.33,1341.95 1214.54,1341.96 1215.74,1341.44 1216.95,1341.7 1218.16,1341.87 1219.37,1342.13 1220.57,1342.05 1221.78,1342.01 1222.99,1342.08 1224.2,1341.69 1225.41,1341.67 1226.61,1342.37 1227.82,1342.03 1229.03,1341.91 1230.24,1342.36 1231.45,1342.25 1232.65,1342.09 1233.86,1342.37 1235.07,1341.72 1236.28,1342.32 1237.48,1341.93 1238.69,1341.77 1239.9,1341.74 1241.11,1341.35 1242.32,1342.28 1243.52,1342.37 1244.73,1341.72 1245.94,1342.35 1247.15,1341.45 1248.36,1341.82 1249.56,1342.4 1250.77,1342.01 1251.98,1341.48 1253.19,1342.01 1254.4,1341.34 1255.6,1342.11 1256.81,1341.96 1258.02,1342.03 1259.23,1342.06 1260.43,1341.43 1261.64,1342.29 1262.85,1342.16 1264.06,1342.31 1265.27,1341.58 1266.47,1341.58 1267.68,1342.12 1268.89,1342.34 1270.1,1341.96 1271.31,1341.6 1272.51,1341.82 1273.72,1341.6 1274.93,1341.87 1276.14,1342.39 1277.34,1342.08 1278.55,1341.56 1279.76,1342.35 1280.97,1342.3 1282.18,1341.78 1283.38,1341.34 1284.59,1342.07 1285.8,1341.89" fill="none" stroke="#5a5a5a" stroke-width="3.2" stroke-linejoin="round" stroke-linecap="butt" />
<text x="796.6" y="1387.8" font-size="29.6" font-weight="bold" font-style="normal" fill="#000" text-anchor="start" >Sliding speed: 65 mm&#183;s<tspan font-size="19" dy="-10.5">&#8211;1</tspan></text>
<rect x="774.9" y="1006.1" width="510.9" height="411.6" fill="none" stroke="#000" stroke-width="3.2" />
<line x1="766.3" y1="1006.1" x2="774.9" y2="1006.1" stroke="#000" stroke-width="3.2" />
<line x1="766.3" y1="1057.55" x2="774.9" y2="1057.55" stroke="#000" stroke-width="3.2" />
<line x1="766.3" y1="1109" x2="774.9" y2="1109" stroke="#000" stroke-width="3.2" />
<line x1="766.3" y1="1160.45" x2="774.9" y2="1160.45" stroke="#000" stroke-width="3.2" />
<line x1="766.3" y1="1211.9" x2="774.9" y2="1211.9" stroke="#000" stroke-width="3.2" />
<line x1="766.3" y1="1263.35" x2="774.9" y2="1263.35" stroke="#000" stroke-width="3.2" />
<line x1="766.3" y1="1314.8" x2="774.9" y2="1314.8" stroke="#000" stroke-width="3.2" />
<line x1="766.3" y1="1366.25" x2="774.9" y2="1366.25" stroke="#000" stroke-width="3.2" />
<line x1="766.3" y1="1417.7" x2="774.9" y2="1417.7" stroke="#000" stroke-width="3.2" />
<line x1="770.5" y1="1031.83" x2="774.9" y2="1031.83" stroke="#000" stroke-width="3.2" />
<line x1="770.5" y1="1083.28" x2="774.9" y2="1083.28" stroke="#000" stroke-width="3.2" />
<line x1="770.5" y1="1134.72" x2="774.9" y2="1134.72" stroke="#000" stroke-width="3.2" />
<line x1="770.5" y1="1186.17" x2="774.9" y2="1186.17" stroke="#000" stroke-width="3.2" />
<line x1="770.5" y1="1237.62" x2="774.9" y2="1237.62" stroke="#000" stroke-width="3.2" />
<line x1="770.5" y1="1289.08" x2="774.9" y2="1289.08" stroke="#000" stroke-width="3.2" />
<line x1="770.5" y1="1340.53" x2="774.9" y2="1340.53" stroke="#000" stroke-width="3.2" />
<line x1="770.5" y1="1391.98" x2="774.9" y2="1391.98" stroke="#000" stroke-width="3.2" />
<text x="754.6" y="1014.7" font-size="26" font-weight="bold" font-style="normal" fill="#000" text-anchor="end" >80</text>
<text x="754.6" y="1066.15" font-size="26" font-weight="bold" font-style="normal" fill="#000" text-anchor="end" >70</text>
<text x="754.6" y="1117.6" font-size="26" font-weight="bold" font-style="normal" fill="#000" text-anchor="end" >60</text>
<text x="754.6" y="1169.05" font-size="26" font-weight="bold" font-style="normal" fill="#000" text-anchor="end" >50</text>
<text x="754.6" y="1220.5" font-size="26" font-weight="bold" font-style="normal" fill="#000" text-anchor="end" >40</text>
<text x="754.6" y="1271.95" font-size="26" font-weight="bold" font-style="normal" fill="#000" text-anchor="end" >30</text>
<text x="754.6" y="1323.4" font-size="26" font-weight="bold" font-style="normal" fill="#000" text-anchor="end" >20</text>
<text x="754.6" y="1374.85" font-size="26" font-weight="bold" font-style="normal" fill="#000" text-anchor="end" >10</text>
<text x="754.6" y="1426.3" font-size="26" font-weight="bold" font-style="normal" fill="#000" text-anchor="end" >0</text>
<line x1="774.9" y1="1417.7" x2="774.9" y2="1426.1" stroke="#000" stroke-width="3.2" />
<line x1="902.62" y1="1417.7" x2="902.62" y2="1426.1" stroke="#000" stroke-width="3.2" />
<line x1="1030.35" y1="1417.7" x2="1030.35" y2="1426.1" stroke="#000" stroke-width="3.2" />
<line x1="1158.07" y1="1417.7" x2="1158.07" y2="1426.1" stroke="#000" stroke-width="3.2" />
<line x1="1285.8" y1="1417.7" x2="1285.8" y2="1426.1" stroke="#000" stroke-width="3.2" />
<line x1="838.76" y1="1417.7" x2="838.76" y2="1421.9" stroke="#000" stroke-width="3.2" />
<line x1="966.49" y1="1417.7" x2="966.49" y2="1421.9" stroke="#000" stroke-width="3.2" />
<line x1="1094.21" y1="1417.7" x2="1094.21" y2="1421.9" stroke="#000" stroke-width="3.2" />
<line x1="1221.94" y1="1417.7" x2="1221.94" y2="1421.9" stroke="#000" stroke-width="3.2" />
<text x="774.9" y="1456.3" font-size="26" font-weight="bold" font-style="normal" fill="#000" text-anchor="middle" >0.0</text>
<text x="902.62" y="1456.3" font-size="26" font-weight="bold" font-style="normal" fill="#000" text-anchor="middle" >0.5</text>
<text x="1030.35" y="1456.3" font-size="26" font-weight="bold" font-style="normal" fill="#000" text-anchor="middle" >1.0</text>
<text x="1158.07" y="1456.3" font-size="26" font-weight="bold" font-style="normal" fill="#000" text-anchor="middle" >1.5</text>
<text x="1285.8" y="1456.3" font-size="26" font-weight="bold" font-style="normal" fill="#000" text-anchor="middle" >2.0</text>
<rect x="1085.5" y="1018.4" width="190.5" height="78" fill="#fff" stroke="#333" stroke-width="1.1" />
<line x1="1089.2" y1="1036.1" x2="1144.6" y2="1036.1" stroke="#32AD68" stroke-width="3.2" />
<text x="1152.6" y="1043.8" font-size="21.8" font-weight="bold" font-style="normal" fill="#000" text-anchor="start" >E<tspan font-size="14.39" dy="6.21">1</tspan></text>
<line x1="1184.4" y1="1036.1" x2="1239.8" y2="1036.1" stroke="#1B6EE0" stroke-width="3.2" />
<text x="1247.8" y="1043.8" font-size="21.8" font-weight="bold" font-style="normal" fill="#000" text-anchor="start" >E<tspan font-size="14.39" dy="6.21">2</tspan></text>
<line x1="1089.2" y1="1073.5" x2="1144.6" y2="1073.5" stroke="#F0383E" stroke-width="3.2" />
<text x="1152.6" y="1081.2" font-size="21.8" font-weight="bold" font-style="normal" fill="#000" text-anchor="start" >E<tspan font-size="14.39" dy="6.21">3</tspan></text>
<line x1="1184.4" y1="1073.5" x2="1239.8" y2="1073.5" stroke="#555555" stroke-width="3.2" />
<text x="1247.8" y="1081.2" font-size="21.8" font-weight="bold" font-style="normal" fill="#000" text-anchor="start" >E<tspan font-size="14.39" dy="6.21">4</tspan></text>
<text transform="translate(701.3 1211) rotate(-90)" font-size="26" font-weight="bold" fill="#000" text-anchor="middle">Voltage (V)</text>
<text x="1030.3" y="1495.4" font-size="26" font-weight="bold" font-style="normal" fill="#000" text-anchor="middle" >Time (s)</text>
</g>
<g id="pg">
<text x="1348.7" y="1007.1" font-size="40" font-weight="bold" font-style="normal" fill="#000" text-anchor="start" >g</text>
<polyline points="1457.6,1266.7 1459.6,1266.5 1461.6,1266.54 1463.6,1266.66 1465.6,1266.77 1467.6,1266.56 1469.6,1266.54 1471.6,1266.59 1473.6,1266.8 1475.6,1266.56 1477.6,1266.8 1479.6,1266.76 1481.6,1266.55 1483.6,1266.71 1485.6,1266.68 1487.6,1266.67 1489.6,1266.9 1491.6,1266.54 1493.6,1266.51 1495.6,1266.88 1497.6,1266.66 1499.6,1266.58 1501.6,1266.63 1503.6,1266.65 1505.6,1266.88 1507.6,1266.58 1509.6,1266.59 1511.6,1266.73 1513.6,1266.72 1515.6,1266.88 1517.6,1266.84 1519.6,1266.64 1521.6,1266.58 1523.6,1266.83 1525.6,1266.9 1527.6,1266.51 1529.6,1266.79 1531.6,1266.85 1533.6,1266.76 1535.6,1266.59 1537.6,1266.82 1539.6,1266.79 1541.6,1266.58 1543.6,1266.76 1545.6,1266.59 1547.6,1266.52 1549.6,1266.63 1551.6,1266.63 1553.6,1266.66 1555.6,1266.76 1557.6,1266.83 1559.6,1266.88 1561.6,1266.89 1563.6,1266.9 1565.6,1266.82 1567.6,1266.62 1569.6,1266.57 1571.6,1266.75 1573.6,1266.72 1575.6,1266.77 1577.6,1266.54 1579.6,1266.58 1581.6,1266.87 1583.6,1266.74 1585.6,1266.78 1587.6,1266.54 1589.6,1266.66 1591.6,1266.86 1593.6,1266.76 1595.6,1266.9 1597.6,1266.58 1599.6,1266.68 1601.6,1266.82 1603.6,1266.68 1605.6,1266.82 1607.6,1266.72 1609.6,1266.55 1611.6,1266.54 1613.6,1266.89 1615.6,1266.55 1617.6,1266.58 1619.6,1266.63 1621.6,1266.79 1623.6,1266.84 1625.6,1266.69 1627.6,1266.7 1629.6,1266.82 1631.6,1266.61 1633.6,1266.65 1635.6,1266.75 1637.6,1266.75 1639.6,1266.52 1641.6,1266.54 1643.6,1266.56 1645.6,1266.79 1647.6,1266.78 1649.6,1266.89 1651.6,1266.81 1653.6,1266.6 1655.6,1266.81 1657.6,1266.89 1659.6,1266.64 1661.6,1266.5 1663.6,1266.65 1665.6,1266.61 1667.6,1266.57 1669.6,1266.52 1671.6,1266.55 1673.6,1266.85 1675.6,1266.52 1677.6,1266.75 1679.6,1266.58 1681.6,1266.58 1683.6,1266.83 1685.6,1266.62 1687.6,1266.57 1689.6,1266.68 1691.6,1266.78 1693.6,1266.71 1695.6,1266.84 1697.6,1266.66 1699.6,1266.71 1701.6,1266.79 1703.6,1266.68 1705.6,1266.79 1707.6,1266.69 1709.6,1266.55 1711.6,1266.55 1713.6,1266.81 1715.6,1266.8 1717.6,1266.88 1719.6,1266.78 1721.6,1266.73 1723.6,1266.57 1725.6,1266.84 1727.6,1266.55 1729.6,1266.67 1731.6,1266.56 1732.6,1266.7" fill="none" stroke="#F0383E" stroke-width="3.2" stroke-linejoin="round"/>
<path d="M1498.4,1266.7 C1500.27,1266.7 1500.8,1264.35 1501.1,1259.98 L1501.6,1249.9 L1502,1249.9 L1502.5,1259.98 C1502.8,1264.35 1503.33,1266.7 1505.2,1266.7 M1510.1,1266.7 C1511.97,1266.7 1512.5,1264.68 1512.8,1260.94 L1513.3,1252.3 L1513.7,1252.3 L1514.2,1260.94 C1514.5,1264.68 1515.03,1266.7 1516.9,1266.7 M1522.3,1266.7 C1524.17,1266.7 1524.7,1263.58 1525,1257.78 L1525.5,1244.4 L1525.9,1244.4 L1526.4,1257.78 C1526.7,1263.58 1527.23,1266.7 1529.1,1266.7 M1535.3,1266.7 C1537.17,1266.7 1537.7,1263.55 1538,1257.7 L1538.5,1235.6 L1538.9,1235.6 L1539.4,1257.7 C1539.7,1263.55 1540.23,1266.7 1542.1,1266.7 M1593.3,1266.7 C1595.17,1266.7 1595.7,1263.55 1596,1257.7 L1596.5,1232.9 L1596.9,1232.9 L1597.4,1257.7 C1597.7,1263.55 1598.23,1266.7 1600.1,1266.7 M1604.5,1266.7 C1606.37,1266.7 1606.9,1263.55 1607.2,1257.7 L1607.7,1234.8 L1608.1,1234.8 L1608.6,1257.7 C1608.9,1263.55 1609.43,1266.7 1611.3,1266.7 M1616.6,1266.7 C1618.47,1266.7 1619,1263.55 1619.3,1257.7 L1619.8,1229.5 L1620.2,1229.5 L1620.7,1257.7 C1621,1263.55 1621.53,1266.7 1623.4,1266.7 M1628,1266.7 C1629.87,1266.7 1630.4,1263.55 1630.7,1257.7 L1631.2,1228.4 L1631.6,1228.4 L1632.1,1257.7 C1632.4,1263.55 1632.93,1266.7 1634.8,1266.7 M1674.9,1266.7 C1676.77,1266.7 1677.3,1263.55 1677.6,1257.7 L1678.1,1242.3 L1678.5,1242.3 L1679,1257.7 C1679.3,1263.55 1679.83,1266.7 1681.7,1266.7 M1687.2,1266.7 C1689.07,1266.7 1689.6,1263.55 1689.9,1257.7 L1690.4,1226 L1690.8,1226 L1691.3,1257.7 C1691.6,1263.55 1692.13,1266.7 1694,1266.7 M1698.3,1266.7 C1700.17,1266.7 1700.7,1263.55 1701,1257.7 L1701.5,1226 L1701.9,1226 L1702.4,1257.7 C1702.7,1263.55 1703.23,1266.7 1705.1,1266.7 M1709.8,1266.7 C1711.67,1266.7 1712.2,1263.55 1712.5,1257.7 L1713,1221.2 L1713.4,1221.2 L1713.9,1257.7 C1714.2,1263.55 1714.73,1266.7 1716.6,1266.7 M1505.3,1266.7 C1507.17,1266.7 1507.7,1267.93 1508,1270.22 L1508.5,1275.5 L1508.9,1275.5 L1509.4,1270.22 C1509.7,1267.93 1510.23,1266.7 1512.1,1266.7 M1517.2,1266.7 C1519.07,1266.7 1519.6,1269.54 1519.9,1274.82 L1520.4,1287 L1520.8,1287 L1521.3,1274.82 C1521.6,1269.54 1522.13,1266.7 1524,1266.7 M1529.2,1266.7 C1531.07,1266.7 1531.6,1268.6 1531.9,1272.14 L1532.4,1280.3 L1532.8,1280.3 L1533.3,1272.14 C1533.6,1268.6 1534.13,1266.7 1536,1266.7 M1541.6,1266.7 C1543.47,1266.7 1544,1269.85 1544.3,1275.7 L1544.8,1291.4 L1545.2,1291.4 L1545.7,1275.7 C1546,1269.85 1546.53,1266.7 1548.4,1266.7 M1597.3,1266.7 C1599.17,1266.7 1599.7,1268.83 1600,1272.78 L1600.5,1281.9 L1600.9,1281.9 L1601.4,1272.78 C1601.7,1268.83 1602.23,1266.7 1604.1,1266.7 M1610.1,1266.7 C1611.97,1266.7 1612.5,1269.85 1612.8,1275.7 L1613.3,1289.5 L1613.7,1289.5 L1614.2,1275.7 C1614.5,1269.85 1615.03,1266.7 1616.9,1266.7 M1622.5,1266.7 C1624.37,1266.7 1624.9,1269.85 1625.2,1275.7 L1625.7,1291.4 L1626.1,1291.4 L1626.6,1275.7 C1626.9,1269.85 1627.43,1266.7 1629.3,1266.7 M1633.4,1266.7 C1635.27,1266.7 1635.8,1269.85 1636.1,1275.7 L1636.6,1295.9 L1637,1295.9 L1637.5,1275.7 C1637.8,1269.85 1638.33,1266.7 1640.2,1266.7 M1682.1,1266.7 C1683.97,1266.7 1684.5,1269.49 1684.8,1274.66 L1685.3,1286.6 L1685.7,1286.6 L1686.2,1274.66 C1686.5,1269.49 1687.03,1266.7 1688.9,1266.7 M1693.1,1266.7 C1694.97,1266.7 1695.5,1269.32 1695.8,1274.18 L1696.3,1285.4 L1696.7,1285.4 L1697.2,1274.18 C1697.5,1269.32 1698.03,1266.7 1699.9,1266.7 M1703.9,1266.7 C1705.77,1266.7 1706.3,1269.85 1706.6,1275.7 L1707.1,1292.2 L1707.5,1292.2 L1708,1275.7 C1708.3,1269.85 1708.83,1266.7 1710.7,1266.7 M1715.1,1266.7 C1716.97,1266.7 1717.5,1269.85 1717.8,1275.7 L1718.3,1301 L1718.7,1301 L1719.2,1275.7 C1719.5,1269.85 1720.03,1266.7 1721.9,1266.7 " fill="none" stroke="#F0383E" stroke-width="2.7" stroke-linejoin="round" stroke-linecap="round"/>
<polyline points="1732.1,1266.7 1734.1,1266.53 1736.1,1266.59 1738.1,1266.62 1740.1,1266.86 1742.1,1266.7 1744.1,1266.79 1746.1,1266.54 1748.1,1266.7 1750.1,1266.84 1752.1,1266.71 1754.1,1266.88 1756.1,1266.85 1758.1,1266.65 1760.1,1266.5 1762.1,1266.8 1764.1,1266.55 1766.1,1266.5 1768.1,1266.79 1770.1,1266.84 1772.1,1266.83 1774.1,1266.88 1776.1,1266.58 1778.1,1266.53 1780.1,1266.55 1782.1,1266.89 1784.1,1266.54 1786.1,1266.56 1788.1,1266.51 1790.1,1266.52 1792.1,1266.52 1794.1,1266.64 1796.1,1266.57 1798.1,1266.62 1800.1,1266.87 1802.1,1266.57 1804.1,1266.83 1806.1,1266.8 1808.1,1266.73 1810.1,1266.73 1812.1,1266.81 1814.1,1266.73 1816.1,1266.59 1818.1,1266.63 1820.1,1266.6 1822.1,1266.66 1824.1,1266.89 1826.1,1266.67 1828.1,1266.53 1830.1,1266.69 1832.1,1266.83 1834.1,1266.68 1835,1266.7" fill="none" stroke="#1B6EE0" stroke-width="3.2" stroke-linejoin="round"/>
<path d="M1760.1,1266.7 C1761.97,1266.7 1762.5,1263.55 1762.8,1257.7 L1763.3,1233.9 L1763.7,1233.9 L1764.2,1257.7 C1764.5,1263.55 1765.03,1266.7 1766.9,1266.7 M1773,1266.7 C1774.87,1266.7 1775.4,1263.55 1775.7,1257.7 L1776.2,1208.1 L1776.6,1208.1 L1777.1,1257.7 C1777.4,1263.55 1777.93,1266.7 1779.8,1266.7 M1786.9,1266.7 C1788.77,1266.7 1789.3,1263.55 1789.6,1257.7 L1790.1,1186.5 L1790.5,1186.5 L1791,1257.7 C1791.3,1263.55 1791.83,1266.7 1793.7,1266.7 M1800,1266.7 C1801.87,1266.7 1802.4,1263.55 1802.7,1257.7 L1803.2,1181.3 L1803.6,1181.3 L1804.1,1257.7 C1804.4,1263.55 1804.93,1266.7 1806.8,1266.7 M1813.2,1266.7 C1815.07,1266.7 1815.6,1263.55 1815.9,1257.7 L1816.4,1186.1 L1816.8,1186.1 L1817.3,1257.7 C1817.6,1263.55 1818.13,1266.7 1820,1266.7 M1768.4,1266.7 C1770.27,1266.7 1770.8,1269.85 1771.1,1275.7 L1771.6,1307.4 L1772,1307.4 L1772.5,1275.7 C1772.8,1269.85 1773.33,1266.7 1775.2,1266.7 M1781.3,1266.7 C1783.17,1266.7 1783.7,1269.85 1784,1275.7 L1784.5,1309.8 L1784.9,1309.8 L1785.4,1275.7 C1785.7,1269.85 1786.23,1266.7 1788.1,1266.7 M1793.6,1266.7 C1795.47,1266.7 1796,1269.85 1796.3,1275.7 L1796.8,1304.5 L1797.2,1304.5 L1797.7,1275.7 C1798,1269.85 1798.53,1266.7 1800.4,1266.7 M1807.4,1266.7 C1809.27,1266.7 1809.8,1269.85 1810.1,1275.7 L1810.6,1299 L1811,1299 L1811.5,1275.7 C1811.8,1269.85 1812.33,1266.7 1814.2,1266.7 M1820.4,1266.7 C1822.27,1266.7 1822.8,1269.85 1823.1,1275.7 L1823.6,1306.2 L1824,1306.2 L1824.5,1275.7 C1824.8,1269.85 1825.33,1266.7 1827.2,1266.7 " fill="none" stroke="#1B6EE0" stroke-width="2.7" stroke-linejoin="round" stroke-linecap="round"/>
<polyline points="1834.5,1266.7 1836.5,1266.73 1838.5,1266.75 1840.5,1266.83 1842.5,1266.61 1844.5,1266.76 1846.5,1266.86 1848.5,1266.86 1850.5,1266.57 1852.5,1266.76 1854.5,1266.75 1856.5,1266.7 1858.5,1266.89 1860.5,1266.71 1862.5,1266.68 1864.5,1266.88 1866.5,1266.75 1868.5,1266.62 1870.5,1266.62 1872.5,1266.7 1874.5,1266.52 1876.5,1266.74 1878.5,1266.79 1880.5,1266.67 1882.5,1266.84 1884.5,1266.87 1886.5,1266.72 1888.5,1266.77 1890.5,1266.55 1892.5,1266.52 1894.5,1266.89 1896.5,1266.61 1898.5,1266.59 1900.5,1266.86 1902.5,1266.8 1904.5,1266.55 1906.5,1266.63 1908.5,1266.6 1910.5,1266.61 1912.5,1266.5 1914.5,1266.71 1916.5,1266.62 1918.5,1266.66 1920.5,1266.57 1922.5,1266.54 1924.5,1266.51 1926.5,1266.85 1928.5,1266.8 1930.5,1266.72 1932.5,1266.55 1934.5,1266.56 1936.5,1266.55 1938.5,1266.63 1940.5,1266.52 1942.5,1266.61 1944.5,1266.58 1946.5,1266.58 1948.5,1266.76 1950.5,1266.68 1952.5,1266.69 1954.5,1266.64 1956.5,1266.72 1958.5,1266.81 1959,1266.7" fill="none" stroke="#32AD68" stroke-width="3.2" stroke-linejoin="round"/>
<path d="M1857.9,1266.7 C1859.77,1266.7 1860.3,1263.55 1860.6,1257.7 L1861.1,1110 L1861.5,1110 L1862,1257.7 C1862.3,1263.55 1862.83,1266.7 1864.7,1266.7 M1872.5,1266.7 C1874.37,1266.7 1874.9,1263.55 1875.2,1257.7 L1875.7,1079.3 L1876.1,1079.3 L1876.6,1257.7 C1876.9,1263.55 1877.43,1266.7 1879.3,1266.7 M1886.4,1266.7 C1888.27,1266.7 1888.8,1263.55 1889.1,1257.7 L1889.6,1062.6 L1890,1062.6 L1890.5,1257.7 C1890.8,1263.55 1891.33,1266.7 1893.2,1266.7 M1900.3,1266.7 C1902.17,1266.7 1902.7,1263.55 1903,1257.7 L1903.5,1052.5 L1903.9,1052.5 L1904.4,1257.7 C1904.7,1263.55 1905.23,1266.7 1907.1,1266.7 M1917.3,1266.7 C1919.17,1266.7 1919.7,1263.55 1920,1257.7 L1920.5,1057.3 L1920.9,1057.3 L1921.4,1257.7 C1921.7,1263.55 1922.23,1266.7 1924.1,1266.7 M1866.3,1266.7 C1868.17,1266.7 1868.7,1269.85 1869,1275.7 L1869.5,1385.9 L1869.9,1385.9 L1870.4,1275.7 C1870.7,1269.85 1871.23,1266.7 1873.1,1266.7 M1879.5,1266.7 C1881.37,1266.7 1881.9,1269.85 1882.2,1275.7 L1882.7,1369.1 L1883.1,1369.1 L1883.6,1275.7 C1883.9,1269.85 1884.43,1266.7 1886.3,1266.7 M1894.1,1266.7 C1895.97,1266.7 1896.5,1269.85 1896.8,1275.7 L1897.3,1349.3 L1897.7,1349.3 L1898.2,1275.7 C1898.5,1269.85 1899.03,1266.7 1900.9,1266.7 M1908.2,1266.7 C1910.07,1266.7 1910.6,1269.85 1910.9,1275.7 L1911.4,1345.7 L1911.8,1345.7 L1912.3,1275.7 C1912.6,1269.85 1913.13,1266.7 1915,1266.7 M1923.5,1266.7 C1925.37,1266.7 1925.9,1269.85 1926.2,1275.7 L1926.7,1356.9 L1927.1,1356.9 L1927.6,1275.7 C1927.9,1269.85 1928.43,1266.7 1930.3,1266.7 " fill="none" stroke="#32AD68" stroke-width="2.7" stroke-linejoin="round" stroke-linecap="round"/>
<rect x="1485.1" y="1007.5" width="85.5" height="409.8" fill="#ECEFF9" style="mix-blend-mode:multiply"/>
<rect x="1574.1" y="1007.5" width="85.4" height="409.8" fill="#FDF2EA" style="mix-blend-mode:multiply"/>
<rect x="1663" y="1007.5" width="91.9" height="409.8" fill="#EFEAF5" style="mix-blend-mode:multiply"/>
<rect x="1758.2" y="1007.5" width="87.8" height="409.8" fill="#F0EEE4" style="mix-blend-mode:multiply"/>
<rect x="1850.8" y="1007.5" width="87.8" height="409.8" fill="#ECF1EC" style="mix-blend-mode:multiply"/>
<text x="1496.2" y="1154.6" font-size="29.6" font-weight="normal" font-style="normal" fill="#000" text-anchor="start" >Point :&#160; E<tspan font-size="19.8" dy="7.2">1</tspan><tspan dy="-7.2" font-size="29.6">, </tspan>E<tspan font-size="19.8" dy="7.2">2</tspan><tspan dy="-7.2" font-size="29.6">, </tspan>E<tspan font-size="19.8" dy="7.2">3</tspan><tspan dy="-7.2" font-size="29.6"></tspan></text>
<text x="1768.3" y="1155.2" font-size="29.6" font-weight="normal" font-style="normal" fill="#000" text-anchor="start" >E<tspan font-size="19.8" dy="7.2">1</tspan><tspan dy="-7.2" font-size="29.6">-</tspan>E<tspan font-size="19.8" dy="7.2">2</tspan><tspan dy="-7.2" font-size="29.6"></tspan></text>
<text x="1865.2" y="1044.6" font-size="29.6" font-weight="normal" font-style="normal" fill="#000" text-anchor="start" >E<tspan font-size="19.8" dy="7.2">1</tspan><tspan dy="-7.2" font-size="29.6">-</tspan>E<tspan font-size="19.8" dy="7.2">4</tspan><tspan dy="-7.2" font-size="29.6"></tspan></text>
<path d="M1496.4,1187 L1496.4,1179.1 Q1496.4,1172.1 1503.4,1172.1 L1607.5,1172.1 Q1612.5,1172.1 1613.5,1165.4 Q1614.5,1172.1 1619.5,1172.1 L1717.1,1172.1 Q1724.1,1172.1 1724.1,1179.1 L1724.1,1187" fill="none" stroke="#4472C4" stroke-width="1.6" />
<rect x="1457.6" y="1005.9" width="514.4" height="413.4" fill="none" stroke="#000" stroke-width="3.2" />
<line x1="1449" y1="1005.76" x2="1457.6" y2="1005.76" stroke="#000" stroke-width="3.2" />
<line x1="1449" y1="1049.3" x2="1457.6" y2="1049.3" stroke="#000" stroke-width="3.2" />
<line x1="1449" y1="1092.84" x2="1457.6" y2="1092.84" stroke="#000" stroke-width="3.2" />
<line x1="1449" y1="1136.38" x2="1457.6" y2="1136.38" stroke="#000" stroke-width="3.2" />
<line x1="1449" y1="1179.92" x2="1457.6" y2="1179.92" stroke="#000" stroke-width="3.2" />
<line x1="1449" y1="1223.46" x2="1457.6" y2="1223.46" stroke="#000" stroke-width="3.2" />
<line x1="1449" y1="1267" x2="1457.6" y2="1267" stroke="#000" stroke-width="3.2" />
<line x1="1449" y1="1310.54" x2="1457.6" y2="1310.54" stroke="#000" stroke-width="3.2" />
<line x1="1449" y1="1354.08" x2="1457.6" y2="1354.08" stroke="#000" stroke-width="3.2" />
<line x1="1449" y1="1397.62" x2="1457.6" y2="1397.62" stroke="#000" stroke-width="3.2" />
<line x1="1453.2" y1="1027.53" x2="1457.6" y2="1027.53" stroke="#000" stroke-width="3.2" />
<line x1="1453.2" y1="1071.07" x2="1457.6" y2="1071.07" stroke="#000" stroke-width="3.2" />
<line x1="1453.2" y1="1114.61" x2="1457.6" y2="1114.61" stroke="#000" stroke-width="3.2" />
<line x1="1453.2" y1="1158.15" x2="1457.6" y2="1158.15" stroke="#000" stroke-width="3.2" />
<line x1="1453.2" y1="1201.69" x2="1457.6" y2="1201.69" stroke="#000" stroke-width="3.2" />
<line x1="1453.2" y1="1245.23" x2="1457.6" y2="1245.23" stroke="#000" stroke-width="3.2" />
<line x1="1453.2" y1="1288.77" x2="1457.6" y2="1288.77" stroke="#000" stroke-width="3.2" />
<line x1="1453.2" y1="1332.31" x2="1457.6" y2="1332.31" stroke="#000" stroke-width="3.2" />
<line x1="1453.2" y1="1375.85" x2="1457.6" y2="1375.85" stroke="#000" stroke-width="3.2" />
<line x1="1453.2" y1="1419.39" x2="1457.6" y2="1419.39" stroke="#000" stroke-width="3.2" />
<text x="1437.3" y="1014.76" font-size="26" font-weight="bold" font-style="normal" fill="#000" text-anchor="end" >120</text>
<text x="1437.3" y="1058.3" font-size="26" font-weight="bold" font-style="normal" fill="#000" text-anchor="end" >100</text>
<text x="1437.3" y="1101.84" font-size="26" font-weight="bold" font-style="normal" fill="#000" text-anchor="end" >80</text>
<text x="1437.3" y="1145.38" font-size="26" font-weight="bold" font-style="normal" fill="#000" text-anchor="end" >60</text>
<text x="1437.3" y="1188.92" font-size="26" font-weight="bold" font-style="normal" fill="#000" text-anchor="end" >40</text>
<text x="1437.3" y="1232.46" font-size="26" font-weight="bold" font-style="normal" fill="#000" text-anchor="end" >20</text>
<text x="1437.3" y="1276" font-size="26" font-weight="bold" font-style="normal" fill="#000" text-anchor="end" >0</text>
<text x="1437.3" y="1319.54" font-size="26" font-weight="bold" font-style="normal" fill="#000" text-anchor="end" >-20</text>
<text x="1437.3" y="1363.08" font-size="26" font-weight="bold" font-style="normal" fill="#000" text-anchor="end" >-40</text>
<text x="1437.3" y="1406.62" font-size="26" font-weight="bold" font-style="normal" fill="#000" text-anchor="end" >-60</text>
<line x1="1457.6" y1="1419.3" x2="1457.6" y2="1427.7" stroke="#000" stroke-width="3.2" />
<line x1="1560.48" y1="1419.3" x2="1560.48" y2="1427.7" stroke="#000" stroke-width="3.2" />
<line x1="1663.36" y1="1419.3" x2="1663.36" y2="1427.7" stroke="#000" stroke-width="3.2" />
<line x1="1766.24" y1="1419.3" x2="1766.24" y2="1427.7" stroke="#000" stroke-width="3.2" />
<line x1="1869.12" y1="1419.3" x2="1869.12" y2="1427.7" stroke="#000" stroke-width="3.2" />
<line x1="1972" y1="1419.3" x2="1972" y2="1427.7" stroke="#000" stroke-width="3.2" />
<line x1="1509.04" y1="1419.3" x2="1509.04" y2="1423.5" stroke="#000" stroke-width="3.2" />
<line x1="1611.92" y1="1419.3" x2="1611.92" y2="1423.5" stroke="#000" stroke-width="3.2" />
<line x1="1714.8" y1="1419.3" x2="1714.8" y2="1423.5" stroke="#000" stroke-width="3.2" />
<line x1="1817.68" y1="1419.3" x2="1817.68" y2="1423.5" stroke="#000" stroke-width="3.2" />
<line x1="1920.56" y1="1419.3" x2="1920.56" y2="1423.5" stroke="#000" stroke-width="3.2" />
<text x="1457.6" y="1458.4" font-size="26" font-weight="bold" font-style="normal" fill="#000" text-anchor="middle" >0</text>
<text x="1560.48" y="1458.4" font-size="26" font-weight="bold" font-style="normal" fill="#000" text-anchor="middle" >3</text>
<text x="1663.36" y="1458.4" font-size="26" font-weight="bold" font-style="normal" fill="#000" text-anchor="middle" >6</text>
<text x="1766.24" y="1458.4" font-size="26" font-weight="bold" font-style="normal" fill="#000" text-anchor="middle" >9</text>
<text x="1869.12" y="1458.4" font-size="26" font-weight="bold" font-style="normal" fill="#000" text-anchor="middle" >12</text>
<text x="1972" y="1458.4" font-size="26" font-weight="bold" font-style="normal" fill="#000" text-anchor="middle" >15</text>
<text transform="translate(1370.3 1212) rotate(-90)" font-size="26" font-weight="bold" fill="#000" text-anchor="middle">Voltage (V)</text>
<text x="1715" y="1497" font-size="26" font-weight="bold" font-style="normal" fill="#000" text-anchor="middle" >Time (s)</text>
</g>
</svg>
</body></html>
